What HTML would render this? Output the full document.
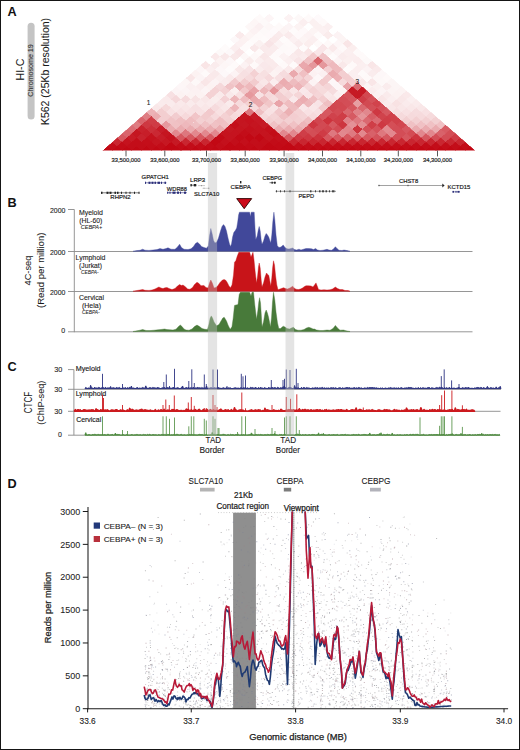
<!DOCTYPE html>
<html><head><meta charset="utf-8"><style>
html,body{margin:0;padding:0;background:#fff;}
body{width:520px;height:750px;position:relative;overflow:hidden;font-family:"Liberation Sans", sans-serif;}
.frame{position:absolute;left:0;top:0;width:518px;height:748px;border:1px solid #151515;pointer-events:none;}
</style></head><body>
<svg width="520" height="750" viewBox="0 0 520 750" style="position:absolute;left:0;top:0" font-family='"Liberation Sans", sans-serif'><rect x="0" y="0" width="520" height="750" fill="#fff"/><clipPath id="hicclip"><polygon points="102.50,150.50 475.20,150.50 288.85,-11.62"/></clipPath><g clip-path="url(#hicclip)" shape-rendering="crispEdges"><polygon points="102.50,150.50 107.40,146.23 112.31,150.50 107.40,154.77" fill="#c20814" stroke="#c20814" stroke-width="0.3"/><polygon points="107.40,146.23 112.31,141.97 117.21,146.23 112.31,150.50" fill="#c30d19" stroke="#c30d19" stroke-width="0.3"/><polygon points="112.31,141.97 117.21,137.70 122.12,141.97 117.21,146.23" fill="#c92630" stroke="#c92630" stroke-width="0.3"/><polygon points="117.21,137.70 122.12,133.43 127.02,137.70 122.12,141.97" fill="#d6575f" stroke="#d6575f" stroke-width="0.3"/><polygon points="122.12,133.43 127.02,129.17 131.92,133.43 127.02,137.70" fill="#d9646c" stroke="#d9646c" stroke-width="0.3"/><polygon points="127.02,129.17 131.92,124.90 136.83,129.17 131.92,133.43" fill="#db6c74" stroke="#db6c74" stroke-width="0.3"/><polygon points="131.92,124.90 136.83,120.63 141.73,124.90 136.83,129.17" fill="#df7c82" stroke="#df7c82" stroke-width="0.3"/><polygon points="136.83,120.63 141.73,116.37 146.64,120.63 141.73,124.90" fill="#d9656d" stroke="#d9656d" stroke-width="0.3"/><polygon points="141.73,116.37 146.64,112.10 151.54,116.37 146.64,120.63" fill="#df7d83" stroke="#df7d83" stroke-width="0.3"/><polygon points="146.64,112.10 151.54,107.84 156.44,112.10 151.54,116.37" fill="#ecb2b6" stroke="#ecb2b6" stroke-width="0.3"/><polygon points="151.54,107.84 156.44,103.57 161.35,107.84 156.44,112.10" fill="#f9e7e8" stroke="#f9e7e8" stroke-width="0.3"/><polygon points="156.44,103.57 161.35,99.30 166.25,103.57 161.35,107.84" fill="#faebec" stroke="#faebec" stroke-width="0.3"/><polygon points="161.35,99.30 166.25,95.04 171.16,99.30 166.25,103.57" fill="#faeaeb" stroke="#faeaeb" stroke-width="0.3"/><polygon points="166.25,95.04 171.16,90.77 176.06,95.04 171.16,99.30" fill="#f7e0e2" stroke="#f7e0e2" stroke-width="0.3"/><polygon points="171.16,90.77 176.06,86.50 180.96,90.77 176.06,95.04" fill="#fcf4f5" stroke="#fcf4f5" stroke-width="0.3"/><polygon points="176.06,86.50 180.96,82.24 185.87,86.50 180.96,90.77" fill="#fdf6f7" stroke="#fdf6f7" stroke-width="0.3"/><polygon points="180.96,82.24 185.87,77.97 190.77,82.24 185.87,86.50" fill="#fdf6f6" stroke="#fdf6f6" stroke-width="0.3"/><polygon points="185.87,77.97 190.77,73.70 195.67,77.97 190.77,82.24" fill="#f9e6e7" stroke="#f9e6e7" stroke-width="0.3"/><polygon points="190.77,73.70 195.68,69.44 200.58,73.70 195.68,77.97" fill="#fcf2f2" stroke="#fcf2f2" stroke-width="0.3"/><polygon points="195.67,69.44 200.58,65.17 205.48,69.44 200.58,73.70" fill="#fdf6f7" stroke="#fdf6f7" stroke-width="0.3"/><polygon points="200.58,65.17 205.48,60.90 210.39,65.17 205.48,69.44" fill="#f9e5e6" stroke="#f9e5e6" stroke-width="0.3"/><polygon points="210.39,56.64 215.29,52.37 220.19,56.64 215.29,60.90" fill="#fae9ea" stroke="#fae9ea" stroke-width="0.3"/><polygon points="215.29,52.37 220.19,48.11 225.10,52.37 220.19,56.64" fill="#fdf9f9" stroke="#fdf9f9" stroke-width="0.3"/><polygon points="220.19,48.11 225.10,43.84 230.00,48.11 225.10,52.37" fill="#fefbfb" stroke="#fefbfb" stroke-width="0.3"/><polygon points="230.00,39.57 234.91,35.31 239.81,39.57 234.91,43.84" fill="#fdf8f9" stroke="#fdf8f9" stroke-width="0.3"/><polygon points="234.91,35.31 239.81,31.04 244.71,35.31 239.81,39.57" fill="#faeaeb" stroke="#faeaeb" stroke-width="0.3"/><polygon points="244.71,26.77 249.62,22.51 254.52,26.77 249.62,31.04" fill="#fdf7f7" stroke="#fdf7f7" stroke-width="0.3"/><polygon points="249.62,22.51 254.52,18.24 259.43,22.51 254.52,26.77" fill="#fdf6f6" stroke="#fdf6f6" stroke-width="0.3"/><polygon points="254.52,18.24 259.43,13.97 264.33,18.24 259.43,22.51" fill="#fefafa" stroke="#fefafa" stroke-width="0.3"/><polygon points="112.31,150.50 117.21,146.23 122.12,150.50 117.21,154.77" fill="#c20814" stroke="#c20814" stroke-width="0.3"/><polygon points="117.21,146.23 122.12,141.97 127.02,146.23 122.12,150.50" fill="#c30c18" stroke="#c30c18" stroke-width="0.3"/><polygon points="122.12,141.97 127.02,137.70 131.92,141.97 127.02,146.23" fill="#c5121e" stroke="#c5121e" stroke-width="0.3"/><polygon points="127.02,137.70 131.92,133.43 136.83,137.70 131.92,141.97" fill="#c71b26" stroke="#c71b26" stroke-width="0.3"/><polygon points="131.92,133.43 136.83,129.17 141.73,133.43 136.83,137.70" fill="#c51621" stroke="#c51621" stroke-width="0.3"/><polygon points="136.83,129.17 141.73,124.90 146.64,129.17 141.73,133.43" fill="#c8212c" stroke="#c8212c" stroke-width="0.3"/><polygon points="141.73,124.90 146.64,120.63 151.54,124.90 146.64,129.17" fill="#ce3842" stroke="#ce3842" stroke-width="0.3"/><polygon points="146.64,120.63 151.54,116.37 156.44,120.63 151.54,124.90" fill="#cf3d46" stroke="#cf3d46" stroke-width="0.3"/><polygon points="151.54,116.37 156.44,112.10 161.35,116.37 156.44,120.63" fill="#eaacb0" stroke="#eaacb0" stroke-width="0.3"/><polygon points="156.44,112.10 161.35,107.84 166.25,112.10 161.35,116.37" fill="#f3ced0" stroke="#f3ced0" stroke-width="0.3"/><polygon points="161.35,107.84 166.25,103.57 171.16,107.84 166.25,112.10" fill="#f6d9da" stroke="#f6d9da" stroke-width="0.3"/><polygon points="166.25,103.57 171.16,99.30 176.06,103.57 171.16,107.84" fill="#faebec" stroke="#faebec" stroke-width="0.3"/><polygon points="171.16,99.30 176.06,95.04 180.96,99.30 176.06,103.57" fill="#f5d8da" stroke="#f5d8da" stroke-width="0.3"/><polygon points="176.06,95.04 180.96,90.77 185.87,95.04 180.96,99.30" fill="#fcf2f2" stroke="#fcf2f2" stroke-width="0.3"/><polygon points="180.96,90.77 185.87,86.50 190.77,90.77 185.87,95.04" fill="#fcf4f5" stroke="#fcf4f5" stroke-width="0.3"/><polygon points="185.87,86.50 190.77,82.24 195.67,86.50 190.77,90.77" fill="#fbf0f1" stroke="#fbf0f1" stroke-width="0.3"/><polygon points="190.77,82.24 195.68,77.97 200.58,82.24 195.68,86.50" fill="#fdf8f8" stroke="#fdf8f8" stroke-width="0.3"/><polygon points="195.67,77.97 200.58,73.70 205.48,77.97 200.58,82.24" fill="#fcf4f5" stroke="#fcf4f5" stroke-width="0.3"/><polygon points="200.58,73.70 205.48,69.44 210.39,73.70 205.48,77.97" fill="#fefafa" stroke="#fefafa" stroke-width="0.3"/><polygon points="205.48,69.44 210.39,65.17 215.29,69.44 210.39,73.70" fill="#fbeff0" stroke="#fbeff0" stroke-width="0.3"/><polygon points="210.39,65.17 215.29,60.90 220.19,65.17 215.29,69.44" fill="#faeced" stroke="#faeced" stroke-width="0.3"/><polygon points="215.29,60.90 220.19,56.64 225.10,60.90 220.19,65.17" fill="#fcf2f2" stroke="#fcf2f2" stroke-width="0.3"/><polygon points="220.19,56.64 225.10,52.37 230.00,56.64 225.10,60.90" fill="#f9e8e9" stroke="#f9e8e9" stroke-width="0.3"/><polygon points="225.10,52.37 230.00,48.11 234.91,52.37 230.00,56.64" fill="#fdf8f9" stroke="#fdf8f9" stroke-width="0.3"/><polygon points="230.00,48.11 234.91,43.84 239.81,48.11 234.91,52.37" fill="#fbeeef" stroke="#fbeeef" stroke-width="0.3"/><polygon points="234.91,43.84 239.81,39.57 244.71,43.84 239.81,48.11" fill="#fcf1f2" stroke="#fcf1f2" stroke-width="0.3"/><polygon points="239.81,39.57 244.71,35.31 249.62,39.57 244.71,43.84" fill="#fcf2f2" stroke="#fcf2f2" stroke-width="0.3"/><polygon points="244.71,35.31 249.62,31.04 254.52,35.31 249.62,39.57" fill="#fdf5f5" stroke="#fdf5f5" stroke-width="0.3"/><polygon points="249.62,31.04 254.52,26.77 259.43,31.04 254.52,35.31" fill="#fcf2f3" stroke="#fcf2f3" stroke-width="0.3"/><polygon points="254.52,26.77 259.43,22.51 264.33,26.77 259.43,31.04" fill="#fbf0f1" stroke="#fbf0f1" stroke-width="0.3"/><polygon points="259.43,22.51 264.33,18.24 269.23,22.51 264.33,26.77" fill="#fdf9f9" stroke="#fdf9f9" stroke-width="0.3"/><polygon points="264.33,18.24 269.23,13.97 274.14,18.24 269.23,22.51" fill="#fdf5f6" stroke="#fdf5f6" stroke-width="0.3"/><polygon points="122.12,150.50 127.02,146.23 131.92,150.50 127.02,154.77" fill="#c20814" stroke="#c20814" stroke-width="0.3"/><polygon points="127.02,146.23 131.92,141.97 136.83,146.23 131.92,150.50" fill="#c30d19" stroke="#c30d19" stroke-width="0.3"/><polygon points="131.92,141.97 136.83,137.70 141.73,141.97 136.83,146.23" fill="#c30d19" stroke="#c30d19" stroke-width="0.3"/><polygon points="136.83,137.70 141.73,133.43 146.64,137.70 141.73,141.97" fill="#c8222d" stroke="#c8222d" stroke-width="0.3"/><polygon points="141.73,133.43 146.64,129.17 151.54,133.43 146.64,137.70" fill="#c71e29" stroke="#c71e29" stroke-width="0.3"/><polygon points="146.64,129.17 151.54,124.90 156.44,129.17 151.54,133.43" fill="#cc2f39" stroke="#cc2f39" stroke-width="0.3"/><polygon points="151.54,124.90 156.44,120.63 161.35,124.90 156.44,129.17" fill="#cf3b45" stroke="#cf3b45" stroke-width="0.3"/><polygon points="156.44,120.63 161.35,116.37 166.25,120.63 161.35,124.90" fill="#f3ced1" stroke="#f3ced1" stroke-width="0.3"/><polygon points="161.35,116.37 166.25,112.10 171.16,116.37 166.25,120.63" fill="#f3ced0" stroke="#f3ced0" stroke-width="0.3"/><polygon points="166.25,112.10 171.16,107.84 176.06,112.10 171.16,116.37" fill="#f8e1e3" stroke="#f8e1e3" stroke-width="0.3"/><polygon points="171.16,107.84 176.06,103.57 180.96,107.84 176.06,112.10" fill="#f9e7e8" stroke="#f9e7e8" stroke-width="0.3"/><polygon points="176.06,103.57 180.96,99.30 185.87,103.57 180.96,107.84" fill="#fae9ea" stroke="#fae9ea" stroke-width="0.3"/><polygon points="180.96,99.30 185.87,95.04 190.77,99.30 185.87,103.57" fill="#f6dbdd" stroke="#f6dbdd" stroke-width="0.3"/><polygon points="185.87,95.04 190.77,90.77 195.67,95.04 190.77,99.30" fill="#fcf2f2" stroke="#fcf2f2" stroke-width="0.3"/><polygon points="190.77,90.77 195.68,86.50 200.58,90.77 195.68,95.04" fill="#fcf1f2" stroke="#fcf1f2" stroke-width="0.3"/><polygon points="195.67,86.50 200.58,82.24 205.48,86.50 200.58,90.77" fill="#fbeeef" stroke="#fbeeef" stroke-width="0.3"/><polygon points="200.58,82.24 205.48,77.97 210.39,82.24 205.48,86.50" fill="#f9e6e7" stroke="#f9e6e7" stroke-width="0.3"/><polygon points="205.48,77.97 210.39,73.70 215.29,77.97 210.39,82.24" fill="#fae9ea" stroke="#fae9ea" stroke-width="0.3"/><polygon points="210.39,73.70 215.29,69.44 220.19,73.70 215.29,77.97" fill="#f9e9ea" stroke="#f9e9ea" stroke-width="0.3"/><polygon points="215.29,69.44 220.19,65.17 225.10,69.44 220.19,73.70" fill="#fdf7f8" stroke="#fdf7f8" stroke-width="0.3"/><polygon points="220.19,65.17 225.10,60.90 230.00,65.17 225.10,69.44" fill="#fdf6f6" stroke="#fdf6f6" stroke-width="0.3"/><polygon points="225.10,60.90 230.00,56.64 234.91,60.90 230.00,65.17" fill="#fdf7f8" stroke="#fdf7f8" stroke-width="0.3"/><polygon points="230.00,56.64 234.91,52.37 239.81,56.64 234.91,60.90" fill="#f9e8e9" stroke="#f9e8e9" stroke-width="0.3"/><polygon points="234.91,52.37 239.81,48.11 244.71,52.37 239.81,56.64" fill="#f9e5e7" stroke="#f9e5e7" stroke-width="0.3"/><polygon points="239.81,48.11 244.71,43.84 249.62,48.11 244.71,52.37" fill="#fefbfb" stroke="#fefbfb" stroke-width="0.3"/><polygon points="244.71,43.84 249.62,39.57 254.52,43.84 249.62,48.11" fill="#fefbfb" stroke="#fefbfb" stroke-width="0.3"/><polygon points="249.62,39.57 254.52,35.31 259.43,39.57 254.52,43.84" fill="#fefafa" stroke="#fefafa" stroke-width="0.3"/><polygon points="254.52,35.31 259.43,31.04 264.33,35.31 259.43,39.57" fill="#fefafa" stroke="#fefafa" stroke-width="0.3"/><polygon points="259.43,31.04 264.33,26.77 269.23,31.04 264.33,35.31" fill="#fdf9f9" stroke="#fdf9f9" stroke-width="0.3"/><polygon points="264.33,26.77 269.23,22.51 274.14,26.77 269.23,31.04" fill="#fdf7f7" stroke="#fdf7f7" stroke-width="0.3"/><polygon points="131.92,150.50 136.83,146.23 141.73,150.50 136.83,154.77" fill="#c20814" stroke="#c20814" stroke-width="0.3"/><polygon points="136.83,146.23 141.73,141.97 146.64,146.23 141.73,150.50" fill="#c30d19" stroke="#c30d19" stroke-width="0.3"/><polygon points="141.73,141.97 146.64,137.70 151.54,141.97 146.64,146.23" fill="#c40e1a" stroke="#c40e1a" stroke-width="0.3"/><polygon points="146.64,137.70 151.54,133.43 156.44,137.70 151.54,141.97" fill="#c4121d" stroke="#c4121d" stroke-width="0.3"/><polygon points="151.54,133.43 156.44,129.17 161.35,133.43 156.44,137.70" fill="#ca2833" stroke="#ca2833" stroke-width="0.3"/><polygon points="156.44,129.17 161.35,124.90 166.25,129.17 161.35,133.43" fill="#c71c28" stroke="#c71c28" stroke-width="0.3"/><polygon points="161.35,124.90 166.25,120.63 171.16,124.90 166.25,129.17" fill="#e6999e" stroke="#e6999e" stroke-width="0.3"/><polygon points="166.25,120.63 171.16,116.37 176.06,120.63 171.16,124.90" fill="#f0c3c6" stroke="#f0c3c6" stroke-width="0.3"/><polygon points="171.16,116.37 176.06,112.10 180.96,116.37 176.06,120.63" fill="#f2cccf" stroke="#f2cccf" stroke-width="0.3"/><polygon points="176.06,112.10 180.96,107.84 185.87,112.10 180.96,116.37" fill="#f8e1e3" stroke="#f8e1e3" stroke-width="0.3"/><polygon points="180.96,107.84 185.87,103.57 190.77,107.84 185.87,112.10" fill="#f9e6e7" stroke="#f9e6e7" stroke-width="0.3"/><polygon points="185.87,103.57 190.77,99.30 195.67,103.57 190.77,107.84" fill="#faebec" stroke="#faebec" stroke-width="0.3"/><polygon points="190.77,99.30 195.68,95.04 200.58,99.30 195.68,103.57" fill="#f8e3e4" stroke="#f8e3e4" stroke-width="0.3"/><polygon points="195.67,95.04 200.58,90.77 205.48,95.04 200.58,99.30" fill="#fcf2f2" stroke="#fcf2f2" stroke-width="0.3"/><polygon points="200.58,90.77 205.48,86.50 210.39,90.77 205.48,95.04" fill="#fcf4f5" stroke="#fcf4f5" stroke-width="0.3"/><polygon points="205.48,86.50 210.39,82.24 215.29,86.50 210.39,90.77" fill="#fcf2f2" stroke="#fcf2f2" stroke-width="0.3"/><polygon points="210.39,82.24 215.29,77.97 220.19,82.24 215.29,86.50" fill="#fcf3f4" stroke="#fcf3f4" stroke-width="0.3"/><polygon points="215.29,77.97 220.19,73.70 225.10,77.97 220.19,82.24" fill="#fbeff0" stroke="#fbeff0" stroke-width="0.3"/><polygon points="220.19,73.70 225.10,69.44 230.00,73.70 225.10,77.97" fill="#fdf8f9" stroke="#fdf8f9" stroke-width="0.3"/><polygon points="225.10,69.44 230.00,65.17 234.91,69.44 230.00,73.70" fill="#fefbfb" stroke="#fefbfb" stroke-width="0.3"/><polygon points="230.00,65.17 234.91,60.90 239.81,65.17 234.91,69.44" fill="#fefafa" stroke="#fefafa" stroke-width="0.3"/><polygon points="239.81,56.64 244.71,52.37 249.62,56.64 244.71,60.90" fill="#fdf7f7" stroke="#fdf7f7" stroke-width="0.3"/><polygon points="249.62,48.11 254.52,43.84 259.43,48.11 254.52,52.37" fill="#f9e8e9" stroke="#f9e8e9" stroke-width="0.3"/><polygon points="254.52,43.84 259.43,39.57 264.33,43.84 259.43,48.11" fill="#fbf1f1" stroke="#fbf1f1" stroke-width="0.3"/><polygon points="259.43,39.57 264.33,35.31 269.23,39.57 264.33,43.84" fill="#fefbfb" stroke="#fefbfb" stroke-width="0.3"/><polygon points="264.33,35.31 269.23,31.04 274.14,35.31 269.23,39.57" fill="#fef9fa" stroke="#fef9fa" stroke-width="0.3"/><polygon points="269.23,31.04 274.14,26.77 279.04,31.04 274.14,35.31" fill="#fefafb" stroke="#fefafb" stroke-width="0.3"/><polygon points="274.14,26.77 279.04,22.51 283.95,26.77 279.04,31.04" fill="#fefafa" stroke="#fefafa" stroke-width="0.3"/><polygon points="283.95,18.24 288.85,13.97 293.75,18.24 288.85,22.51" fill="#fcf2f3" stroke="#fcf2f3" stroke-width="0.3"/><polygon points="141.73,150.50 146.64,146.23 151.54,150.50 146.64,154.77" fill="#c20814" stroke="#c20814" stroke-width="0.3"/><polygon points="146.64,146.23 151.54,141.97 156.44,146.23 151.54,150.50" fill="#c30d19" stroke="#c30d19" stroke-width="0.3"/><polygon points="151.54,141.97 156.44,137.70 161.35,141.97 156.44,146.23" fill="#c51520" stroke="#c51520" stroke-width="0.3"/><polygon points="156.44,137.70 161.35,133.43 166.25,137.70 161.35,141.97" fill="#c71c27" stroke="#c71c27" stroke-width="0.3"/><polygon points="161.35,133.43 166.25,129.17 171.16,133.43 166.25,137.70" fill="#c51520" stroke="#c51520" stroke-width="0.3"/><polygon points="166.25,129.17 171.16,124.90 176.06,129.17 171.16,133.43" fill="#eaabaf" stroke="#eaabaf" stroke-width="0.3"/><polygon points="171.16,124.90 176.06,120.63 180.96,124.90 176.06,129.17" fill="#f0c1c4" stroke="#f0c1c4" stroke-width="0.3"/><polygon points="176.06,120.63 180.96,116.37 185.87,120.63 180.96,124.90" fill="#efbfc2" stroke="#efbfc2" stroke-width="0.3"/><polygon points="180.96,116.37 185.87,112.10 190.77,116.37 185.87,120.63" fill="#f6d9db" stroke="#f6d9db" stroke-width="0.3"/><polygon points="185.87,112.10 190.77,107.84 195.67,112.10 190.77,116.37" fill="#f8e1e3" stroke="#f8e1e3" stroke-width="0.3"/><polygon points="190.77,107.84 195.68,103.57 200.58,107.84 195.68,112.10" fill="#f7e0e2" stroke="#f7e0e2" stroke-width="0.3"/><polygon points="195.67,103.57 200.58,99.30 205.48,103.57 200.58,107.84" fill="#faebec" stroke="#faebec" stroke-width="0.3"/><polygon points="200.58,99.30 205.48,95.04 210.39,99.30 205.48,103.57" fill="#f9e7e8" stroke="#f9e7e8" stroke-width="0.3"/><polygon points="205.48,95.04 210.39,90.77 215.29,95.04 210.39,99.30" fill="#f4d2d4" stroke="#f4d2d4" stroke-width="0.3"/><polygon points="210.39,90.77 215.29,86.50 220.19,90.77 215.29,95.04" fill="#f4d2d4" stroke="#f4d2d4" stroke-width="0.3"/><polygon points="215.29,86.50 220.19,82.24 225.10,86.50 220.19,90.77" fill="#f5d8da" stroke="#f5d8da" stroke-width="0.3"/><polygon points="220.19,82.24 225.10,77.97 230.00,82.24 225.10,86.50" fill="#faeced" stroke="#faeced" stroke-width="0.3"/><polygon points="225.10,77.97 230.00,73.70 234.91,77.97 230.00,82.24" fill="#faeaeb" stroke="#faeaeb" stroke-width="0.3"/><polygon points="230.00,73.70 234.91,69.44 239.81,73.70 234.91,77.97" fill="#fcf3f4" stroke="#fcf3f4" stroke-width="0.3"/><polygon points="234.91,69.44 239.81,65.17 244.71,69.44 239.81,73.70" fill="#f9e8e9" stroke="#f9e8e9" stroke-width="0.3"/><polygon points="239.81,65.17 244.71,60.90 249.62,65.17 244.71,69.44" fill="#fcf2f3" stroke="#fcf2f3" stroke-width="0.3"/><polygon points="244.71,60.90 249.62,56.64 254.52,60.90 249.62,65.17" fill="#faecec" stroke="#faecec" stroke-width="0.3"/><polygon points="249.62,56.64 254.52,52.37 259.43,56.64 254.52,60.90" fill="#fdf8f8" stroke="#fdf8f8" stroke-width="0.3"/><polygon points="254.52,52.37 259.43,48.11 264.33,52.37 259.43,56.64" fill="#fefafa" stroke="#fefafa" stroke-width="0.3"/><polygon points="259.43,48.11 264.33,43.84 269.23,48.11 264.33,52.37" fill="#faeaeb" stroke="#faeaeb" stroke-width="0.3"/><polygon points="264.33,43.84 269.23,39.57 274.14,43.84 269.23,48.11" fill="#f8e4e6" stroke="#f8e4e6" stroke-width="0.3"/><polygon points="269.23,39.57 274.14,35.31 279.04,39.57 274.14,43.84" fill="#fae9ea" stroke="#fae9ea" stroke-width="0.3"/><polygon points="274.14,35.31 279.04,31.04 283.95,35.31 279.04,39.57" fill="#faebec" stroke="#faebec" stroke-width="0.3"/><polygon points="279.04,31.04 283.95,26.77 288.85,31.04 283.95,35.31" fill="#fcf3f3" stroke="#fcf3f3" stroke-width="0.3"/><polygon points="283.95,26.77 288.85,22.51 293.75,26.77 288.85,31.04" fill="#fcf4f5" stroke="#fcf4f5" stroke-width="0.3"/><polygon points="293.75,18.24 298.66,13.97 303.56,18.24 298.66,22.51" fill="#fdf8f8" stroke="#fdf8f8" stroke-width="0.3"/><polygon points="151.54,150.50 156.44,146.23 161.35,150.50 156.44,154.77" fill="#c20814" stroke="#c20814" stroke-width="0.3"/><polygon points="156.44,146.23 161.35,141.97 166.25,146.23 161.35,150.50" fill="#c30d19" stroke="#c30d19" stroke-width="0.3"/><polygon points="161.35,141.97 166.25,137.70 171.16,141.97 166.25,146.23" fill="#c61722" stroke="#c61722" stroke-width="0.3"/><polygon points="166.25,137.70 171.16,133.43 176.06,137.70 171.16,141.97" fill="#c4111d" stroke="#c4111d" stroke-width="0.3"/><polygon points="171.16,133.43 176.06,129.17 180.96,133.43 176.06,137.70" fill="#e2888e" stroke="#e2888e" stroke-width="0.3"/><polygon points="176.06,129.17 180.96,124.90 185.87,129.17 180.96,133.43" fill="#eaabaf" stroke="#eaabaf" stroke-width="0.3"/><polygon points="180.96,124.90 185.87,120.63 190.77,124.90 185.87,129.17" fill="#eeb8bc" stroke="#eeb8bc" stroke-width="0.3"/><polygon points="185.87,120.63 190.77,116.37 195.67,120.63 190.77,124.90" fill="#efbdc0" stroke="#efbdc0" stroke-width="0.3"/><polygon points="190.77,116.37 195.68,112.10 200.58,116.37 195.68,120.63" fill="#f1c5c8" stroke="#f1c5c8" stroke-width="0.3"/><polygon points="195.67,112.10 200.58,107.84 205.48,112.10 200.58,116.37" fill="#f8e1e3" stroke="#f8e1e3" stroke-width="0.3"/><polygon points="200.58,107.84 205.48,103.57 210.39,107.84 205.48,112.10" fill="#f9e7e8" stroke="#f9e7e8" stroke-width="0.3"/><polygon points="205.48,103.57 210.39,99.30 215.29,103.57 210.39,107.84" fill="#faebec" stroke="#faebec" stroke-width="0.3"/><polygon points="210.39,99.30 215.29,95.04 220.19,99.30 215.29,103.57" fill="#faeded" stroke="#faeded" stroke-width="0.3"/><polygon points="215.29,95.04 220.19,90.77 225.10,95.04 220.19,99.30" fill="#faeaeb" stroke="#faeaeb" stroke-width="0.3"/><polygon points="220.19,90.77 225.10,86.50 230.00,90.77 225.10,95.04" fill="#f4d2d4" stroke="#f4d2d4" stroke-width="0.3"/><polygon points="225.10,86.50 230.00,82.24 234.91,86.50 230.00,90.77" fill="#f0c3c6" stroke="#f0c3c6" stroke-width="0.3"/><polygon points="230.00,82.24 234.91,77.97 239.81,82.24 234.91,86.50" fill="#f2cacd" stroke="#f2cacd" stroke-width="0.3"/><polygon points="234.91,77.97 239.81,73.70 244.71,77.97 239.81,82.24" fill="#f8e1e2" stroke="#f8e1e2" stroke-width="0.3"/><polygon points="239.81,73.70 244.71,69.44 249.62,73.70 244.71,77.97" fill="#f7e0e2" stroke="#f7e0e2" stroke-width="0.3"/><polygon points="244.71,69.44 249.62,65.17 254.52,69.44 249.62,73.70" fill="#f8e3e5" stroke="#f8e3e5" stroke-width="0.3"/><polygon points="249.62,65.17 254.52,60.90 259.43,65.17 254.52,69.44" fill="#fef9f9" stroke="#fef9f9" stroke-width="0.3"/><polygon points="254.52,60.90 259.43,56.64 264.33,60.90 259.43,65.17" fill="#fbeff0" stroke="#fbeff0" stroke-width="0.3"/><polygon points="259.43,56.64 264.33,52.37 269.23,56.64 264.33,60.90" fill="#f9e7e8" stroke="#f9e7e8" stroke-width="0.3"/><polygon points="264.33,52.37 269.23,48.11 274.14,52.37 269.23,56.64" fill="#faebec" stroke="#faebec" stroke-width="0.3"/><polygon points="269.23,48.11 274.14,43.84 279.04,48.11 274.14,52.37" fill="#faeced" stroke="#faeced" stroke-width="0.3"/><polygon points="274.14,43.84 279.04,39.57 283.95,43.84 279.04,48.11" fill="#fcf4f5" stroke="#fcf4f5" stroke-width="0.3"/><polygon points="279.04,39.57 283.95,35.31 288.85,39.57 283.95,43.84" fill="#fefbfb" stroke="#fefbfb" stroke-width="0.3"/><polygon points="283.95,35.31 288.85,31.04 293.75,35.31 288.85,39.57" fill="#faebec" stroke="#faebec" stroke-width="0.3"/><polygon points="288.85,31.04 293.75,26.77 298.66,31.04 293.75,35.31" fill="#fefbfb" stroke="#fefbfb" stroke-width="0.3"/><polygon points="293.75,26.77 298.66,22.51 303.56,26.77 298.66,31.04" fill="#fcf3f3" stroke="#fcf3f3" stroke-width="0.3"/><polygon points="298.66,22.51 303.56,18.24 308.47,22.51 303.56,26.77" fill="#fbeff0" stroke="#fbeff0" stroke-width="0.3"/><polygon points="303.56,18.24 308.47,13.97 313.37,18.24 308.47,22.51" fill="#fefafa" stroke="#fefafa" stroke-width="0.3"/><polygon points="161.35,150.50 166.25,146.23 171.16,150.50 166.25,154.77" fill="#c20814" stroke="#c20814" stroke-width="0.3"/><polygon points="166.25,146.23 171.16,141.97 176.06,146.23 171.16,150.50" fill="#c20814" stroke="#c20814" stroke-width="0.3"/><polygon points="171.16,141.97 176.06,137.70 180.96,141.97 176.06,146.23" fill="#c61924" stroke="#c61924" stroke-width="0.3"/><polygon points="176.06,137.70 180.96,133.43 185.87,137.70 180.96,141.97" fill="#d6575f" stroke="#d6575f" stroke-width="0.3"/><polygon points="180.96,133.43 185.87,129.17 190.77,133.43 185.87,137.70" fill="#dd777e" stroke="#dd777e" stroke-width="0.3"/><polygon points="185.87,129.17 190.77,124.90 195.67,129.17 190.77,133.43" fill="#eaabaf" stroke="#eaabaf" stroke-width="0.3"/><polygon points="190.77,124.90 195.68,120.63 200.58,124.90 195.68,129.17" fill="#efc0c3" stroke="#efc0c3" stroke-width="0.3"/><polygon points="195.67,120.63 200.58,116.37 205.48,120.63 200.58,124.90" fill="#f3d0d2" stroke="#f3d0d2" stroke-width="0.3"/><polygon points="200.58,116.37 205.48,112.10 210.39,116.37 205.48,120.63" fill="#f2cbcd" stroke="#f2cbcd" stroke-width="0.3"/><polygon points="205.48,112.10 210.39,107.84 215.29,112.10 210.39,116.37" fill="#f2c9cc" stroke="#f2c9cc" stroke-width="0.3"/><polygon points="210.39,107.84 215.29,103.57 220.19,107.84 215.29,112.10" fill="#f6dbdd" stroke="#f6dbdd" stroke-width="0.3"/><polygon points="215.29,103.57 220.19,99.30 225.10,103.57 220.19,107.84" fill="#f8e3e5" stroke="#f8e3e5" stroke-width="0.3"/><polygon points="220.19,99.30 225.10,95.04 230.00,99.30 225.10,103.57" fill="#f4d2d5" stroke="#f4d2d5" stroke-width="0.3"/><polygon points="225.10,95.04 230.00,90.77 234.91,95.04 230.00,99.30" fill="#f9e9ea" stroke="#f9e9ea" stroke-width="0.3"/><polygon points="230.00,90.77 234.91,86.50 239.81,90.77 234.91,95.04" fill="#fbf0f0" stroke="#fbf0f0" stroke-width="0.3"/><polygon points="234.91,86.50 239.81,82.24 244.71,86.50 239.81,90.77" fill="#ecb2b6" stroke="#ecb2b6" stroke-width="0.3"/><polygon points="239.81,82.24 244.71,77.97 249.62,82.24 244.71,86.50" fill="#f2ccce" stroke="#f2ccce" stroke-width="0.3"/><polygon points="244.71,77.97 249.62,73.70 254.52,77.97 249.62,82.24" fill="#f6dadc" stroke="#f6dadc" stroke-width="0.3"/><polygon points="249.62,73.70 254.52,69.44 259.43,73.70 254.52,77.97" fill="#f4d1d3" stroke="#f4d1d3" stroke-width="0.3"/><polygon points="254.52,69.44 259.43,65.17 264.33,69.44 259.43,73.70" fill="#faeced" stroke="#faeced" stroke-width="0.3"/><polygon points="259.43,65.17 264.33,60.90 269.23,65.17 264.33,69.44" fill="#f9e8ea" stroke="#f9e8ea" stroke-width="0.3"/><polygon points="264.33,60.90 269.23,56.64 274.14,60.90 269.23,65.17" fill="#faeaeb" stroke="#faeaeb" stroke-width="0.3"/><polygon points="269.23,56.64 274.14,52.37 279.04,56.64 274.14,60.90" fill="#fefafa" stroke="#fefafa" stroke-width="0.3"/><polygon points="274.14,52.37 279.04,48.11 283.95,52.37 279.04,56.64" fill="#fef9fa" stroke="#fef9fa" stroke-width="0.3"/><polygon points="279.04,48.11 283.95,43.84 288.85,48.11 283.95,52.37" fill="#fdf9f9" stroke="#fdf9f9" stroke-width="0.3"/><polygon points="283.95,43.84 288.85,39.57 293.75,43.84 288.85,48.11" fill="#fefafa" stroke="#fefafa" stroke-width="0.3"/><polygon points="288.85,39.57 293.75,35.31 298.66,39.57 293.75,43.84" fill="#fcf1f2" stroke="#fcf1f2" stroke-width="0.3"/><polygon points="293.75,35.31 298.66,31.04 303.56,35.31 298.66,39.57" fill="#fef9fa" stroke="#fef9fa" stroke-width="0.3"/><polygon points="298.66,31.04 303.56,26.77 308.47,31.04 303.56,35.31" fill="#fef9fa" stroke="#fef9fa" stroke-width="0.3"/><polygon points="308.47,22.51 313.37,18.24 318.27,22.51 313.37,26.77" fill="#fbf1f1" stroke="#fbf1f1" stroke-width="0.3"/><polygon points="313.37,18.24 318.27,13.97 323.18,18.24 318.27,22.51" fill="#fefafb" stroke="#fefafb" stroke-width="0.3"/><polygon points="171.16,150.50 176.06,146.23 180.96,150.50 176.06,154.77" fill="#c20814" stroke="#c20814" stroke-width="0.3"/><polygon points="176.06,146.23 180.96,141.97 185.87,146.23 180.96,150.50" fill="#c30c18" stroke="#c30c18" stroke-width="0.3"/><polygon points="180.96,141.97 185.87,137.70 190.77,141.97 185.87,146.23" fill="#c92630" stroke="#c92630" stroke-width="0.3"/><polygon points="185.87,137.70 190.77,133.43 195.67,137.70 190.77,141.97" fill="#d6575f" stroke="#d6575f" stroke-width="0.3"/><polygon points="190.77,133.43 195.68,129.17 200.58,133.43 195.68,137.70" fill="#e2888e" stroke="#e2888e" stroke-width="0.3"/><polygon points="195.67,129.17 200.58,124.90 205.48,129.17 200.58,133.43" fill="#eaabaf" stroke="#eaabaf" stroke-width="0.3"/><polygon points="200.58,124.90 205.48,120.63 210.39,124.90 205.48,129.17" fill="#f0c1c4" stroke="#f0c1c4" stroke-width="0.3"/><polygon points="205.48,120.63 210.39,116.37 215.29,120.63 210.39,124.90" fill="#f3d0d2" stroke="#f3d0d2" stroke-width="0.3"/><polygon points="210.39,116.37 215.29,112.10 220.19,116.37 215.29,120.63" fill="#f6dadc" stroke="#f6dadc" stroke-width="0.3"/><polygon points="215.29,112.10 220.19,107.84 225.10,112.10 220.19,116.37" fill="#f8e1e2" stroke="#f8e1e2" stroke-width="0.3"/><polygon points="220.19,107.84 225.10,103.57 230.00,107.84 225.10,112.10" fill="#f9e7e8" stroke="#f9e7e8" stroke-width="0.3"/><polygon points="225.10,103.57 230.00,99.30 234.91,103.57 230.00,107.84" fill="#faebec" stroke="#faebec" stroke-width="0.3"/><polygon points="230.00,99.30 234.91,95.04 239.81,99.30 234.91,103.57" fill="#edb6b9" stroke="#edb6b9" stroke-width="0.3"/><polygon points="234.91,95.04 239.81,90.77 244.71,95.04 239.81,99.30" fill="#f8e1e2" stroke="#f8e1e2" stroke-width="0.3"/><polygon points="239.81,90.77 244.71,86.50 249.62,90.77 244.71,95.04" fill="#f2c9cb" stroke="#f2c9cb" stroke-width="0.3"/><polygon points="244.71,86.50 249.62,82.24 254.52,86.50 249.62,90.77" fill="#eeb9bc" stroke="#eeb9bc" stroke-width="0.3"/><polygon points="249.62,82.24 254.52,77.97 259.43,82.24 254.52,86.50" fill="#f2ccce" stroke="#f2ccce" stroke-width="0.3"/><polygon points="254.52,77.97 259.43,73.70 264.33,77.97 259.43,82.24" fill="#f8e1e3" stroke="#f8e1e3" stroke-width="0.3"/><polygon points="259.43,73.70 264.33,69.44 269.23,73.70 264.33,77.97" fill="#f7e0e1" stroke="#f7e0e1" stroke-width="0.3"/><polygon points="264.33,69.44 269.23,65.17 274.14,69.44 269.23,73.70" fill="#f9e7e8" stroke="#f9e7e8" stroke-width="0.3"/><polygon points="269.23,65.17 274.14,60.90 279.04,65.17 274.14,69.44" fill="#faeaeb" stroke="#faeaeb" stroke-width="0.3"/><polygon points="274.14,60.90 279.04,56.64 283.95,60.90 279.04,65.17" fill="#fefbfb" stroke="#fefbfb" stroke-width="0.3"/><polygon points="279.04,56.64 283.95,52.37 288.85,56.64 283.95,60.90" fill="#fcf2f3" stroke="#fcf2f3" stroke-width="0.3"/><polygon points="283.95,52.37 288.85,48.11 293.75,52.37 288.85,56.64" fill="#fef9fa" stroke="#fef9fa" stroke-width="0.3"/><polygon points="288.85,48.11 293.75,43.84 298.66,48.11 293.75,52.37" fill="#fef9f9" stroke="#fef9f9" stroke-width="0.3"/><polygon points="293.75,43.84 298.66,39.57 303.56,43.84 298.66,48.11" fill="#faeced" stroke="#faeced" stroke-width="0.3"/><polygon points="298.66,39.57 303.56,35.31 308.47,39.57 303.56,43.84" fill="#fcf4f4" stroke="#fcf4f4" stroke-width="0.3"/><polygon points="303.56,35.31 308.47,31.04 313.37,35.31 308.47,39.57" fill="#fcf2f3" stroke="#fcf2f3" stroke-width="0.3"/><polygon points="308.47,31.04 313.37,26.77 318.27,31.04 313.37,35.31" fill="#fcf4f4" stroke="#fcf4f4" stroke-width="0.3"/><polygon points="313.37,26.77 318.27,22.51 323.18,26.77 318.27,31.04" fill="#fbf1f1" stroke="#fbf1f1" stroke-width="0.3"/><polygon points="318.27,22.51 323.18,18.24 328.08,22.51 323.18,26.77" fill="#fef9f9" stroke="#fef9f9" stroke-width="0.3"/><polygon points="180.96,150.50 185.87,146.23 190.77,150.50 185.87,154.77" fill="#c20814" stroke="#c20814" stroke-width="0.3"/><polygon points="185.87,146.23 190.77,141.97 195.67,146.23 190.77,150.50" fill="#c30d19" stroke="#c30d19" stroke-width="0.3"/><polygon points="190.77,141.97 195.68,137.70 200.58,141.97 195.68,146.23" fill="#c92630" stroke="#c92630" stroke-width="0.3"/><polygon points="195.67,137.70 200.58,133.43 205.48,137.70 200.58,141.97" fill="#d6575f" stroke="#d6575f" stroke-width="0.3"/><polygon points="200.58,133.43 205.48,129.17 210.39,133.43 205.48,137.70" fill="#e2888e" stroke="#e2888e" stroke-width="0.3"/><polygon points="205.48,129.17 210.39,124.90 215.29,129.17 210.39,133.43" fill="#eaabaf" stroke="#eaabaf" stroke-width="0.3"/><polygon points="210.39,124.90 215.29,120.63 220.19,124.90 215.29,129.17" fill="#f0c1c4" stroke="#f0c1c4" stroke-width="0.3"/><polygon points="215.29,120.63 220.19,116.37 225.10,120.63 220.19,124.90" fill="#efbfc2" stroke="#efbfc2" stroke-width="0.3"/><polygon points="220.19,116.37 225.10,112.10 230.00,116.37 225.10,120.63" fill="#f4d1d3" stroke="#f4d1d3" stroke-width="0.3"/><polygon points="225.10,112.10 230.00,107.84 234.91,112.10 230.00,116.37" fill="#f2cacc" stroke="#f2cacc" stroke-width="0.3"/><polygon points="230.00,107.84 234.91,103.57 239.81,107.84 234.91,112.10" fill="#edb6ba" stroke="#edb6ba" stroke-width="0.3"/><polygon points="234.91,103.57 239.81,99.30 244.71,103.57 239.81,107.84" fill="#f6dbdd" stroke="#f6dbdd" stroke-width="0.3"/><polygon points="239.81,99.30 244.71,95.04 249.62,99.30 244.71,103.57" fill="#efbdc0" stroke="#efbdc0" stroke-width="0.3"/><polygon points="244.71,95.04 249.62,90.77 254.52,95.04 249.62,99.30" fill="#e6989d" stroke="#e6989d" stroke-width="0.3"/><polygon points="249.62,90.77 254.52,86.50 259.43,90.77 254.52,95.04" fill="#e8a2a7" stroke="#e8a2a7" stroke-width="0.3"/><polygon points="254.52,86.50 259.43,82.24 264.33,86.50 259.43,90.77" fill="#f8e2e4" stroke="#f8e2e4" stroke-width="0.3"/><polygon points="259.43,82.24 264.33,77.97 269.23,82.24 264.33,86.50" fill="#f9e7e8" stroke="#f9e7e8" stroke-width="0.3"/><polygon points="264.33,77.97 269.23,73.70 274.14,77.97 269.23,82.24" fill="#f6d9db" stroke="#f6d9db" stroke-width="0.3"/><polygon points="269.23,73.70 274.14,69.44 279.04,73.70 274.14,77.97" fill="#fcf3f3" stroke="#fcf3f3" stroke-width="0.3"/><polygon points="274.14,69.44 279.04,65.17 283.95,69.44 279.04,73.70" fill="#fcf1f2" stroke="#fcf1f2" stroke-width="0.3"/><polygon points="279.04,65.17 283.95,60.90 288.85,65.17 283.95,69.44" fill="#fef9f9" stroke="#fef9f9" stroke-width="0.3"/><polygon points="283.95,60.90 288.85,56.64 293.75,60.90 288.85,65.17" fill="#fbeff0" stroke="#fbeff0" stroke-width="0.3"/><polygon points="288.85,56.64 293.75,52.37 298.66,56.64 293.75,60.90" fill="#faebec" stroke="#faebec" stroke-width="0.3"/><polygon points="293.75,52.37 298.66,48.11 303.56,52.37 298.66,56.64" fill="#f9e8e9" stroke="#f9e8e9" stroke-width="0.3"/><polygon points="298.66,48.11 303.56,43.84 308.47,48.11 303.56,52.37" fill="#fefbfb" stroke="#fefbfb" stroke-width="0.3"/><polygon points="303.56,43.84 308.47,39.57 313.37,43.84 308.47,48.11" fill="#fbeeee" stroke="#fbeeee" stroke-width="0.3"/><polygon points="308.47,39.57 313.37,35.31 318.27,39.57 313.37,43.84" fill="#fbeff0" stroke="#fbeff0" stroke-width="0.3"/><polygon points="313.37,35.31 318.27,31.04 323.18,35.31 318.27,39.57" fill="#fefbfb" stroke="#fefbfb" stroke-width="0.3"/><polygon points="318.27,31.04 323.18,26.77 328.08,31.04 323.18,35.31" fill="#fcf1f2" stroke="#fcf1f2" stroke-width="0.3"/><polygon points="323.18,26.77 328.08,22.51 332.99,26.77 328.08,31.04" fill="#fbeff0" stroke="#fbeff0" stroke-width="0.3"/><polygon points="190.77,150.50 195.68,146.23 200.58,150.50 195.68,154.77" fill="#c20814" stroke="#c20814" stroke-width="0.3"/><polygon points="195.67,146.23 200.58,141.97 205.48,146.23 200.58,150.50" fill="#c30d19" stroke="#c30d19" stroke-width="0.3"/><polygon points="200.58,141.97 205.48,137.70 210.39,141.97 205.48,146.23" fill="#c92630" stroke="#c92630" stroke-width="0.3"/><polygon points="205.48,137.70 210.39,133.43 215.29,137.70 210.39,141.97" fill="#d6575f" stroke="#d6575f" stroke-width="0.3"/><polygon points="210.39,133.43 215.29,129.17 220.19,133.43 215.29,137.70" fill="#e2888e" stroke="#e2888e" stroke-width="0.3"/><polygon points="215.29,129.17 220.19,124.90 225.10,129.17 220.19,133.43" fill="#eaabaf" stroke="#eaabaf" stroke-width="0.3"/><polygon points="220.19,124.90 225.10,120.63 230.00,124.90 225.10,129.17" fill="#f0c1c4" stroke="#f0c1c4" stroke-width="0.3"/><polygon points="225.10,120.63 230.00,116.37 234.91,120.63 230.00,124.90" fill="#f3d0d2" stroke="#f3d0d2" stroke-width="0.3"/><polygon points="230.00,116.37 234.91,112.10 239.81,116.37 234.91,120.63" fill="#f6dadc" stroke="#f6dadc" stroke-width="0.3"/><polygon points="234.91,112.10 239.81,107.84 244.71,112.10 239.81,116.37" fill="#f7dee0" stroke="#f7dee0" stroke-width="0.3"/><polygon points="239.81,107.84 244.71,103.57 249.62,107.84 244.71,112.10" fill="#f7e1e2" stroke="#f7e1e2" stroke-width="0.3"/><polygon points="244.71,103.57 249.62,99.30 254.52,103.57 249.62,107.84" fill="#f4d1d3" stroke="#f4d1d3" stroke-width="0.3"/><polygon points="249.62,99.30 254.52,95.04 259.43,99.30 254.52,103.57" fill="#e9a8ac" stroke="#e9a8ac" stroke-width="0.3"/><polygon points="254.52,95.04 259.43,90.77 264.33,95.04 259.43,99.30" fill="#f8e2e4" stroke="#f8e2e4" stroke-width="0.3"/><polygon points="259.43,90.77 264.33,86.50 269.23,90.77 264.33,95.04" fill="#edb7ba" stroke="#edb7ba" stroke-width="0.3"/><polygon points="264.33,86.50 269.23,82.24 274.14,86.50 269.23,90.77" fill="#f1c7ca" stroke="#f1c7ca" stroke-width="0.3"/><polygon points="269.23,82.24 274.14,77.97 279.04,82.24 274.14,86.50" fill="#fbeeef" stroke="#fbeeef" stroke-width="0.3"/><polygon points="274.14,77.97 279.04,73.70 283.95,77.97 279.04,82.24" fill="#f7e0e2" stroke="#f7e0e2" stroke-width="0.3"/><polygon points="279.04,73.70 283.95,69.44 288.85,73.70 283.95,77.97" fill="#f6dcde" stroke="#f6dcde" stroke-width="0.3"/><polygon points="283.95,69.44 288.85,65.17 293.75,69.44 288.85,73.70" fill="#faeaeb" stroke="#faeaeb" stroke-width="0.3"/><polygon points="288.85,65.17 293.75,60.90 298.66,65.17 293.75,69.44" fill="#fefafa" stroke="#fefafa" stroke-width="0.3"/><polygon points="293.75,60.90 298.66,56.64 303.56,60.90 298.66,65.17" fill="#f8e4e6" stroke="#f8e4e6" stroke-width="0.3"/><polygon points="298.66,56.64 303.56,52.37 308.47,56.64 303.56,60.90" fill="#faebec" stroke="#faebec" stroke-width="0.3"/><polygon points="303.56,52.37 308.47,48.11 313.37,52.37 308.47,56.64" fill="#f9e5e6" stroke="#f9e5e6" stroke-width="0.3"/><polygon points="313.37,43.84 318.27,39.57 323.18,43.84 318.27,48.11" fill="#fef9f9" stroke="#fef9f9" stroke-width="0.3"/><polygon points="323.18,35.31 328.08,31.04 332.99,35.31 328.08,39.57" fill="#faecec" stroke="#faecec" stroke-width="0.3"/><polygon points="200.58,150.50 205.48,146.23 210.39,150.50 205.48,154.77" fill="#c20814" stroke="#c20814" stroke-width="0.3"/><polygon points="205.48,146.23 210.39,141.97 215.29,146.23 210.39,150.50" fill="#c30b17" stroke="#c30b17" stroke-width="0.3"/><polygon points="210.39,141.97 215.29,137.70 220.19,141.97 215.29,146.23" fill="#c20814" stroke="#c20814" stroke-width="0.3"/><polygon points="215.29,137.70 220.19,133.43 225.10,137.70 220.19,141.97" fill="#c20a16" stroke="#c20a16" stroke-width="0.3"/><polygon points="220.19,133.43 225.10,129.17 230.00,133.43 225.10,137.70" fill="#c5131e" stroke="#c5131e" stroke-width="0.3"/><polygon points="225.10,129.17 230.00,124.90 234.91,129.17 230.00,133.43" fill="#c51621" stroke="#c51621" stroke-width="0.3"/><polygon points="230.00,124.90 234.91,120.63 239.81,124.90 234.91,129.17" fill="#c40e1a" stroke="#c40e1a" stroke-width="0.3"/><polygon points="234.91,120.63 239.81,116.37 244.71,120.63 239.81,124.90" fill="#c51520" stroke="#c51520" stroke-width="0.3"/><polygon points="239.81,116.37 244.71,112.10 249.62,116.37 244.71,120.63" fill="#c51520" stroke="#c51520" stroke-width="0.3"/><polygon points="244.71,112.10 249.62,107.84 254.52,112.10 249.62,116.37" fill="#dd777e" stroke="#dd777e" stroke-width="0.3"/><polygon points="249.62,107.84 254.52,103.57 259.43,107.84 254.52,112.10" fill="#f6dadc" stroke="#f6dadc" stroke-width="0.3"/><polygon points="254.52,103.57 259.43,99.30 264.33,103.57 259.43,107.84" fill="#eaabaf" stroke="#eaabaf" stroke-width="0.3"/><polygon points="259.43,99.30 264.33,95.04 269.23,99.30 264.33,103.57" fill="#efbdc0" stroke="#efbdc0" stroke-width="0.3"/><polygon points="264.33,95.04 269.23,90.77 274.14,95.04 269.23,99.30" fill="#f6d9db" stroke="#f6d9db" stroke-width="0.3"/><polygon points="269.23,90.77 274.14,86.50 279.04,90.77 274.14,95.04" fill="#e5959a" stroke="#e5959a" stroke-width="0.3"/><polygon points="274.14,86.50 279.04,82.24 283.95,86.50 279.04,90.77" fill="#edb6ba" stroke="#edb6ba" stroke-width="0.3"/><polygon points="279.04,82.24 283.95,77.97 288.85,82.24 283.95,86.50" fill="#ebacb0" stroke="#ebacb0" stroke-width="0.3"/><polygon points="283.95,77.97 288.85,73.70 293.75,77.97 288.85,82.24" fill="#f5d8da" stroke="#f5d8da" stroke-width="0.3"/><polygon points="288.85,73.70 293.75,69.44 298.66,73.70 293.75,77.97" fill="#eaa9ad" stroke="#eaa9ad" stroke-width="0.3"/><polygon points="293.75,69.44 298.66,65.17 303.56,69.44 298.66,73.70" fill="#f6dadb" stroke="#f6dadb" stroke-width="0.3"/><polygon points="298.66,65.17 303.56,60.90 308.47,65.17 303.56,69.44" fill="#eaa8ad" stroke="#eaa8ad" stroke-width="0.3"/><polygon points="303.56,60.90 308.47,56.64 313.37,60.90 308.47,65.17" fill="#f0c2c5" stroke="#f0c2c5" stroke-width="0.3"/><polygon points="308.47,56.64 313.37,52.37 318.27,56.64 313.37,60.90" fill="#f2c9cb" stroke="#f2c9cb" stroke-width="0.3"/><polygon points="313.37,52.37 318.27,48.11 323.18,52.37 318.27,56.64" fill="#f9e6e8" stroke="#f9e6e8" stroke-width="0.3"/><polygon points="318.27,48.11 323.18,43.84 328.08,48.11 323.18,52.37" fill="#f9e6e8" stroke="#f9e6e8" stroke-width="0.3"/><polygon points="323.18,43.84 328.08,39.57 332.99,43.84 328.08,48.11" fill="#fef9f9" stroke="#fef9f9" stroke-width="0.3"/><polygon points="332.99,35.31 337.89,31.04 342.79,35.31 337.89,39.57" fill="#fcf3f4" stroke="#fcf3f4" stroke-width="0.3"/><polygon points="210.39,150.50 215.29,146.23 220.19,150.50 215.29,154.77" fill="#c20814" stroke="#c20814" stroke-width="0.3"/><polygon points="215.29,146.23 220.19,141.97 225.10,146.23 220.19,150.50" fill="#c30d19" stroke="#c30d19" stroke-width="0.3"/><polygon points="220.19,141.97 225.10,137.70 230.00,141.97 225.10,146.23" fill="#c4101c" stroke="#c4101c" stroke-width="0.3"/><polygon points="225.10,137.70 230.00,133.43 234.91,137.70 230.00,141.97" fill="#c5131f" stroke="#c5131f" stroke-width="0.3"/><polygon points="230.00,133.43 234.91,129.17 239.81,133.43 234.91,137.70" fill="#c5131f" stroke="#c5131f" stroke-width="0.3"/><polygon points="234.91,129.17 239.81,124.90 244.71,129.17 239.81,133.43" fill="#c5141f" stroke="#c5141f" stroke-width="0.3"/><polygon points="239.81,124.90 244.71,120.63 249.62,124.90 244.71,129.17" fill="#c51621" stroke="#c51621" stroke-width="0.3"/><polygon points="244.71,120.63 249.62,116.37 254.52,120.63 249.62,124.90" fill="#c5121e" stroke="#c5121e" stroke-width="0.3"/><polygon points="249.62,116.37 254.52,112.10 259.43,116.37 254.52,120.63" fill="#c61a25" stroke="#c61a25" stroke-width="0.3"/><polygon points="254.52,112.10 259.43,107.84 264.33,112.10 259.43,116.37" fill="#efbfc2" stroke="#efbfc2" stroke-width="0.3"/><polygon points="259.43,107.84 264.33,103.57 269.23,107.84 264.33,112.10" fill="#f4d3d5" stroke="#f4d3d5" stroke-width="0.3"/><polygon points="264.33,103.57 269.23,99.30 274.14,103.57 269.23,107.84" fill="#f1c6c8" stroke="#f1c6c8" stroke-width="0.3"/><polygon points="269.23,99.30 274.14,95.04 279.04,99.30 274.14,103.57" fill="#f6ddde" stroke="#f6ddde" stroke-width="0.3"/><polygon points="274.14,95.04 279.04,90.77 283.95,95.04 279.04,99.30" fill="#f2cccf" stroke="#f2cccf" stroke-width="0.3"/><polygon points="279.04,90.77 283.95,86.50 288.85,90.77 283.95,95.04" fill="#f7ddde" stroke="#f7ddde" stroke-width="0.3"/><polygon points="283.95,86.50 288.85,82.24 293.75,86.50 288.85,90.77" fill="#ecb0b4" stroke="#ecb0b4" stroke-width="0.3"/><polygon points="288.85,82.24 293.75,77.97 298.66,82.24 293.75,86.50" fill="#eebcbf" stroke="#eebcbf" stroke-width="0.3"/><polygon points="293.75,77.97 298.66,73.70 303.56,77.97 298.66,82.24" fill="#f4d2d4" stroke="#f4d2d4" stroke-width="0.3"/><polygon points="298.66,73.70 303.56,69.44 308.47,73.70 303.56,77.97" fill="#f0c0c3" stroke="#f0c0c3" stroke-width="0.3"/><polygon points="303.56,69.44 308.47,65.17 313.37,69.44 308.47,73.70" fill="#e9a4a8" stroke="#e9a4a8" stroke-width="0.3"/><polygon points="308.47,65.17 313.37,60.90 318.27,65.17 313.37,69.44" fill="#e5979c" stroke="#e5979c" stroke-width="0.3"/><polygon points="313.37,60.90 318.27,56.64 323.18,60.90 318.27,65.17" fill="#d9666d" stroke="#d9666d" stroke-width="0.3"/><polygon points="318.27,56.64 323.18,52.37 328.08,56.64 323.18,60.90" fill="#f0c3c6" stroke="#f0c3c6" stroke-width="0.3"/><polygon points="323.18,52.37 328.08,48.11 332.99,52.37 328.08,56.64" fill="#fcf4f4" stroke="#fcf4f4" stroke-width="0.3"/><polygon points="328.08,48.11 332.99,43.84 337.89,48.11 332.99,52.37" fill="#faeaeb" stroke="#faeaeb" stroke-width="0.3"/><polygon points="332.99,43.84 337.89,39.57 342.79,43.84 337.89,48.11" fill="#fdf6f7" stroke="#fdf6f7" stroke-width="0.3"/><polygon points="337.89,39.57 342.79,35.31 347.70,39.57 342.79,43.84" fill="#fcf4f4" stroke="#fcf4f4" stroke-width="0.3"/><polygon points="220.19,150.50 225.10,146.23 230.00,150.50 225.10,154.77" fill="#c20814" stroke="#c20814" stroke-width="0.3"/><polygon points="225.10,146.23 230.00,141.97 234.91,146.23 230.00,150.50" fill="#c20814" stroke="#c20814" stroke-width="0.3"/><polygon points="230.00,141.97 234.91,137.70 239.81,141.97 234.91,146.23" fill="#c30e1a" stroke="#c30e1a" stroke-width="0.3"/><polygon points="234.91,137.70 239.81,133.43 244.71,137.70 239.81,141.97" fill="#c20a16" stroke="#c20a16" stroke-width="0.3"/><polygon points="239.81,133.43 244.71,129.17 249.62,133.43 244.71,137.70" fill="#c30d19" stroke="#c30d19" stroke-width="0.3"/><polygon points="244.71,129.17 249.62,124.90 254.52,129.17 249.62,133.43" fill="#c4101c" stroke="#c4101c" stroke-width="0.3"/><polygon points="249.62,124.90 254.52,120.63 259.43,124.90 254.52,129.17" fill="#c51520" stroke="#c51520" stroke-width="0.3"/><polygon points="254.52,120.63 259.43,116.37 264.33,120.63 259.43,124.90" fill="#c61723" stroke="#c61723" stroke-width="0.3"/><polygon points="259.43,116.37 264.33,112.10 269.23,116.37 264.33,120.63" fill="#f6dadc" stroke="#f6dadc" stroke-width="0.3"/><polygon points="264.33,112.10 269.23,107.84 274.14,112.10 269.23,116.37" fill="#f8e1e3" stroke="#f8e1e3" stroke-width="0.3"/><polygon points="269.23,107.84 274.14,103.57 279.04,107.84 274.14,112.10" fill="#f8e4e5" stroke="#f8e4e5" stroke-width="0.3"/><polygon points="274.14,103.57 279.04,99.30 283.95,103.57 279.04,107.84" fill="#e9a4a9" stroke="#e9a4a9" stroke-width="0.3"/><polygon points="279.04,99.30 283.95,95.04 288.85,99.30 283.95,103.57" fill="#f3cdcf" stroke="#f3cdcf" stroke-width="0.3"/><polygon points="283.95,95.04 288.85,90.77 293.75,95.04 288.85,99.30" fill="#f5d8da" stroke="#f5d8da" stroke-width="0.3"/><polygon points="288.85,90.77 293.75,86.50 298.66,90.77 293.75,95.04" fill="#f9e6e7" stroke="#f9e6e7" stroke-width="0.3"/><polygon points="293.75,86.50 298.66,82.24 303.56,86.50 298.66,90.77" fill="#edb4b8" stroke="#edb4b8" stroke-width="0.3"/><polygon points="298.66,82.24 303.56,77.97 308.47,82.24 303.56,86.50" fill="#f0c3c6" stroke="#f0c3c6" stroke-width="0.3"/><polygon points="303.56,77.97 308.47,73.70 313.37,77.97 308.47,82.24" fill="#f5d5d7" stroke="#f5d5d7" stroke-width="0.3"/><polygon points="308.47,73.70 313.37,69.44 318.27,73.70 313.37,77.97" fill="#fcf1f2" stroke="#fcf1f2" stroke-width="0.3"/><polygon points="313.37,69.44 318.27,65.17 323.18,69.44 318.27,73.70" fill="#fcf4f5" stroke="#fcf4f5" stroke-width="0.3"/><polygon points="318.27,65.17 323.18,60.90 328.08,65.17 323.18,69.44" fill="#e5979c" stroke="#e5979c" stroke-width="0.3"/><polygon points="323.18,60.90 328.08,56.64 332.99,60.90 328.08,65.17" fill="#f0c1c4" stroke="#f0c1c4" stroke-width="0.3"/><polygon points="328.08,56.64 332.99,52.37 337.89,56.64 332.99,60.90" fill="#fefbfb" stroke="#fefbfb" stroke-width="0.3"/><polygon points="332.99,52.37 337.89,48.11 342.79,52.37 337.89,56.64" fill="#fdf5f6" stroke="#fdf5f6" stroke-width="0.3"/><polygon points="337.89,48.11 342.79,43.84 347.70,48.11 342.79,52.37" fill="#fef9f9" stroke="#fef9f9" stroke-width="0.3"/><polygon points="342.79,43.84 347.70,39.57 352.60,43.84 347.70,48.11" fill="#f9e5e6" stroke="#f9e5e6" stroke-width="0.3"/><polygon points="230.00,150.50 234.91,146.23 239.81,150.50 234.91,154.77" fill="#c20814" stroke="#c20814" stroke-width="0.3"/><polygon points="234.91,146.23 239.81,141.97 244.71,146.23 239.81,150.50" fill="#c20915" stroke="#c20915" stroke-width="0.3"/><polygon points="239.81,141.97 244.71,137.70 249.62,141.97 244.71,146.23" fill="#c40f1b" stroke="#c40f1b" stroke-width="0.3"/><polygon points="244.71,137.70 249.62,133.43 254.52,137.70 249.62,141.97" fill="#c20814" stroke="#c20814" stroke-width="0.3"/><polygon points="249.62,133.43 254.52,129.17 259.43,133.43 254.52,137.70" fill="#c4121e" stroke="#c4121e" stroke-width="0.3"/><polygon points="254.52,129.17 259.43,124.90 264.33,129.17 259.43,133.43" fill="#c5131f" stroke="#c5131f" stroke-width="0.3"/><polygon points="259.43,124.90 264.33,120.63 269.23,124.90 264.33,129.17" fill="#c61a25" stroke="#c61a25" stroke-width="0.3"/><polygon points="264.33,120.63 269.23,116.37 274.14,120.63 269.23,124.90" fill="#f3d0d2" stroke="#f3d0d2" stroke-width="0.3"/><polygon points="269.23,116.37 274.14,112.10 279.04,116.37 274.14,120.63" fill="#f4d4d6" stroke="#f4d4d6" stroke-width="0.3"/><polygon points="274.14,112.10 279.04,107.84 283.95,112.10 279.04,116.37" fill="#f1c8cb" stroke="#f1c8cb" stroke-width="0.3"/><polygon points="279.04,107.84 283.95,103.57 288.85,107.84 283.95,112.10" fill="#f6dbdd" stroke="#f6dbdd" stroke-width="0.3"/><polygon points="283.95,103.57 288.85,99.30 293.75,103.57 288.85,107.84" fill="#efbdc0" stroke="#efbdc0" stroke-width="0.3"/><polygon points="288.85,99.30 293.75,95.04 298.66,99.30 293.75,103.57" fill="#f9e8ea" stroke="#f9e8ea" stroke-width="0.3"/><polygon points="293.75,95.04 298.66,90.77 303.56,95.04 298.66,99.30" fill="#f5d6d8" stroke="#f5d6d8" stroke-width="0.3"/><polygon points="298.66,90.77 303.56,86.50 308.47,90.77 303.56,95.04" fill="#f9e8ea" stroke="#f9e8ea" stroke-width="0.3"/><polygon points="303.56,86.50 308.47,82.24 313.37,86.50 308.47,90.77" fill="#f6dadc" stroke="#f6dadc" stroke-width="0.3"/><polygon points="308.47,82.24 313.37,77.97 318.27,82.24 313.37,86.50" fill="#fcf3f4" stroke="#fcf3f4" stroke-width="0.3"/><polygon points="313.37,77.97 318.27,73.70 323.18,77.97 318.27,82.24" fill="#fdf7f8" stroke="#fdf7f8" stroke-width="0.3"/><polygon points="318.27,73.70 323.18,69.44 328.08,73.70 323.18,77.97" fill="#fbf0f1" stroke="#fbf0f1" stroke-width="0.3"/><polygon points="323.18,69.44 328.08,65.17 332.99,69.44 328.08,73.70" fill="#f3cfd2" stroke="#f3cfd2" stroke-width="0.3"/><polygon points="328.08,65.17 332.99,60.90 337.89,65.17 332.99,69.44" fill="#eeb9bd" stroke="#eeb9bd" stroke-width="0.3"/><polygon points="332.99,60.90 337.89,56.64 342.79,60.90 337.89,65.17" fill="#fcf3f4" stroke="#fcf3f4" stroke-width="0.3"/><polygon points="337.89,56.64 342.79,52.37 347.70,56.64 342.79,60.90" fill="#faeced" stroke="#faeced" stroke-width="0.3"/><polygon points="342.79,52.37 347.70,48.11 352.60,52.37 347.70,56.64" fill="#fbeff0" stroke="#fbeff0" stroke-width="0.3"/><polygon points="347.70,48.11 352.60,43.84 357.51,48.11 352.60,52.37" fill="#fbeeee" stroke="#fbeeee" stroke-width="0.3"/><polygon points="239.81,150.50 244.71,146.23 249.62,150.50 244.71,154.77" fill="#c20814" stroke="#c20814" stroke-width="0.3"/><polygon points="244.71,146.23 249.62,141.97 254.52,146.23 249.62,150.50" fill="#c30b17" stroke="#c30b17" stroke-width="0.3"/><polygon points="249.62,141.97 254.52,137.70 259.43,141.97 254.52,146.23" fill="#c30e1a" stroke="#c30e1a" stroke-width="0.3"/><polygon points="254.52,137.70 259.43,133.43 264.33,137.70 259.43,141.97" fill="#c20814" stroke="#c20814" stroke-width="0.3"/><polygon points="259.43,133.43 264.33,129.17 269.23,133.43 264.33,137.70" fill="#c5141f" stroke="#c5141f" stroke-width="0.3"/><polygon points="264.33,129.17 269.23,124.90 274.14,129.17 269.23,133.43" fill="#c40f1b" stroke="#c40f1b" stroke-width="0.3"/><polygon points="269.23,124.90 274.14,120.63 279.04,124.90 274.14,129.17" fill="#f0c1c4" stroke="#f0c1c4" stroke-width="0.3"/><polygon points="274.14,120.63 279.04,116.37 283.95,120.63 279.04,124.90" fill="#f3d0d2" stroke="#f3d0d2" stroke-width="0.3"/><polygon points="279.04,116.37 283.95,112.10 288.85,116.37 283.95,120.63" fill="#efbfc2" stroke="#efbfc2" stroke-width="0.3"/><polygon points="283.95,112.10 288.85,107.84 293.75,112.10 288.85,116.37" fill="#ebb0b3" stroke="#ebb0b3" stroke-width="0.3"/><polygon points="288.85,107.84 293.75,103.57 298.66,107.84 293.75,112.10" fill="#eebcbf" stroke="#eebcbf" stroke-width="0.3"/><polygon points="293.75,103.57 298.66,99.30 303.56,103.57 298.66,107.84" fill="#ecb1b5" stroke="#ecb1b5" stroke-width="0.3"/><polygon points="298.66,99.30 303.56,95.04 308.47,99.30 303.56,103.57" fill="#ebadb1" stroke="#ebadb1" stroke-width="0.3"/><polygon points="303.56,95.04 308.47,90.77 313.37,95.04 308.47,99.30" fill="#f9e5e7" stroke="#f9e5e7" stroke-width="0.3"/><polygon points="308.47,90.77 313.37,86.50 318.27,90.77 313.37,95.04" fill="#f4d2d4" stroke="#f4d2d4" stroke-width="0.3"/><polygon points="313.37,86.50 318.27,82.24 323.18,86.50 318.27,90.77" fill="#f6dcde" stroke="#f6dcde" stroke-width="0.3"/><polygon points="318.27,82.24 323.18,77.97 328.08,82.24 323.18,86.50" fill="#f2c9cb" stroke="#f2c9cb" stroke-width="0.3"/><polygon points="323.18,77.97 328.08,73.70 332.99,77.97 328.08,82.24" fill="#f2cbcd" stroke="#f2cbcd" stroke-width="0.3"/><polygon points="328.08,73.70 332.99,69.44 337.89,73.70 332.99,77.97" fill="#eaabaf" stroke="#eaabaf" stroke-width="0.3"/><polygon points="332.99,69.44 337.89,65.17 342.79,69.44 337.89,73.70" fill="#eebabd" stroke="#eebabd" stroke-width="0.3"/><polygon points="337.89,65.17 342.79,60.90 347.70,65.17 342.79,69.44" fill="#f9e8e9" stroke="#f9e8e9" stroke-width="0.3"/><polygon points="342.79,60.90 347.70,56.64 352.60,60.90 347.70,65.17" fill="#fbefef" stroke="#fbefef" stroke-width="0.3"/><polygon points="347.70,56.64 352.60,52.37 357.51,56.64 352.60,60.90" fill="#fbeeef" stroke="#fbeeef" stroke-width="0.3"/><polygon points="352.60,52.37 357.51,48.11 362.41,52.37 357.51,56.64" fill="#fefafa" stroke="#fefafa" stroke-width="0.3"/><polygon points="249.62,150.50 254.52,146.23 259.43,150.50 254.52,154.77" fill="#c20814" stroke="#c20814" stroke-width="0.3"/><polygon points="254.52,146.23 259.43,141.97 264.33,146.23 259.43,150.50" fill="#c30d19" stroke="#c30d19" stroke-width="0.3"/><polygon points="259.43,141.97 264.33,137.70 269.23,141.97 264.33,146.23" fill="#c30e19" stroke="#c30e19" stroke-width="0.3"/><polygon points="264.33,137.70 269.23,133.43 274.14,137.70 269.23,141.97" fill="#c5131e" stroke="#c5131e" stroke-width="0.3"/><polygon points="269.23,133.43 274.14,129.17 279.04,133.43 274.14,137.70" fill="#c30c17" stroke="#c30c17" stroke-width="0.3"/><polygon points="274.14,129.17 279.04,124.90 283.95,129.17 279.04,133.43" fill="#eaabaf" stroke="#eaabaf" stroke-width="0.3"/><polygon points="279.04,124.90 283.95,120.63 288.85,124.90 283.95,129.17" fill="#f0c1c4" stroke="#f0c1c4" stroke-width="0.3"/><polygon points="283.95,120.63 288.85,116.37 293.75,120.63 288.85,124.90" fill="#f3d0d2" stroke="#f3d0d2" stroke-width="0.3"/><polygon points="288.85,116.37 293.75,112.10 298.66,116.37 293.75,120.63" fill="#f3cdd0" stroke="#f3cdd0" stroke-width="0.3"/><polygon points="293.75,112.10 298.66,107.84 303.56,112.10 298.66,116.37" fill="#f4d2d4" stroke="#f4d2d4" stroke-width="0.3"/><polygon points="298.66,107.84 303.56,103.57 308.47,107.84 303.56,112.10" fill="#f9e7e8" stroke="#f9e7e8" stroke-width="0.3"/><polygon points="303.56,103.57 308.47,99.30 313.37,103.57 308.47,107.84" fill="#edb8bb" stroke="#edb8bb" stroke-width="0.3"/><polygon points="308.47,99.30 313.37,95.04 318.27,99.30 313.37,103.57" fill="#efbfc2" stroke="#efbfc2" stroke-width="0.3"/><polygon points="313.37,95.04 318.27,90.77 323.18,95.04 318.27,99.30" fill="#f5d5d7" stroke="#f5d5d7" stroke-width="0.3"/><polygon points="318.27,90.77 323.18,86.50 328.08,90.77 323.18,95.04" fill="#f6dbdc" stroke="#f6dbdc" stroke-width="0.3"/><polygon points="323.18,86.50 328.08,82.24 332.99,86.50 328.08,90.77" fill="#f5d6d8" stroke="#f5d6d8" stroke-width="0.3"/><polygon points="328.08,82.24 332.99,77.97 337.89,82.24 332.99,86.50" fill="#fdf7f8" stroke="#fdf7f8" stroke-width="0.3"/><polygon points="332.99,77.97 337.89,73.70 342.79,77.97 337.89,82.24" fill="#ecb0b4" stroke="#ecb0b4" stroke-width="0.3"/><polygon points="337.89,73.70 342.79,69.44 347.70,73.70 342.79,77.97" fill="#f3ced0" stroke="#f3ced0" stroke-width="0.3"/><polygon points="342.79,69.44 347.70,65.17 352.60,69.44 347.70,73.70" fill="#fefbfb" stroke="#fefbfb" stroke-width="0.3"/><polygon points="347.70,65.17 352.60,60.90 357.51,65.17 352.60,69.44" fill="#fef9f9" stroke="#fef9f9" stroke-width="0.3"/><polygon points="352.60,60.90 357.51,56.64 362.41,60.90 357.51,65.17" fill="#fbedee" stroke="#fbedee" stroke-width="0.3"/><polygon points="357.51,56.64 362.41,52.37 367.31,56.64 362.41,60.90" fill="#fefafa" stroke="#fefafa" stroke-width="0.3"/><polygon points="259.43,150.50 264.33,146.23 269.23,150.50 264.33,154.77" fill="#c20814" stroke="#c20814" stroke-width="0.3"/><polygon points="264.33,146.23 269.23,141.97 274.14,146.23 269.23,150.50" fill="#c20814" stroke="#c20814" stroke-width="0.3"/><polygon points="269.23,141.97 274.14,137.70 279.04,141.97 274.14,146.23" fill="#c30c18" stroke="#c30c18" stroke-width="0.3"/><polygon points="274.14,137.70 279.04,133.43 283.95,137.70 279.04,141.97" fill="#c40f1b" stroke="#c40f1b" stroke-width="0.3"/><polygon points="279.04,133.43 283.95,129.17 288.85,133.43 283.95,137.70" fill="#e2888e" stroke="#e2888e" stroke-width="0.3"/><polygon points="283.95,129.17 288.85,124.90 293.75,129.17 288.85,133.43" fill="#eaabaf" stroke="#eaabaf" stroke-width="0.3"/><polygon points="288.85,124.90 293.75,120.63 298.66,124.90 293.75,129.17" fill="#f0c1c4" stroke="#f0c1c4" stroke-width="0.3"/><polygon points="293.75,120.63 298.66,116.37 303.56,120.63 298.66,124.90" fill="#f3d0d2" stroke="#f3d0d2" stroke-width="0.3"/><polygon points="298.66,116.37 303.56,112.10 308.47,116.37 303.56,120.63" fill="#f4d4d6" stroke="#f4d4d6" stroke-width="0.3"/><polygon points="303.56,112.10 308.47,107.84 313.37,112.10 308.47,116.37" fill="#f8e1e3" stroke="#f8e1e3" stroke-width="0.3"/><polygon points="308.47,107.84 313.37,103.57 318.27,107.84 313.37,112.10" fill="#f9e7e8" stroke="#f9e7e8" stroke-width="0.3"/><polygon points="313.37,103.57 318.27,99.30 323.18,103.57 318.27,107.84" fill="#f8e4e6" stroke="#f8e4e6" stroke-width="0.3"/><polygon points="318.27,99.30 323.18,95.04 328.08,99.30 323.18,103.57" fill="#f3cdcf" stroke="#f3cdcf" stroke-width="0.3"/><polygon points="323.18,95.04 328.08,90.77 332.99,95.04 328.08,99.30" fill="#f9e8e9" stroke="#f9e8e9" stroke-width="0.3"/><polygon points="328.08,90.77 332.99,86.50 337.89,90.77 332.99,95.04" fill="#f6dcde" stroke="#f6dcde" stroke-width="0.3"/><polygon points="332.99,86.50 337.89,82.24 342.79,86.50 337.89,90.77" fill="#fdf6f7" stroke="#fdf6f7" stroke-width="0.3"/><polygon points="337.89,82.24 342.79,77.97 347.70,82.24 342.79,86.50" fill="#f6dadc" stroke="#f6dadc" stroke-width="0.3"/><polygon points="342.79,77.97 347.70,73.70 352.60,77.97 347.70,82.24" fill="#f3cdcf" stroke="#f3cdcf" stroke-width="0.3"/><polygon points="347.70,73.70 352.60,69.44 357.51,73.70 352.60,77.97" fill="#fbeff0" stroke="#fbeff0" stroke-width="0.3"/><polygon points="352.60,69.44 357.51,65.17 362.41,69.44 357.51,73.70" fill="#fbeeef" stroke="#fbeeef" stroke-width="0.3"/><polygon points="357.51,65.17 362.41,60.90 367.31,65.17 362.41,69.44" fill="#fbeff0" stroke="#fbeff0" stroke-width="0.3"/><polygon points="362.41,60.90 367.31,56.64 372.22,60.90 367.31,65.17" fill="#fdf9f9" stroke="#fdf9f9" stroke-width="0.3"/><polygon points="269.23,150.50 274.14,146.23 279.04,150.50 274.14,154.77" fill="#c20814" stroke="#c20814" stroke-width="0.3"/><polygon points="274.14,146.23 279.04,141.97 283.95,146.23 279.04,150.50" fill="#c30a16" stroke="#c30a16" stroke-width="0.3"/><polygon points="279.04,141.97 283.95,137.70 288.85,141.97 283.95,146.23" fill="#c30c18" stroke="#c30c18" stroke-width="0.3"/><polygon points="283.95,137.70 288.85,133.43 293.75,137.70 288.85,141.97" fill="#d6575f" stroke="#d6575f" stroke-width="0.3"/><polygon points="288.85,133.43 293.75,129.17 298.66,133.43 293.75,137.70" fill="#e2888e" stroke="#e2888e" stroke-width="0.3"/><polygon points="293.75,129.17 298.66,124.90 303.56,129.17 298.66,133.43" fill="#eaabaf" stroke="#eaabaf" stroke-width="0.3"/><polygon points="298.66,124.90 303.56,120.63 308.47,124.90 303.56,129.17" fill="#edb6ba" stroke="#edb6ba" stroke-width="0.3"/><polygon points="303.56,120.63 308.47,116.37 313.37,120.63 308.47,124.90" fill="#efbfc2" stroke="#efbfc2" stroke-width="0.3"/><polygon points="308.47,116.37 313.37,112.10 318.27,116.37 313.37,120.63" fill="#f6dadc" stroke="#f6dadc" stroke-width="0.3"/><polygon points="313.37,112.10 318.27,107.84 323.18,112.10 318.27,116.37" fill="#f7e0e2" stroke="#f7e0e2" stroke-width="0.3"/><polygon points="318.27,107.84 323.18,103.57 328.08,107.84 323.18,112.10" fill="#f2cacc" stroke="#f2cacc" stroke-width="0.3"/><polygon points="323.18,103.57 328.08,99.30 332.99,103.57 328.08,107.84" fill="#efbfc2" stroke="#efbfc2" stroke-width="0.3"/><polygon points="328.08,99.30 332.99,95.04 337.89,99.30 332.99,103.57" fill="#f9e5e6" stroke="#f9e5e6" stroke-width="0.3"/><polygon points="332.99,95.04 337.89,90.77 342.79,95.04 337.89,99.30" fill="#fbeff0" stroke="#fbeff0" stroke-width="0.3"/><polygon points="337.89,90.77 342.79,86.50 347.70,90.77 342.79,95.04" fill="#fcf4f4" stroke="#fcf4f4" stroke-width="0.3"/><polygon points="342.79,86.50 347.70,82.24 352.60,86.50 347.70,90.77" fill="#e8a3a8" stroke="#e8a3a8" stroke-width="0.3"/><polygon points="347.70,82.24 352.60,77.97 357.51,82.24 352.60,86.50" fill="#f4d1d3" stroke="#f4d1d3" stroke-width="0.3"/><polygon points="352.60,77.97 357.51,73.70 362.41,77.97 357.51,82.24" fill="#fbf0f1" stroke="#fbf0f1" stroke-width="0.3"/><polygon points="357.51,73.70 362.41,69.44 367.31,73.70 362.41,77.97" fill="#fefafa" stroke="#fefafa" stroke-width="0.3"/><polygon points="362.41,69.44 367.31,65.17 372.22,69.44 367.31,73.70" fill="#fcf3f4" stroke="#fcf3f4" stroke-width="0.3"/><polygon points="367.31,65.17 372.22,60.90 377.12,65.17 372.22,69.44" fill="#f9e6e7" stroke="#f9e6e7" stroke-width="0.3"/><polygon points="279.04,150.50 283.95,146.23 288.85,150.50 283.95,154.77" fill="#c20814" stroke="#c20814" stroke-width="0.3"/><polygon points="283.95,146.23 288.85,141.97 293.75,146.23 288.85,150.50" fill="#c20814" stroke="#c20814" stroke-width="0.3"/><polygon points="288.85,141.97 293.75,137.70 298.66,141.97 293.75,146.23" fill="#c92630" stroke="#c92630" stroke-width="0.3"/><polygon points="293.75,137.70 298.66,133.43 303.56,137.70 298.66,141.97" fill="#ce3741" stroke="#ce3741" stroke-width="0.3"/><polygon points="298.66,133.43 303.56,129.17 308.47,133.43 303.56,137.70" fill="#cf3e48" stroke="#cf3e48" stroke-width="0.3"/><polygon points="303.56,129.17 308.47,124.90 313.37,129.17 308.47,133.43" fill="#d45058" stroke="#d45058" stroke-width="0.3"/><polygon points="308.47,124.90 313.37,120.63 318.27,124.90 313.37,129.17" fill="#ce3741" stroke="#ce3741" stroke-width="0.3"/><polygon points="313.37,120.63 318.27,116.37 323.18,120.63 318.27,124.90" fill="#d1464f" stroke="#d1464f" stroke-width="0.3"/><polygon points="318.27,116.37 323.18,112.10 328.08,116.37 323.18,120.63" fill="#d6575f" stroke="#d6575f" stroke-width="0.3"/><polygon points="323.18,112.10 328.08,107.84 332.99,112.10 328.08,116.37" fill="#d65860" stroke="#d65860" stroke-width="0.3"/><polygon points="328.08,107.84 332.99,103.57 337.89,107.84 332.99,112.10" fill="#d1464f" stroke="#d1464f" stroke-width="0.3"/><polygon points="332.99,103.57 337.89,99.30 342.79,103.57 337.89,107.84" fill="#d24850" stroke="#d24850" stroke-width="0.3"/><polygon points="337.89,99.30 342.79,95.04 347.70,99.30 342.79,103.57" fill="#d34d56" stroke="#d34d56" stroke-width="0.3"/><polygon points="342.79,95.04 347.70,90.77 352.60,95.04 347.70,99.30" fill="#d5535b" stroke="#d5535b" stroke-width="0.3"/><polygon points="347.70,90.77 352.60,86.50 357.51,90.77 352.60,95.04" fill="#c61924" stroke="#c61924" stroke-width="0.3"/><polygon points="352.60,86.50 357.51,82.24 362.41,86.50 357.51,90.77" fill="#da6b72" stroke="#da6b72" stroke-width="0.3"/><polygon points="357.51,82.24 362.41,77.97 367.31,82.24 362.41,86.50" fill="#f9e8e9" stroke="#f9e8e9" stroke-width="0.3"/><polygon points="362.41,77.97 367.31,73.70 372.22,77.97 367.31,82.24" fill="#fef9f9" stroke="#fef9f9" stroke-width="0.3"/><polygon points="367.31,73.70 372.22,69.44 377.12,73.70 372.22,77.97" fill="#faeced" stroke="#faeced" stroke-width="0.3"/><polygon points="372.22,69.44 377.12,65.17 382.02,69.44 377.12,73.70" fill="#faeaeb" stroke="#faeaeb" stroke-width="0.3"/><polygon points="288.85,150.50 293.75,146.23 298.66,150.50 293.75,154.77" fill="#c20814" stroke="#c20814" stroke-width="0.3"/><polygon points="293.75,146.23 298.66,141.97 303.56,146.23 298.66,150.50" fill="#c30d19" stroke="#c30d19" stroke-width="0.3"/><polygon points="298.66,141.97 303.56,137.70 308.47,141.97 303.56,146.23" fill="#c92630" stroke="#c92630" stroke-width="0.3"/><polygon points="303.56,137.70 308.47,133.43 313.37,137.70 308.47,141.97" fill="#ce3741" stroke="#ce3741" stroke-width="0.3"/><polygon points="308.47,133.43 313.37,129.17 318.27,133.43 313.37,137.70" fill="#d34e56" stroke="#d34e56" stroke-width="0.3"/><polygon points="313.37,129.17 318.27,124.90 323.18,129.17 318.27,133.43" fill="#d24a53" stroke="#d24a53" stroke-width="0.3"/><polygon points="318.27,124.90 323.18,120.63 328.08,124.90 323.18,129.17" fill="#d24a53" stroke="#d24a53" stroke-width="0.3"/><polygon points="323.18,120.63 328.08,116.37 332.99,120.63 328.08,124.90" fill="#cd333d" stroke="#cd333d" stroke-width="0.3"/><polygon points="328.08,116.37 332.99,112.10 337.89,116.37 332.99,120.63" fill="#d0424c" stroke="#d0424c" stroke-width="0.3"/><polygon points="332.99,112.10 337.89,107.84 342.79,112.10 337.89,116.37" fill="#d34b54" stroke="#d34b54" stroke-width="0.3"/><polygon points="337.89,107.84 342.79,103.57 347.70,107.84 342.79,112.10" fill="#d24851" stroke="#d24851" stroke-width="0.3"/><polygon points="342.79,103.57 347.70,99.30 352.60,103.57 347.70,107.84" fill="#d34e57" stroke="#d34e57" stroke-width="0.3"/><polygon points="347.70,99.30 352.60,95.04 357.51,99.30 352.60,103.57" fill="#d5565f" stroke="#d5565f" stroke-width="0.3"/><polygon points="352.60,95.04 357.51,90.77 362.41,95.04 357.51,99.30" fill="#c61924" stroke="#c61924" stroke-width="0.3"/><polygon points="357.51,90.77 362.41,86.50 367.31,90.77 362.41,95.04" fill="#c61924" stroke="#c61924" stroke-width="0.3"/><polygon points="362.41,86.50 367.31,82.24 372.22,86.50 367.31,90.77" fill="#fcf4f4" stroke="#fcf4f4" stroke-width="0.3"/><polygon points="367.31,82.24 372.22,77.97 377.12,82.24 372.22,86.50" fill="#f9e6e7" stroke="#f9e6e7" stroke-width="0.3"/><polygon points="372.22,77.97 377.12,73.70 382.02,77.97 377.12,82.24" fill="#fdf7f7" stroke="#fdf7f7" stroke-width="0.3"/><polygon points="377.12,73.70 382.02,69.44 386.93,73.70 382.02,77.97" fill="#fdf7f8" stroke="#fdf7f8" stroke-width="0.3"/><polygon points="298.66,150.50 303.56,146.23 308.47,150.50 303.56,154.77" fill="#c20814" stroke="#c20814" stroke-width="0.3"/><polygon points="303.56,146.23 308.47,141.97 313.37,146.23 308.47,150.50" fill="#c30d19" stroke="#c30d19" stroke-width="0.3"/><polygon points="308.47,141.97 313.37,137.70 318.27,141.97 313.37,146.23" fill="#c92630" stroke="#c92630" stroke-width="0.3"/><polygon points="313.37,137.70 318.27,133.43 323.18,137.70 318.27,141.97" fill="#cc323c" stroke="#cc323c" stroke-width="0.3"/><polygon points="318.27,133.43 323.18,129.17 328.08,133.43 323.18,137.70" fill="#cf3b45" stroke="#cf3b45" stroke-width="0.3"/><polygon points="323.18,129.17 328.08,124.90 332.99,129.17 328.08,133.43" fill="#d1454e" stroke="#d1454e" stroke-width="0.3"/><polygon points="328.08,124.90 332.99,120.63 337.89,124.90 332.99,129.17" fill="#d65961" stroke="#d65961" stroke-width="0.3"/><polygon points="332.99,120.63 337.89,116.37 342.79,120.63 337.89,124.90" fill="#cf3e47" stroke="#cf3e47" stroke-width="0.3"/><polygon points="337.89,116.37 342.79,112.10 347.70,116.37 342.79,120.63" fill="#cf3d46" stroke="#cf3d46" stroke-width="0.3"/><polygon points="342.79,112.10 347.70,107.84 352.60,112.10 347.70,116.37" fill="#d9676e" stroke="#d9676e" stroke-width="0.3"/><polygon points="347.70,107.84 352.60,103.57 357.51,107.84 352.60,112.10" fill="#d6575f" stroke="#d6575f" stroke-width="0.3"/><polygon points="352.60,103.57 357.51,99.30 362.41,103.57 357.51,107.84" fill="#e79fa3" stroke="#e79fa3" stroke-width="0.3"/><polygon points="357.51,99.30 362.41,95.04 367.31,99.30 362.41,103.57" fill="#cf3d47" stroke="#cf3d47" stroke-width="0.3"/><polygon points="362.41,95.04 367.31,90.77 372.22,95.04 367.31,99.30" fill="#d24850" stroke="#d24850" stroke-width="0.3"/><polygon points="367.31,90.77 372.22,86.50 377.12,90.77 372.22,95.04" fill="#fbedee" stroke="#fbedee" stroke-width="0.3"/><polygon points="372.22,86.50 377.12,82.24 382.02,86.50 377.12,90.77" fill="#fbf1f1" stroke="#fbf1f1" stroke-width="0.3"/><polygon points="377.12,82.24 382.02,77.97 386.93,82.24 382.02,86.50" fill="#fdf8f8" stroke="#fdf8f8" stroke-width="0.3"/><polygon points="382.03,77.97 386.93,73.70 391.83,77.97 386.93,82.24" fill="#fef9f9" stroke="#fef9f9" stroke-width="0.3"/><polygon points="308.47,150.50 313.37,146.23 318.27,150.50 313.37,154.77" fill="#c20814" stroke="#c20814" stroke-width="0.3"/><polygon points="313.37,146.23 318.27,141.97 323.18,146.23 318.27,150.50" fill="#c30d19" stroke="#c30d19" stroke-width="0.3"/><polygon points="318.27,141.97 323.18,137.70 328.08,141.97 323.18,146.23" fill="#c92630" stroke="#c92630" stroke-width="0.3"/><polygon points="323.18,137.70 328.08,133.43 332.99,137.70 328.08,141.97" fill="#d6575f" stroke="#d6575f" stroke-width="0.3"/><polygon points="328.08,133.43 332.99,129.17 337.89,133.43 332.99,137.70" fill="#de787f" stroke="#de787f" stroke-width="0.3"/><polygon points="332.99,129.17 337.89,124.90 342.79,129.17 337.89,133.43" fill="#d34c55" stroke="#d34c55" stroke-width="0.3"/><polygon points="337.89,124.90 342.79,120.63 347.70,124.90 342.79,129.17" fill="#cd353f" stroke="#cd353f" stroke-width="0.3"/><polygon points="342.79,120.63 347.70,116.37 352.60,120.63 347.70,124.90" fill="#e08188" stroke="#e08188" stroke-width="0.3"/><polygon points="347.70,116.37 352.60,112.10 357.51,116.37 352.60,120.63" fill="#d65a62" stroke="#d65a62" stroke-width="0.3"/><polygon points="352.60,112.10 357.51,107.84 362.41,112.10 357.51,116.37" fill="#e08187" stroke="#e08187" stroke-width="0.3"/><polygon points="357.51,107.84 362.41,103.57 367.31,107.84 362.41,112.10" fill="#da686f" stroke="#da686f" stroke-width="0.3"/><polygon points="362.41,103.57 367.31,99.30 372.22,103.57 367.31,107.84" fill="#d24a52" stroke="#d24a52" stroke-width="0.3"/><polygon points="367.31,99.30 372.22,95.04 377.12,99.30 372.22,103.57" fill="#d4525a" stroke="#d4525a" stroke-width="0.3"/><polygon points="372.22,95.04 377.12,90.77 382.02,95.04 377.12,99.30" fill="#fcf2f2" stroke="#fcf2f2" stroke-width="0.3"/><polygon points="377.12,90.77 382.02,86.50 386.93,90.77 382.02,95.04" fill="#fcf4f5" stroke="#fcf4f5" stroke-width="0.3"/><polygon points="382.03,86.50 386.93,82.24 391.83,86.50 386.93,90.77" fill="#faeced" stroke="#faeced" stroke-width="0.3"/><polygon points="386.93,82.24 391.83,77.97 396.74,82.24 391.83,86.50" fill="#fcf5f5" stroke="#fcf5f5" stroke-width="0.3"/><polygon points="318.27,150.50 323.18,146.23 328.08,150.50 323.18,154.77" fill="#c20814" stroke="#c20814" stroke-width="0.3"/><polygon points="323.18,146.23 328.08,141.97 332.99,146.23 328.08,150.50" fill="#c30d19" stroke="#c30d19" stroke-width="0.3"/><polygon points="328.08,141.97 332.99,137.70 337.89,141.97 332.99,146.23" fill="#c92630" stroke="#c92630" stroke-width="0.3"/><polygon points="332.99,137.70 337.89,133.43 342.79,137.70 337.89,141.97" fill="#d6575f" stroke="#d6575f" stroke-width="0.3"/><polygon points="337.89,133.43 342.79,129.17 347.70,133.43 342.79,137.70" fill="#e2888e" stroke="#e2888e" stroke-width="0.3"/><polygon points="342.79,129.17 347.70,124.90 352.60,129.17 347.70,133.43" fill="#e1858b" stroke="#e1858b" stroke-width="0.3"/><polygon points="347.70,124.90 352.60,120.63 357.51,124.90 352.60,129.17" fill="#e49197" stroke="#e49197" stroke-width="0.3"/><polygon points="352.60,120.63 357.51,116.37 362.41,120.63 357.51,124.90" fill="#de7980" stroke="#de7980" stroke-width="0.3"/><polygon points="357.51,116.37 362.41,112.10 367.31,116.37 362.41,120.63" fill="#e5959a" stroke="#e5959a" stroke-width="0.3"/><polygon points="362.41,112.10 367.31,107.84 372.22,112.10 367.31,116.37" fill="#e1878d" stroke="#e1878d" stroke-width="0.3"/><polygon points="367.31,107.84 372.22,103.57 377.12,107.84 372.22,112.10" fill="#d34f57" stroke="#d34f57" stroke-width="0.3"/><polygon points="372.22,103.57 377.12,99.30 382.02,103.57 377.12,107.84" fill="#d1434c" stroke="#d1434c" stroke-width="0.3"/><polygon points="377.12,99.30 382.02,95.04 386.93,99.30 382.02,103.57" fill="#f9e6e7" stroke="#f9e6e7" stroke-width="0.3"/><polygon points="382.03,95.04 386.93,90.77 391.83,95.04 386.93,99.30" fill="#faebec" stroke="#faebec" stroke-width="0.3"/><polygon points="386.93,90.77 391.83,86.50 396.74,90.77 391.83,95.04" fill="#fcf4f4" stroke="#fcf4f4" stroke-width="0.3"/><polygon points="391.83,86.50 396.74,82.24 401.64,86.50 396.74,90.77" fill="#fcf5f5" stroke="#fcf5f5" stroke-width="0.3"/><polygon points="328.08,150.50 332.99,146.23 337.89,150.50 332.99,154.77" fill="#c20814" stroke="#c20814" stroke-width="0.3"/><polygon points="332.99,146.23 337.89,141.97 342.79,146.23 337.89,150.50" fill="#c30d19" stroke="#c30d19" stroke-width="0.3"/><polygon points="337.89,141.97 342.79,137.70 347.70,141.97 342.79,146.23" fill="#c92630" stroke="#c92630" stroke-width="0.3"/><polygon points="342.79,137.70 347.70,133.43 352.60,137.70 347.70,141.97" fill="#d6575f" stroke="#d6575f" stroke-width="0.3"/><polygon points="347.70,133.43 352.60,129.17 357.51,133.43 352.60,137.70" fill="#de7a81" stroke="#de7a81" stroke-width="0.3"/><polygon points="352.60,129.17 357.51,124.90 362.41,129.17 357.51,133.43" fill="#cd343e" stroke="#cd343e" stroke-width="0.3"/><polygon points="357.51,124.90 362.41,120.63 367.31,124.90 362.41,129.17" fill="#e38e93" stroke="#e38e93" stroke-width="0.3"/><polygon points="362.41,120.63 367.31,116.37 372.22,120.63 367.31,124.90" fill="#da6870" stroke="#da6870" stroke-width="0.3"/><polygon points="367.31,116.37 372.22,112.10 377.12,116.37 372.22,120.63" fill="#d75d65" stroke="#d75d65" stroke-width="0.3"/><polygon points="372.22,112.10 377.12,107.84 382.02,112.10 377.12,116.37" fill="#ce3842" stroke="#ce3842" stroke-width="0.3"/><polygon points="377.12,107.84 382.02,103.57 386.93,107.84 382.02,112.10" fill="#d45059" stroke="#d45059" stroke-width="0.3"/><polygon points="382.03,103.57 386.93,99.30 391.83,103.57 386.93,107.84" fill="#faebec" stroke="#faebec" stroke-width="0.3"/><polygon points="386.93,99.30 391.83,95.04 396.74,99.30 391.83,103.57" fill="#fbeff0" stroke="#fbeff0" stroke-width="0.3"/><polygon points="391.83,95.04 396.74,90.77 401.64,95.04 396.74,99.30" fill="#fcf2f2" stroke="#fcf2f2" stroke-width="0.3"/><polygon points="396.74,90.77 401.64,86.50 406.54,90.77 401.64,95.04" fill="#fcf3f3" stroke="#fcf3f3" stroke-width="0.3"/><polygon points="337.89,150.50 342.79,146.23 347.70,150.50 342.79,154.77" fill="#c20814" stroke="#c20814" stroke-width="0.3"/><polygon points="342.79,146.23 347.70,141.97 352.60,146.23 347.70,150.50" fill="#c30d19" stroke="#c30d19" stroke-width="0.3"/><polygon points="347.70,141.97 352.60,137.70 357.51,141.97 352.60,146.23" fill="#c92630" stroke="#c92630" stroke-width="0.3"/><polygon points="352.60,137.70 357.51,133.43 362.41,137.70 357.51,141.97" fill="#d6575f" stroke="#d6575f" stroke-width="0.3"/><polygon points="357.51,133.43 362.41,129.17 367.31,133.43 362.41,137.70" fill="#e2888e" stroke="#e2888e" stroke-width="0.3"/><polygon points="362.41,129.17 367.31,124.90 372.22,129.17 367.31,133.43" fill="#d44f58" stroke="#d44f58" stroke-width="0.3"/><polygon points="367.31,124.90 372.22,120.63 377.12,124.90 372.22,129.17" fill="#cf3e47" stroke="#cf3e47" stroke-width="0.3"/><polygon points="372.22,120.63 377.12,116.37 382.02,120.63 377.12,124.90" fill="#db6b73" stroke="#db6b73" stroke-width="0.3"/><polygon points="377.12,116.37 382.02,112.10 386.93,116.37 382.02,120.63" fill="#d0434c" stroke="#d0434c" stroke-width="0.3"/><polygon points="382.03,112.10 386.93,107.84 391.83,112.10 386.93,116.37" fill="#d65860" stroke="#d65860" stroke-width="0.3"/><polygon points="386.93,107.84 391.83,103.57 396.74,107.84 391.83,112.10" fill="#f9e7e8" stroke="#f9e7e8" stroke-width="0.3"/><polygon points="391.83,103.57 396.74,99.30 401.64,103.57 396.74,107.84" fill="#f8e2e3" stroke="#f8e2e3" stroke-width="0.3"/><polygon points="396.74,99.30 401.64,95.04 406.54,99.30 401.64,103.57" fill="#f9e7e8" stroke="#f9e7e8" stroke-width="0.3"/><polygon points="401.64,95.04 406.54,90.77 411.45,95.04 406.54,99.30" fill="#fae9ea" stroke="#fae9ea" stroke-width="0.3"/><polygon points="347.70,150.50 352.60,146.23 357.51,150.50 352.60,154.77" fill="#c20814" stroke="#c20814" stroke-width="0.3"/><polygon points="352.60,146.23 357.51,141.97 362.41,146.23 357.51,150.50" fill="#c30d19" stroke="#c30d19" stroke-width="0.3"/><polygon points="357.51,141.97 362.41,137.70 367.31,141.97 362.41,146.23" fill="#c92630" stroke="#c92630" stroke-width="0.3"/><polygon points="362.41,137.70 367.31,133.43 372.22,137.70 367.31,141.97" fill="#d6575f" stroke="#d6575f" stroke-width="0.3"/><polygon points="367.31,133.43 372.22,129.17 377.12,133.43 372.22,137.70" fill="#d86169" stroke="#d86169" stroke-width="0.3"/><polygon points="372.22,129.17 377.12,124.90 382.02,129.17 377.12,133.43" fill="#d4525b" stroke="#d4525b" stroke-width="0.3"/><polygon points="377.12,124.90 382.02,120.63 386.93,124.90 382.02,129.17" fill="#ce3943" stroke="#ce3943" stroke-width="0.3"/><polygon points="382.03,120.63 386.93,116.37 391.83,120.63 386.93,124.90" fill="#cf3e47" stroke="#cf3e47" stroke-width="0.3"/><polygon points="386.93,116.37 391.83,112.10 396.74,116.37 391.83,120.63" fill="#d0404a" stroke="#d0404a" stroke-width="0.3"/><polygon points="391.83,112.10 396.74,107.84 401.64,112.10 396.74,116.37" fill="#f7e0e2" stroke="#f7e0e2" stroke-width="0.3"/><polygon points="396.74,107.84 401.64,103.57 406.54,107.84 401.64,112.10" fill="#f9e7e8" stroke="#f9e7e8" stroke-width="0.3"/><polygon points="401.64,103.57 406.54,99.30 411.45,103.57 406.54,107.84" fill="#faebec" stroke="#faebec" stroke-width="0.3"/><polygon points="406.54,99.30 411.45,95.04 416.35,99.30 411.45,103.57" fill="#fbeff0" stroke="#fbeff0" stroke-width="0.3"/><polygon points="357.51,150.50 362.41,146.23 367.31,150.50 362.41,154.77" fill="#c20814" stroke="#c20814" stroke-width="0.3"/><polygon points="362.41,146.23 367.31,141.97 372.22,146.23 367.31,150.50" fill="#c30d19" stroke="#c30d19" stroke-width="0.3"/><polygon points="367.31,141.97 372.22,137.70 377.12,141.97 372.22,146.23" fill="#c92630" stroke="#c92630" stroke-width="0.3"/><polygon points="372.22,137.70 377.12,133.43 382.02,137.70 377.12,141.97" fill="#d4525b" stroke="#d4525b" stroke-width="0.3"/><polygon points="377.12,133.43 382.02,129.17 386.93,133.43 382.02,137.70" fill="#de787e" stroke="#de787e" stroke-width="0.3"/><polygon points="382.03,129.17 386.93,124.90 391.83,129.17 386.93,133.43" fill="#e38c91" stroke="#e38c91" stroke-width="0.3"/><polygon points="386.93,124.90 391.83,120.63 396.74,124.90 391.83,129.17" fill="#d44f57" stroke="#d44f57" stroke-width="0.3"/><polygon points="391.83,120.63 396.74,116.37 401.64,120.63 396.74,124.90" fill="#d0414a" stroke="#d0414a" stroke-width="0.3"/><polygon points="396.74,116.37 401.64,112.10 406.54,116.37 401.64,120.63" fill="#f6dadc" stroke="#f6dadc" stroke-width="0.3"/><polygon points="401.64,112.10 406.54,107.84 411.45,112.10 406.54,116.37" fill="#f8e1e3" stroke="#f8e1e3" stroke-width="0.3"/><polygon points="406.54,107.84 411.45,103.57 416.35,107.84 411.45,112.10" fill="#f9e7e8" stroke="#f9e7e8" stroke-width="0.3"/><polygon points="411.45,103.57 416.35,99.30 421.26,103.57 416.35,107.84" fill="#faebec" stroke="#faebec" stroke-width="0.3"/><polygon points="367.31,150.50 372.22,146.23 377.12,150.50 372.22,154.77" fill="#c20814" stroke="#c20814" stroke-width="0.3"/><polygon points="372.22,146.23 377.12,141.97 382.02,146.23 377.12,150.50" fill="#c30d19" stroke="#c30d19" stroke-width="0.3"/><polygon points="377.12,141.97 382.02,137.70 386.93,141.97 382.02,146.23" fill="#c92630" stroke="#c92630" stroke-width="0.3"/><polygon points="382.03,137.70 386.93,133.43 391.83,137.70 386.93,141.97" fill="#d5575f" stroke="#d5575f" stroke-width="0.3"/><polygon points="386.93,133.43 391.83,129.17 396.74,133.43 391.83,137.70" fill="#e2888e" stroke="#e2888e" stroke-width="0.3"/><polygon points="391.83,129.17 396.74,124.90 401.64,129.17 396.74,133.43" fill="#d34d56" stroke="#d34d56" stroke-width="0.3"/><polygon points="396.74,124.90 401.64,120.63 406.54,124.90 401.64,129.17" fill="#d24750" stroke="#d24750" stroke-width="0.3"/><polygon points="401.64,120.63 406.54,116.37 411.45,120.63 406.54,124.90" fill="#f3d0d2" stroke="#f3d0d2" stroke-width="0.3"/><polygon points="406.54,116.37 411.45,112.10 416.35,116.37 411.45,120.63" fill="#f6dadc" stroke="#f6dadc" stroke-width="0.3"/><polygon points="411.45,112.10 416.35,107.84 421.26,112.10 416.35,116.37" fill="#f6dcde" stroke="#f6dcde" stroke-width="0.3"/><polygon points="416.35,107.84 421.26,103.57 426.16,107.84 421.26,112.10" fill="#f9e7e8" stroke="#f9e7e8" stroke-width="0.3"/><polygon points="377.12,150.50 382.02,146.23 386.93,150.50 382.02,154.77" fill="#c20814" stroke="#c20814" stroke-width="0.3"/><polygon points="382.03,146.23 386.93,141.97 391.83,146.23 386.93,150.50" fill="#c30d19" stroke="#c30d19" stroke-width="0.3"/><polygon points="386.93,141.97 391.83,137.70 396.74,141.97 391.83,146.23" fill="#c92630" stroke="#c92630" stroke-width="0.3"/><polygon points="391.83,137.70 396.74,133.43 401.64,137.70 396.74,141.97" fill="#d34c55" stroke="#d34c55" stroke-width="0.3"/><polygon points="396.74,133.43 401.64,129.17 406.54,133.43 401.64,137.70" fill="#d34d56" stroke="#d34d56" stroke-width="0.3"/><polygon points="401.64,129.17 406.54,124.90 411.45,129.17 406.54,133.43" fill="#d65760" stroke="#d65760" stroke-width="0.3"/><polygon points="406.54,124.90 411.45,120.63 416.35,124.90 411.45,129.17" fill="#f0c1c4" stroke="#f0c1c4" stroke-width="0.3"/><polygon points="411.45,120.63 416.35,116.37 421.26,120.63 416.35,124.90" fill="#f3d0d2" stroke="#f3d0d2" stroke-width="0.3"/><polygon points="416.35,116.37 421.26,112.10 426.16,116.37 421.26,120.63" fill="#f6dadc" stroke="#f6dadc" stroke-width="0.3"/><polygon points="421.26,112.10 426.16,107.84 431.06,112.10 426.16,116.37" fill="#f8e1e3" stroke="#f8e1e3" stroke-width="0.3"/><polygon points="386.93,150.50 391.83,146.23 396.74,150.50 391.83,154.77" fill="#c20814" stroke="#c20814" stroke-width="0.3"/><polygon points="391.83,146.23 396.74,141.97 401.64,146.23 396.74,150.50" fill="#c30d19" stroke="#c30d19" stroke-width="0.3"/><polygon points="396.74,141.97 401.64,137.70 406.54,141.97 401.64,146.23" fill="#c92630" stroke="#c92630" stroke-width="0.3"/><polygon points="401.64,137.70 406.54,133.43 411.45,137.70 406.54,141.97" fill="#d6575f" stroke="#d6575f" stroke-width="0.3"/><polygon points="406.54,133.43 411.45,129.17 416.35,133.43 411.45,137.70" fill="#d34c54" stroke="#d34c54" stroke-width="0.3"/><polygon points="411.45,129.17 416.35,124.90 421.26,129.17 416.35,133.43" fill="#eaabaf" stroke="#eaabaf" stroke-width="0.3"/><polygon points="416.35,124.90 421.26,120.63 426.16,124.90 421.26,129.17" fill="#f0c1c4" stroke="#f0c1c4" stroke-width="0.3"/><polygon points="421.26,120.63 426.16,116.37 431.06,120.63 426.16,124.90" fill="#f3d0d2" stroke="#f3d0d2" stroke-width="0.3"/><polygon points="426.16,116.37 431.06,112.10 435.97,116.37 431.06,120.63" fill="#f6dadc" stroke="#f6dadc" stroke-width="0.3"/><polygon points="396.74,150.50 401.64,146.23 406.54,150.50 401.64,154.77" fill="#c20814" stroke="#c20814" stroke-width="0.3"/><polygon points="401.64,146.23 406.54,141.97 411.45,146.23 406.54,150.50" fill="#c30d19" stroke="#c30d19" stroke-width="0.3"/><polygon points="406.54,141.97 411.45,137.70 416.35,141.97 411.45,146.23" fill="#c92630" stroke="#c92630" stroke-width="0.3"/><polygon points="411.45,137.70 416.35,133.43 421.26,137.70 416.35,141.97" fill="#cd343e" stroke="#cd343e" stroke-width="0.3"/><polygon points="416.35,133.43 421.26,129.17 426.16,133.43 421.26,137.70" fill="#e2888e" stroke="#e2888e" stroke-width="0.3"/><polygon points="421.26,129.17 426.16,124.90 431.06,129.17 426.16,133.43" fill="#eaabaf" stroke="#eaabaf" stroke-width="0.3"/><polygon points="426.16,124.90 431.06,120.63 435.97,124.90 431.06,129.17" fill="#f0c1c4" stroke="#f0c1c4" stroke-width="0.3"/><polygon points="431.06,120.63 435.97,116.37 440.87,120.63 435.97,124.90" fill="#f3d0d2" stroke="#f3d0d2" stroke-width="0.3"/><polygon points="406.54,150.50 411.45,146.23 416.35,150.50 411.45,154.77" fill="#c20814" stroke="#c20814" stroke-width="0.3"/><polygon points="411.45,146.23 416.35,141.97 421.26,146.23 416.35,150.50" fill="#c30d19" stroke="#c30d19" stroke-width="0.3"/><polygon points="416.35,141.97 421.26,137.70 426.16,141.97 421.26,146.23" fill="#c92630" stroke="#c92630" stroke-width="0.3"/><polygon points="421.26,137.70 426.16,133.43 431.06,137.70 426.16,141.97" fill="#d6575f" stroke="#d6575f" stroke-width="0.3"/><polygon points="426.16,133.43 431.06,129.17 435.97,133.43 431.06,137.70" fill="#e2888e" stroke="#e2888e" stroke-width="0.3"/><polygon points="431.06,129.17 435.97,124.90 440.87,129.17 435.97,133.43" fill="#eaabaf" stroke="#eaabaf" stroke-width="0.3"/><polygon points="435.97,124.90 440.87,120.63 445.78,124.90 440.87,129.17" fill="#f0c1c4" stroke="#f0c1c4" stroke-width="0.3"/><polygon points="416.35,150.50 421.26,146.23 426.16,150.50 421.26,154.77" fill="#c20814" stroke="#c20814" stroke-width="0.3"/><polygon points="421.26,146.23 426.16,141.97 431.06,146.23 426.16,150.50" fill="#c30d19" stroke="#c30d19" stroke-width="0.3"/><polygon points="426.16,141.97 431.06,137.70 435.97,141.97 431.06,146.23" fill="#c92630" stroke="#c92630" stroke-width="0.3"/><polygon points="431.06,137.70 435.97,133.43 440.87,137.70 435.97,141.97" fill="#d34d56" stroke="#d34d56" stroke-width="0.3"/><polygon points="435.97,133.43 440.87,129.17 445.78,133.43 440.87,137.70" fill="#d8626a" stroke="#d8626a" stroke-width="0.3"/><polygon points="440.87,129.17 445.78,124.90 450.68,129.17 445.78,133.43" fill="#d75b63" stroke="#d75b63" stroke-width="0.3"/><polygon points="426.16,150.50 431.06,146.23 435.97,150.50 431.06,154.77" fill="#c20814" stroke="#c20814" stroke-width="0.3"/><polygon points="431.06,146.23 435.97,141.97 440.87,146.23 435.97,150.50" fill="#c30d19" stroke="#c30d19" stroke-width="0.3"/><polygon points="435.97,141.97 440.87,137.70 445.78,141.97 440.87,146.23" fill="#c92630" stroke="#c92630" stroke-width="0.3"/><polygon points="440.87,137.70 445.78,133.43 450.68,137.70 445.78,141.97" fill="#d34d56" stroke="#d34d56" stroke-width="0.3"/><polygon points="445.78,133.43 450.68,129.17 455.58,133.43 450.68,137.70" fill="#d34e56" stroke="#d34e56" stroke-width="0.3"/><polygon points="435.97,150.50 440.87,146.23 445.78,150.50 440.87,154.77" fill="#c20814" stroke="#c20814" stroke-width="0.3"/><polygon points="440.87,146.23 445.78,141.97 450.68,146.23 445.78,150.50" fill="#c30d19" stroke="#c30d19" stroke-width="0.3"/><polygon points="445.78,141.97 450.68,137.70 455.58,141.97 450.68,146.23" fill="#c92630" stroke="#c92630" stroke-width="0.3"/><polygon points="450.68,137.70 455.58,133.43 460.49,137.70 455.58,141.97" fill="#cf3d47" stroke="#cf3d47" stroke-width="0.3"/><polygon points="445.78,150.50 450.68,146.23 455.58,150.50 450.68,154.77" fill="#c20814" stroke="#c20814" stroke-width="0.3"/><polygon points="450.68,146.23 455.58,141.97 460.49,146.23 455.58,150.50" fill="#c30d19" stroke="#c30d19" stroke-width="0.3"/><polygon points="455.58,141.97 460.49,137.70 465.39,141.97 460.49,146.23" fill="#c92630" stroke="#c92630" stroke-width="0.3"/><polygon points="455.58,150.50 460.49,146.23 465.39,150.50 460.49,154.77" fill="#c20814" stroke="#c20814" stroke-width="0.3"/><polygon points="460.49,146.23 465.39,141.97 470.30,146.23 465.39,150.50" fill="#c30d19" stroke="#c30d19" stroke-width="0.3"/><polygon points="465.39,150.50 470.30,146.23 475.20,150.50 470.30,154.77" fill="#c20814" stroke="#c20814" stroke-width="0.3"/></g><text x="148.50" y="104.64" font-size="6.5" text-anchor="middle" fill="#222" stroke="#222" stroke-width="0.1">1</text><text x="250.60" y="107.14" font-size="6.5" text-anchor="middle" fill="#222" stroke="#222" stroke-width="0.1">2</text><text x="357.20" y="83.54" font-size="6.5" text-anchor="middle" fill="#222" stroke="#222" stroke-width="0.1">3</text><rect x="207.9" y="153" width="9.20" height="52" fill="#bdbdbd" fill-opacity="0.41"/><rect x="285.5" y="153" width="8.70" height="52" fill="#bdbdbd" fill-opacity="0.41"/><line x1="126.0" y1="150.5" x2="126.0" y2="156.4" stroke="#444" stroke-width="0.9"/><text x="126.00" y="162.39" font-size="5.8" text-anchor="middle" fill="#222" stroke="#222" stroke-width="0.2" textLength="29.2" lengthAdjust="spacingAndGlyphs">33,500,000</text><line x1="164.8" y1="150.5" x2="164.8" y2="156.4" stroke="#444" stroke-width="0.9"/><text x="164.80" y="162.39" font-size="5.8" text-anchor="middle" fill="#222" stroke="#222" stroke-width="0.2" textLength="29.2" lengthAdjust="spacingAndGlyphs">33,600,000</text><line x1="206.5" y1="150.5" x2="206.5" y2="156.4" stroke="#444" stroke-width="0.9"/><text x="206.50" y="162.39" font-size="5.8" text-anchor="middle" fill="#222" stroke="#222" stroke-width="0.2" textLength="29.2" lengthAdjust="spacingAndGlyphs">33,700,000</text><line x1="245.2" y1="150.5" x2="245.2" y2="156.4" stroke="#444" stroke-width="0.9"/><text x="245.20" y="162.39" font-size="5.8" text-anchor="middle" fill="#222" stroke="#222" stroke-width="0.2" textLength="29.2" lengthAdjust="spacingAndGlyphs">33,800,000</text><line x1="284.1" y1="150.5" x2="284.1" y2="156.4" stroke="#444" stroke-width="0.9"/><text x="284.10" y="162.39" font-size="5.8" text-anchor="middle" fill="#222" stroke="#222" stroke-width="0.2" textLength="29.2" lengthAdjust="spacingAndGlyphs">33,900,000</text><line x1="322.5" y1="150.5" x2="322.5" y2="156.4" stroke="#444" stroke-width="0.9"/><text x="322.50" y="162.39" font-size="5.8" text-anchor="middle" fill="#222" stroke="#222" stroke-width="0.2" textLength="29.2" lengthAdjust="spacingAndGlyphs">34,000,000</text><line x1="360.8" y1="150.5" x2="360.8" y2="156.4" stroke="#444" stroke-width="0.9"/><text x="360.80" y="162.39" font-size="5.8" text-anchor="middle" fill="#222" stroke="#222" stroke-width="0.2" textLength="29.2" lengthAdjust="spacingAndGlyphs">34,100,000</text><line x1="398.3" y1="150.5" x2="398.3" y2="156.4" stroke="#444" stroke-width="0.9"/><text x="398.30" y="162.39" font-size="5.8" text-anchor="middle" fill="#222" stroke="#222" stroke-width="0.2" textLength="29.2" lengthAdjust="spacingAndGlyphs">34,200,000</text><line x1="437.5" y1="150.5" x2="437.5" y2="156.4" stroke="#444" stroke-width="0.9"/><text x="437.50" y="162.39" font-size="5.8" text-anchor="middle" fill="#222" stroke="#222" stroke-width="0.2" textLength="29.2" lengthAdjust="spacingAndGlyphs">34,300,000</text><rect x="27.6" y="22.8" width="7" height="96.8" rx="3.5" fill="#c4c4c4"/><text x="20.20" y="73.38" font-size="10.5" text-anchor="middle" fill="#222" stroke="#222" stroke-width="0.06" textLength="21.8" lengthAdjust="spacingAndGlyphs" transform="rotate(-90 20.20 69.60)">HI-C</text><text x="31.00" y="72.84" font-size="6.5" text-anchor="middle" fill="#333" stroke="#333" stroke-width="0.1" textLength="52.4" lengthAdjust="spacingAndGlyphs" transform="rotate(-90 31.00 70.50)">Chromosome 19</text><text x="45.60" y="75.10" font-size="10" text-anchor="middle" fill="#1a1a1a" stroke="#1a1a1a" stroke-width="0.06" textLength="107" lengthAdjust="spacingAndGlyphs" transform="rotate(-90 45.60 71.50)">K562 (25Kb resolution)</text><text x="12.00" y="16.12" font-size="12.7" text-anchor="middle" font-weight="bold" fill="#111">A</text><text x="12.00" y="206.97" font-size="12.7" text-anchor="middle" font-weight="bold" fill="#111">B</text><text x="12.00" y="370.97" font-size="12.7" text-anchor="middle" font-weight="bold" fill="#111">C</text><text x="12.10" y="487.97" font-size="12.7" text-anchor="middle" font-weight="bold" fill="#111">D</text><line x1="101.2" y1="192.8" x2="139.3" y2="192.8" stroke="#222" stroke-width="0.6"/><rect x="101" y="191.70" width="1.50" height="2.2" fill="#222"/><rect x="106.5" y="191.70" width="2.00" height="2.2" fill="#222"/><rect x="109.5" y="191.70" width="2.00" height="2.2" fill="#222"/><rect x="114.5" y="191.70" width="1.50" height="2.2" fill="#222"/><rect x="117" y="191.70" width="1.50" height="2.2" fill="#222"/><rect x="121" y="191.70" width="1.00" height="2.2" fill="#222"/><rect x="125.5" y="191.70" width="1.00" height="2.2" fill="#222"/><rect x="129.5" y="191.70" width="1.00" height="2.2" fill="#222"/><rect x="134.0" y="191.70" width="1.00" height="2.2" fill="#222"/><rect x="138.5" y="191.70" width="1.00" height="2.2" fill="#222"/><text x="120.50" y="199.06" font-size="6" text-anchor="middle" fill="#222" stroke="#222" stroke-width="0.2" textLength="20.3" lengthAdjust="spacingAndGlyphs">RHPN2</text><line x1="145" y1="182.8" x2="166.5" y2="182.8" stroke="#2c2f7a" stroke-width="0.6"/><rect x="145" y="181.70" width="1.00" height="2.2" fill="#2c2f7a"/><rect x="148.5" y="181.70" width="2.00" height="2.2" fill="#2c2f7a"/><rect x="151.5" y="181.70" width="2.00" height="2.2" fill="#2c2f7a"/><rect x="154.5" y="181.70" width="1.50" height="2.2" fill="#2c2f7a"/><rect x="157.5" y="181.70" width="2.50" height="2.2" fill="#2c2f7a"/><rect x="161" y="181.70" width="1.00" height="2.2" fill="#2c2f7a"/><rect x="164.5" y="181.70" width="1.50" height="2.2" fill="#2c2f7a"/><text x="155.20" y="179.46" font-size="6" text-anchor="middle" fill="#222" stroke="#222" stroke-width="0.2" textLength="27.3" lengthAdjust="spacingAndGlyphs">GPATCH1</text><line x1="167.2" y1="192.7" x2="187" y2="192.7" stroke="#2c2f7a" stroke-width="0.6"/><rect x="167.2" y="191.60" width="1.00" height="2.2" fill="#2c2f7a"/><rect x="169.5" y="191.60" width="1.00" height="2.2" fill="#2c2f7a"/><rect x="172.5" y="191.60" width="3.00" height="2.2" fill="#2c2f7a"/><rect x="177" y="191.60" width="2.00" height="2.2" fill="#2c2f7a"/><rect x="180" y="191.60" width="1.00" height="2.2" fill="#2c2f7a"/><rect x="184" y="191.60" width="2.00" height="2.2" fill="#2c2f7a"/><text x="176.90" y="190.76" font-size="6" text-anchor="middle" fill="#222" stroke="#222" stroke-width="0.2" textLength="20.2" lengthAdjust="spacingAndGlyphs">WDR88</text><line x1="190.5" y1="185.2" x2="196.5" y2="185.2" stroke="#222" stroke-width="0.6"/><rect x="190.5" y="184.00" width="1.30" height="2.4" fill="#222"/><rect x="193.8" y="184.00" width="2.40" height="2.4" fill="#222"/><line x1="198" y1="185.6" x2="205" y2="185.6" stroke="#999" stroke-width="0.5"/><rect x="201.0" y="185.00" width="1.00" height="1.2" fill="#999"/><text x="197.60" y="182.36" font-size="6" text-anchor="middle" fill="#222" stroke="#222" stroke-width="0.2" textLength="15.2" lengthAdjust="spacingAndGlyphs">LRP3</text><line x1="202.5" y1="188.3" x2="210" y2="188.3" stroke="#aaa" stroke-width="0.5"/><rect x="203.5" y="187.70" width="1.00" height="1.2" fill="#aaa"/><rect x="208.0" y="187.70" width="1.00" height="1.2" fill="#aaa"/><text x="206.60" y="196.46" font-size="6" text-anchor="middle" fill="#222" stroke="#222" stroke-width="0.2" textLength="25.3" lengthAdjust="spacingAndGlyphs">SLC7A10</text><rect x="240" y="181" width="1.4" height="2.4" fill="#222"/><text x="240.60" y="189.06" font-size="6" text-anchor="middle" fill="#222" stroke="#222" stroke-width="0.2" textLength="20.2" lengthAdjust="spacingAndGlyphs">CEBPA</text><line x1="269.5" y1="182.7" x2="276" y2="182.7" stroke="#222" stroke-width="0.6"/><rect x="271.5" y="181.70" width="1.30" height="2.0" fill="#222"/><rect x="274" y="181.70" width="1.60" height="2.0" fill="#222"/><text x="272.20" y="179.76" font-size="6" text-anchor="middle" fill="#222" stroke="#222" stroke-width="0.2" textLength="19.6" lengthAdjust="spacingAndGlyphs">CEBPG</text><line x1="275.5" y1="191.3" x2="336" y2="191.3" stroke="#444" stroke-width="0.55"/><rect x="276" y="190.30" width="1.00" height="2.0" fill="#444"/><rect x="280" y="190.30" width="1.00" height="2.0" fill="#444"/><rect x="284" y="190.30" width="1.00" height="2.0" fill="#444"/><rect x="289.5" y="190.30" width="1.00" height="2.0" fill="#444"/><rect x="310" y="190.30" width="1.50" height="2.0" fill="#444"/><rect x="315" y="190.30" width="1.00" height="2.0" fill="#444"/><rect x="319" y="190.30" width="1.50" height="2.0" fill="#444"/><rect x="322" y="190.30" width="2.00" height="2.0" fill="#444"/><rect x="325.5" y="190.30" width="1.50" height="2.0" fill="#444"/><rect x="329" y="190.30" width="1.00" height="2.0" fill="#444"/><rect x="332" y="190.30" width="2.50" height="2.0" fill="#444"/><text x="306.30" y="198.46" font-size="6" text-anchor="middle" fill="#222" stroke="#222" stroke-width="0.2" textLength="15.4" lengthAdjust="spacingAndGlyphs">PEPD</text><line x1="378.5" y1="185.5" x2="443.5" y2="185.5" stroke="#444" stroke-width="0.5"/><rect x="378.5" y="184.80" width="1.00" height="1.4" fill="#444"/><rect x="407.5" y="184.80" width="1.00" height="1.4" fill="#444"/><polygon points="442.3,183.6 444.6,185.5 442.3,187.4" fill="#222"/><text x="408.60" y="183.06" font-size="6" text-anchor="middle" fill="#222" stroke="#222" stroke-width="0.2" textLength="19.2" lengthAdjust="spacingAndGlyphs">CHST8</text><line x1="452.5" y1="191.8" x2="460" y2="191.8" stroke="#2c2f7a" stroke-width="0.5"/><rect x="452.5" y="190.90" width="1.50" height="1.8" fill="#2c2f7a"/><rect x="455.5" y="190.90" width="1.00" height="1.8" fill="#2c2f7a"/><rect x="457.5" y="190.90" width="2.00" height="1.8" fill="#2c2f7a"/><text x="459.00" y="189.36" font-size="6" text-anchor="middle" fill="#222" stroke="#222" stroke-width="0.2" textLength="22.8" lengthAdjust="spacingAndGlyphs">KCTD15</text><line x1="74.3" y1="209.5" x2="74.3" y2="332.2" stroke="#8a8a8a" stroke-width="0.9"/><line x1="68" y1="209.5" x2="74.3" y2="209.5" stroke="#8a8a8a" stroke-width="0.9"/><line x1="68" y1="251.5" x2="472.5" y2="251.5" stroke="#8a8a8a" stroke-width="0.9"/><line x1="68" y1="291.5" x2="472.5" y2="291.5" stroke="#8a8a8a" stroke-width="0.9"/><line x1="68" y1="331.8" x2="472.5" y2="331.8" stroke="#8a8a8a" stroke-width="0.9"/><text x="65.40" y="212.52" font-size="7" text-anchor="end" fill="#222" stroke="#222" stroke-width="0.1" textLength="15.4" lengthAdjust="spacingAndGlyphs">2000</text><text x="65.40" y="254.52" font-size="7" text-anchor="end" fill="#222" stroke="#222" stroke-width="0.1" textLength="15.4" lengthAdjust="spacingAndGlyphs">2000</text><text x="65.40" y="294.52" font-size="7" text-anchor="end" fill="#222" stroke="#222" stroke-width="0.1" textLength="15.4" lengthAdjust="spacingAndGlyphs">2000</text><text x="65.20" y="333.02" font-size="7" text-anchor="end" fill="#222" stroke="#222" stroke-width="0.1">0</text><text x="90.90" y="214.52" font-size="7" text-anchor="middle" fill="#1a1a1a" stroke="#1a1a1a" stroke-width="0.1" textLength="23.9" lengthAdjust="spacingAndGlyphs">Myeloid</text><text x="90.80" y="223.02" font-size="7" text-anchor="middle" fill="#1a1a1a" stroke="#1a1a1a" stroke-width="0.1" textLength="23.1" lengthAdjust="spacingAndGlyphs">(HL-60)</text><text x="91.50" y="229.27" font-size="5.2" text-anchor="middle" font-style="italic" fill="#1a1a1a" stroke="#1a1a1a" stroke-width="0.06" textLength="21.5" lengthAdjust="spacingAndGlyphs">CEBPA+</text><text x="90.50" y="260.22" font-size="7" text-anchor="middle" fill="#1a1a1a" stroke="#1a1a1a" stroke-width="0.1" textLength="29.8" lengthAdjust="spacingAndGlyphs">Lymphoid</text><text x="90.50" y="267.92" font-size="7" text-anchor="middle" fill="#1a1a1a" stroke="#1a1a1a" stroke-width="0.1" textLength="23" lengthAdjust="spacingAndGlyphs">(Jurkat)</text><text x="89.80" y="274.17" font-size="5.2" text-anchor="middle" font-style="italic" fill="#1a1a1a" stroke="#1a1a1a" stroke-width="0.06" textLength="17.6" lengthAdjust="spacingAndGlyphs">CEBPA-</text><text x="91.50" y="299.52" font-size="7" text-anchor="middle" fill="#1a1a1a" stroke="#1a1a1a" stroke-width="0.1" textLength="25" lengthAdjust="spacingAndGlyphs">Cervical</text><text x="91.50" y="307.52" font-size="7" text-anchor="middle" fill="#1a1a1a" stroke="#1a1a1a" stroke-width="0.1" textLength="19" lengthAdjust="spacingAndGlyphs">(Hela)</text><text x="90.80" y="314.37" font-size="5.2" text-anchor="middle" font-style="italic" fill="#1a1a1a" stroke="#1a1a1a" stroke-width="0.06" textLength="17.6" lengthAdjust="spacingAndGlyphs">CEBPA-</text><text x="27.30" y="274.06" font-size="9.6" text-anchor="middle" fill="#1a1a1a" stroke="#1a1a1a" stroke-width="0.06" textLength="29.8" lengthAdjust="spacingAndGlyphs" transform="rotate(-90 27.30 270.60)">4C-seq</text><text x="40.60" y="273.76" font-size="9.6" text-anchor="middle" fill="#1a1a1a" stroke="#1a1a1a" stroke-width="0.06" textLength="75.5" lengthAdjust="spacingAndGlyphs" transform="rotate(-90 40.60 270.30)">(Read per million)</text><path d="M133,251.3 L133,251.3 L137,250.6 L140,250.3 L142.7,249.2 L145,250.2 L149,250.4 L153,250 L157,249.6 L160,248.6 L163,249.3 L166,248.6 L168,247.8 L171,249.2 L175,249.3 L177.5,247 L179.6,244.2 L181.5,247.5 L184,249.3 L188,249.5 L191,248.8 L193.5,246.5 L195.5,243.5 L197.4,242.3 L199.5,244 L201.5,246.5 L204,247.5 L206.5,248.2 L208.3,246 L209.5,236 L210.8,228.5 L212.2,234 L213.5,240.5 L215,243 L216.8,242 L218.5,238 L220.5,231 L222,226.5 L223.5,224.6 L225,226.5 L226.5,231 L228,238 L229.5,244 L230.4,246.5 L231.5,244 L232.6,237 L233.8,232.5 L235.3,230.5 L236.7,228 L237.7,222 L238.6,215 L239.4,212.2 L249.6,212.2 L250.5,216.5 L251.2,212.2 L254.2,212.2 L255,228 L255.8,239.6 L257.2,236 L258.3,230 L259.2,226.5 L260.2,231 L261.2,240 L262,244.2 L263.5,241 L265,236 L266.2,233.5 L267.5,235 L268.8,237.3 L270,241 L270.8,242.7 L271.8,235 L272.8,222 L273.9,212.2 L274.8,220 L276,235 L277.3,245.8 L279,247.5 L281,247 L283.2,245 L285,247.5 L287,248.8 L289,249 L291,248.5 L292.7,248 L294.5,249.5 L296.5,250 L299,249.2 L301,250 L303.5,249.2 L306,248.5 L308.8,248.6 L311.5,248.8 L313.5,249.5 L315.6,248.5 L317.5,250 L320,250.5 L323,250.2 L325,249.8 L327,249.3 L329,250 L331.5,250.3 L333.5,249 L335.4,246.7 L337,248.5 L339,250.3 L342,250.5 L344,250 L347,250.6 L350,251.3 L350,251.3 Z" fill="#41489a" stroke="#41489a" stroke-width="0.4" stroke-linejoin="round"/><path d="M133,291.3 L133,291.2 L137,290.5 L140,290 L142.7,289.5 L145,290.3 L149,290.4 L152,290 L155,289 L158.9,287 L161,288 L163,288.6 L165,287.8 L167,287.5 L169,288.5 L172,289.6 L175,288.5 L177.5,286 L179.6,284.6 L181.5,285.6 L183,285 L185,286.5 L187.7,289 L190,289.3 L192.5,287.5 L194.5,284.5 L197,282.3 L199,283.5 L201,285.8 L203.9,285.5 L206,287.5 L208,288 L209.5,283 L210.8,280 L212.5,283.5 L214,288 L216,287.5 L218,285.5 L220,282.5 L222.5,280 L224.2,279.6 L226,280.5 L227.5,283 L229,286 L230.4,287.7 L232,285 L233.5,275 L234.5,262.3 L235.8,260.8 L237.3,256 L238.8,252.3 L249.6,252.3 L251,257 L253,252.3 L254,260 L255.2,272 L256.5,283 L257.6,276 L258.5,267 L259.2,263 L260.2,268 L261.2,280 L262,287 L263.5,283 L265,277 L266.5,273 L267.7,274.5 L268.8,275.4 L270,282 L270.8,286 L271.8,278 L272.6,268 L273.5,260.8 L274.5,265 L275.6,276 L276.8,285 L278,289.7 L280,289 L283.5,287.7 L285.5,288.5 L287.5,289 L290,288 L292.7,286.2 L294,288 L296,289.2 L298.3,289.6 L300.5,289 L302.5,288 L304.5,286.5 L306,285.8 L308.5,285.8 L311,286 L313,287 L314.5,285 L316,282.9 L317.2,286 L318.5,289.5 L321,290 L324,289.8 L327,290 L330,289.8 L332.5,289 L335.4,287.1 L337.5,288.5 L340,289.6 L342.5,289.6 L345,290.5 L348,290.6 L350,291.2 L350,291.3 Z" fill="#c81419" stroke="#c81419" stroke-width="0.4" stroke-linejoin="round"/><path d="M133,331.6 L133,331.5 L137,330.8 L140,330.2 L142.7,329.5 L146,330.5 L150,330.6 L154,330.2 L158,329.8 L161,329.5 L164.6,329 L167,329.6 L170,329.8 L173,330 L176,329.2 L178.5,326.5 L180.3,325.1 L182,326.5 L184,329 L186,330 L189,330.2 L192,329 L194.5,326.5 L197,325.1 L199.5,326.5 L202,328.5 L205,329.3 L207.5,329.5 L209,324 L210.2,318 L211.3,315.9 L212.5,318 L214,322 L216.6,325.8 L219,324.6 L221,321 L222.8,318 L224.2,317.3 L225,318.5 L226.5,321 L228,325 L229.5,328 L230.4,329.2 L232,326.5 L233.2,318 L234.5,305.4 L236,305 L238,304.6 L239.2,294.6 L240.4,292.3 L249.6,292.3 L251,296 L252,292.3 L253.5,292.3 L254.8,305 L256.5,319.2 L257.8,311 L258.8,302 L259.6,297.7 L260.5,303 L261.3,315 L262,327 L263.5,322 L265,313 L266.2,310 L267.4,313 L268.5,317 L269.5,322 L270.4,327 L271.5,318 L272.5,302 L273.5,292.3 L274.8,300 L276,312 L277.5,323 L278.8,328.5 L280.5,328.5 L283.2,326.2 L285,327 L287,328.5 L289.5,329 L291.5,328 L293.5,327.3 L295.5,329.5 L298,330.2 L301,330.2 L304,329.5 L306.5,328 L308.8,327.3 L311,328 L313,329 L314.6,329 L316.5,330 L320,330.5 L323,330.5 L327,330 L330,330.3 L333,328.5 L335.4,325.4 L337.5,328 L340,330.2 L343.5,330 L346,330.8 L350,331.5 L350,331.6 Z" fill="#487a3a" stroke="#487a3a" stroke-width="0.4" stroke-linejoin="round"/><polygon points="236.7,198.6 251.7,198.6 244.2,208.7" fill="#cc0a1a" stroke="#2a0000" stroke-width="0.9" stroke-linejoin="miter"/><line x1="73.9" y1="369.6" x2="73.9" y2="435.2" stroke="#8a8a8a" stroke-width="0.9"/><line x1="68" y1="369.6" x2="73.9" y2="369.6" stroke="#8a8a8a" stroke-width="0.9"/><line x1="68" y1="389.3" x2="501" y2="389.3" stroke="#8a8a8a" stroke-width="0.9"/><line x1="68" y1="411.3" x2="500.5" y2="411.3" stroke="#8a8a8a" stroke-width="0.9"/><line x1="68" y1="435.2" x2="500" y2="435.2" stroke="#8a8a8a" stroke-width="0.9"/><text x="62.40" y="372.12" font-size="7" text-anchor="end" fill="#222" stroke="#222" stroke-width="0.1" textLength="8.1" lengthAdjust="spacingAndGlyphs">30</text><text x="62.40" y="391.82" font-size="7" text-anchor="end" fill="#222" stroke="#222" stroke-width="0.1" textLength="8.1" lengthAdjust="spacingAndGlyphs">30</text><text x="62.40" y="413.72" font-size="7" text-anchor="end" fill="#222" stroke="#222" stroke-width="0.1" textLength="8.1" lengthAdjust="spacingAndGlyphs">30</text><text x="62.00" y="437.32" font-size="7" text-anchor="end" fill="#222" stroke="#222" stroke-width="0.1">0</text><text x="75.70" y="371.20" font-size="7.5" text-anchor="start" fill="#1a1a1a" stroke="#1a1a1a" stroke-width="0.15" textLength="24.8" lengthAdjust="spacingAndGlyphs">Myeloid</text><text x="75.70" y="396.10" font-size="7.5" text-anchor="start" fill="#1a1a1a" stroke="#1a1a1a" stroke-width="0.15" textLength="30.5" lengthAdjust="spacingAndGlyphs">Lymphoid</text><text x="76.20" y="422.40" font-size="7.5" text-anchor="start" fill="#1a1a1a" stroke="#1a1a1a" stroke-width="0.15" textLength="25" lengthAdjust="spacingAndGlyphs">Cervical</text><text x="27.85" y="406.38" font-size="10.5" text-anchor="middle" fill="#1a1a1a" stroke="#1a1a1a" stroke-width="0.06" textLength="21.5" lengthAdjust="spacingAndGlyphs" transform="rotate(-90 27.85 402.60)">CTCF</text><text x="40.80" y="406.16" font-size="9.6" text-anchor="middle" fill="#1a1a1a" stroke="#1a1a1a" stroke-width="0.06" textLength="44.2" lengthAdjust="spacingAndGlyphs" transform="rotate(-90 40.80 402.70)">(ChIP-seq)</text><path d="M85,388.6 L85.0,388.06 L85.8,387.49 L86.6,387.99 L87.4,388.38 L88.2,387.84 L89.0,388.49 L89.8,388.49 L90.6,385.31 L91.4,387.44 L92.2,387.86 L93.0,388.58 L93.8,388.53 L94.6,387.15 L95.4,388.07 L96.2,387.98 L97.0,388.00 L97.8,388.05 L98.6,387.40 L99.4,387.59 L100.2,388.22 L101.0,388.25 L101.8,387.68 L102.6,387.58 L103.4,387.45 L104.2,388.60 L105.0,387.51 L105.8,387.42 L106.6,388.51 L107.4,387.67 L108.2,388.50 L109.0,387.44 L109.8,388.46 L110.6,386.49 L111.4,388.39 L112.2,388.06 L113.0,387.72 L113.8,387.83 L114.6,388.10 L115.4,388.28 L116.2,387.64 L117.0,387.54 L117.8,388.13 L118.6,387.83 L119.4,387.41 L120.2,388.29 L121.0,388.21 L121.8,388.51 L122.6,387.90 L123.4,387.88 L124.2,388.06 L125.0,388.02 L125.8,387.56 L126.6,388.42 L127.4,387.62 L128.2,388.37 L129.0,387.47 L129.8,387.46 L130.6,387.88 L131.4,386.07 L132.2,388.31 L133.0,388.29 L133.8,387.88 L134.6,388.39 L135.4,388.52 L136.2,387.93 L137.0,387.86 L137.8,387.50 L138.6,388.58 L139.4,388.07 L140.2,388.39 L141.0,387.91 L141.8,388.17 L142.6,387.42 L143.4,387.77 L144.2,388.39 L145.0,387.51 L145.8,385.85 L146.6,388.02 L147.4,388.22 L148.2,388.51 L149.0,387.72 L149.8,387.72 L150.6,387.65 L151.4,388.18 L152.2,387.52 L153.0,388.10 L153.8,387.56 L154.6,387.85 L155.4,387.90 L156.2,388.50 L157.0,387.41 L157.8,387.73 L158.6,387.72 L159.4,388.07 L160.2,388.50 L161.0,388.56 L161.8,388.02 L162.6,387.76 L163.4,387.86 L164.2,387.54 L165.0,387.79 L165.8,388.40 L166.6,387.81 L167.4,387.53 L168.2,387.80 L169.0,388.08 L169.8,387.50 L170.6,388.14 L171.4,388.22 L172.2,388.00 L173.0,387.58 L173.8,387.46 L174.6,388.40 L175.4,388.27 L176.2,388.10 L177.0,388.01 L177.8,387.59 L178.6,388.06 L179.4,388.56 L180.2,388.55 L181.0,387.92 L181.8,387.31 L182.6,385.98 L183.4,388.32 L184.2,388.54 L185.0,388.06 L185.8,387.81 L186.6,387.45 L187.4,388.36 L188.2,387.21 L189.0,387.74 L189.8,388.27 L190.6,387.76 L191.4,387.86 L192.2,388.13 L193.0,387.51 L193.8,387.48 L194.6,388.44 L195.4,387.85 L196.2,388.15 L197.0,387.54 L197.8,387.47 L198.6,387.82 L199.4,387.73 L200.2,387.83 L201.0,388.34 L201.8,387.42 L202.6,387.96 L203.4,388.22 L204.2,387.57 L205.0,388.50 L205.8,387.94 L206.6,385.99 L207.4,388.52 L208.2,388.39 L209.0,387.65 L209.8,388.42 L210.6,387.73 L211.4,387.77 L212.2,388.01 L213.0,388.50 L213.8,387.97 L214.6,387.73 L215.4,387.97 L216.2,387.93 L217.0,388.14 L217.8,387.52 L218.6,387.58 L219.4,387.97 L220.2,388.36 L221.0,388.00 L221.8,388.57 L222.6,387.98 L223.4,387.64 L224.2,388.01 L225.0,388.52 L225.8,388.10 L226.6,387.49 L227.4,388.03 L228.2,388.08 L229.0,387.52 L229.8,388.22 L230.6,387.86 L231.4,388.44 L232.2,388.57 L233.0,388.33 L233.8,388.21 L234.6,387.86 L235.4,387.72 L236.2,387.99 L237.0,388.36 L237.8,388.08 L238.6,388.10 L239.4,388.41 L240.2,387.84 L241.0,387.96 L241.8,387.87 L242.6,388.32 L243.4,387.63 L244.2,388.22 L245.0,387.49 L245.8,387.40 L246.6,388.44 L247.4,387.73 L248.2,388.48 L249.0,388.09 L249.8,388.45 L250.6,387.28 L251.4,387.78 L252.2,387.44 L253.0,387.99 L253.8,388.00 L254.6,388.37 L255.4,387.09 L256.2,387.98 L257.0,388.42 L257.8,388.36 L258.6,387.41 L259.4,388.49 L260.2,387.46 L261.0,387.68 L261.8,388.04 L262.6,388.08 L263.4,388.58 L264.2,387.59 L265.0,388.06 L265.8,388.11 L266.6,388.40 L267.4,388.58 L268.2,387.64 L269.0,387.57 L269.8,388.11 L270.6,387.99 L271.4,387.63 L272.2,387.51 L273.0,387.67 L273.8,388.11 L274.6,387.54 L275.4,387.68 L276.2,388.11 L277.0,388.52 L277.8,387.15 L278.6,387.83 L279.4,388.32 L280.2,387.80 L281.0,387.81 L281.8,387.96 L282.6,387.40 L283.4,387.76 L284.2,385.89 L285.0,387.71 L285.8,387.63 L286.6,388.15 L287.4,388.30 L288.2,387.94 L289.0,387.44 L289.8,387.41 L290.6,387.63 L291.4,387.88 L292.2,388.55 L293.0,388.41 L293.8,388.40 L294.6,385.50 L295.4,388.10 L296.2,387.88 L297.0,388.26 L297.8,387.93 L298.6,387.74 L299.4,388.58 L300.2,388.55 L301.0,387.69 L301.8,387.52 L302.6,388.54 L303.4,387.47 L304.2,387.51 L305.0,388.03 L305.8,388.31 L306.6,387.48 L307.4,388.04 L308.2,387.62 L309.0,388.46 L309.8,388.05 L310.6,388.54 L311.4,388.45 L312.2,387.80 L313.0,388.29 L313.8,388.10 L314.6,387.96 L315.4,387.46 L316.2,388.31 L317.0,387.53 L317.8,387.85 L318.6,388.27 L319.4,387.92 L320.2,387.84 L321.0,388.37 L321.8,387.42 L322.6,387.39 L323.4,388.27 L324.2,387.85 L325.0,387.95 L325.8,388.50 L326.6,387.94 L327.4,388.15 L328.2,388.35 L329.0,387.71 L329.8,388.51 L330.6,387.63 L331.4,387.68 L332.2,388.09 L333.0,387.63 L333.8,387.82 L334.6,388.21 L335.4,387.70 L336.2,388.09 L337.0,388.48 L337.8,388.51 L338.6,387.92 L339.4,387.78 L340.2,387.67 L341.0,388.34 L341.8,388.50 L342.6,387.73 L343.4,388.26 L344.2,388.17 L345.0,388.16 L345.8,387.75 L346.6,387.50 L347.4,387.50 L348.2,387.64 L349.0,388.22 L349.8,387.48 L350.6,388.30 L351.4,388.16 L352.2,388.13 L353.0,388.37 L353.8,387.64 L354.6,387.60 L355.4,388.39 L356.2,387.54 L357.0,388.57 L357.8,387.95 L358.6,387.44 L359.4,387.63 L360.2,387.94 L361.0,388.50 L361.8,387.72 L362.6,388.50 L363.4,388.43 L364.2,387.82 L365.0,388.34 L365.8,387.97 L366.6,388.13 L367.4,387.44 L368.2,388.01 L369.0,387.73 L369.8,387.50 L370.6,387.61 L371.4,387.58 L372.2,387.60 L373.0,387.45 L373.8,387.97 L374.6,387.64 L375.4,388.10 L376.2,387.71 L377.0,388.15 L377.8,388.35 L378.6,388.25 L379.4,388.53 L380.2,388.46 L381.0,387.67 L381.8,388.53 L382.6,387.90 L383.4,388.56 L384.2,388.38 L385.0,388.32 L385.8,387.89 L386.6,388.38 L387.4,388.39 L388.2,388.23 L389.0,387.62 L389.8,388.29 L390.6,387.50 L391.4,387.94 L392.2,388.02 L393.0,388.54 L393.8,387.64 L394.6,387.97 L395.4,388.27 L396.2,387.81 L397.0,388.59 L397.8,388.15 L398.6,387.74 L399.4,388.41 L400.2,388.21 L401.0,387.56 L401.8,387.84 L402.6,388.28 L403.4,388.42 L404.2,388.60 L405.0,387.58 L405.8,388.50 L406.6,387.74 L407.4,388.02 L408.2,387.45 L409.0,387.57 L409.8,387.65 L410.6,387.50 L411.4,387.61 L412.2,387.95 L413.0,388.41 L413.8,388.23 L414.6,388.51 L415.4,388.04 L416.2,388.17 L417.0,388.47 L417.8,388.05 L418.6,387.60 L419.4,388.59 L420.2,387.75 L421.0,387.92 L421.8,388.59 L422.6,387.64 L423.4,387.86 L424.2,388.15 L425.0,388.24 L425.8,388.13 L426.6,388.29 L427.4,387.72 L428.2,387.47 L429.0,387.73 L429.8,387.61 L430.6,388.43 L431.4,387.79 L432.2,388.38 L433.0,387.60 L433.8,388.49 L434.6,388.41 L435.4,388.11 L436.2,387.50 L437.0,387.99 L437.8,387.68 L438.6,388.14 L439.4,387.10 L440.2,387.76 L441.0,387.65 L441.8,387.04 L442.6,388.19 L443.4,388.47 L444.2,387.99 L445.0,387.61 L445.8,388.41 L446.6,387.52 L447.4,388.18 L448.2,388.43 L449.0,387.42 L449.8,387.74 L450.6,388.36 L451.4,387.85 L452.2,388.50 L453.0,387.91 L453.8,388.20 L454.6,388.17 L455.4,388.45 L456.2,388.44 L457.0,387.95 L457.8,387.93 L458.6,387.51 L459.4,387.62 L460.2,388.45 L461.0,388.25 L461.8,388.31 L462.6,387.60 L463.4,387.94 L464.2,388.56 L465.0,387.42 L465.8,387.81 L466.6,387.79 L467.4,388.14 L468.2,387.14 L469.0,388.04 L469.8,388.14 L470.6,388.39 L471.4,388.28 L472.2,388.20 L473.0,388.55 L473.8,388.43 L474.6,387.88 L475.4,388.11 L476.2,387.77 L477.0,387.70 L477.8,387.41 L478.6,387.57 L479.4,388.08 L480.2,387.51 L481.0,387.97 L481.8,387.51 L482.6,388.53 L483.4,387.52 L484.2,387.88 L485.0,388.23 L485.8,388.52 L486.6,388.06 L487.4,386.39 L488.2,387.97 L489.0,388.23 L489.8,388.32 L490.6,387.51 L491.4,387.80 L492.2,388.09 L493.0,388.33 L493.8,387.92 L494.6,388.48 L495.4,388.45 L496.2,386.85 L497.0,388.24 L497.8,388.52 L498.6,387.62 L499.4,388.17 L500.2,386.30 L501,388.6 Z" fill="#2d3382" stroke="#2d3382" stroke-width="1.0" stroke-linejoin="round"/><line x1="102.5" y1="388.6" x2="102.5" y2="373.8" stroke="#2d3382" stroke-width="0.9"/><line x1="122.5" y1="388.6" x2="122.5" y2="384" stroke="#2d3382" stroke-width="0.9"/><line x1="163.8" y1="388.6" x2="163.8" y2="382" stroke="#2d3382" stroke-width="0.9"/><line x1="166.3" y1="388.6" x2="166.3" y2="374.5" stroke="#2d3382" stroke-width="0.9"/><line x1="169.5" y1="388.6" x2="169.5" y2="386" stroke="#2d3382" stroke-width="0.9"/><line x1="174.5" y1="388.6" x2="174.5" y2="368.8" stroke="#2d3382" stroke-width="0.9"/><line x1="188.8" y1="388.6" x2="188.8" y2="381" stroke="#2d3382" stroke-width="0.9"/><line x1="191.8" y1="388.6" x2="191.8" y2="369.3" stroke="#2d3382" stroke-width="0.9"/><line x1="194.3" y1="388.6" x2="194.3" y2="383" stroke="#2d3382" stroke-width="0.9"/><line x1="204.3" y1="388.6" x2="204.3" y2="374.5" stroke="#2d3382" stroke-width="0.9"/><line x1="206.3" y1="388.6" x2="206.3" y2="384" stroke="#2d3382" stroke-width="0.9"/><line x1="213" y1="388.6" x2="213" y2="369.5" stroke="#2d3382" stroke-width="0.9"/><line x1="217.5" y1="388.6" x2="217.5" y2="369.5" stroke="#2d3382" stroke-width="0.9"/><line x1="227" y1="388.6" x2="227" y2="386" stroke="#2d3382" stroke-width="0.9"/><line x1="241.3" y1="388.6" x2="241.3" y2="373.8" stroke="#2d3382" stroke-width="0.9"/><line x1="243" y1="388.6" x2="243" y2="376.3" stroke="#2d3382" stroke-width="0.9"/><line x1="245.5" y1="388.6" x2="245.5" y2="375.5" stroke="#2d3382" stroke-width="0.9"/><line x1="271.3" y1="388.6" x2="271.3" y2="380" stroke="#2d3382" stroke-width="0.9"/><line x1="283" y1="388.6" x2="283" y2="380" stroke="#2d3382" stroke-width="0.9"/><line x1="284.5" y1="388.6" x2="284.5" y2="378.8" stroke="#2d3382" stroke-width="0.9"/><line x1="286.3" y1="388.6" x2="286.3" y2="369.5" stroke="#2d3382" stroke-width="0.9"/><line x1="290" y1="388.6" x2="290" y2="370" stroke="#2d3382" stroke-width="0.9"/><line x1="296.3" y1="388.6" x2="296.3" y2="368.8" stroke="#2d3382" stroke-width="0.9"/><line x1="298" y1="388.6" x2="298" y2="383" stroke="#2d3382" stroke-width="0.9"/><line x1="441.3" y1="388.6" x2="441.3" y2="376.1" stroke="#2d3382" stroke-width="0.9"/><line x1="444.2" y1="388.6" x2="444.2" y2="369.4" stroke="#2d3382" stroke-width="0.9"/><line x1="451.6" y1="388.6" x2="451.6" y2="380.4" stroke="#2d3382" stroke-width="0.9"/><line x1="459" y1="388.6" x2="459" y2="384" stroke="#2d3382" stroke-width="0.9"/><path d="M74.5,411.2 L74.5,410.71 L75.3,409.71 L76.1,410.44 L76.9,410.73 L77.7,409.77 L78.5,409.86 L79.3,410.44 L80.1,409.79 L80.9,410.88 L81.7,410.89 L82.5,411.12 L83.3,410.04 L84.1,409.76 L84.9,410.06 L85.7,410.09 L86.5,410.49 L87.3,410.84 L88.1,410.06 L88.9,410.91 L89.7,410.14 L90.5,410.60 L91.3,409.78 L92.1,410.83 L92.9,409.72 L93.7,410.76 L94.5,411.06 L95.3,410.50 L96.1,408.85 L96.9,410.74 L97.7,409.91 L98.5,410.74 L99.3,410.81 L100.1,410.32 L100.9,409.76 L101.7,411.15 L102.5,410.00 L103.3,409.71 L104.1,410.91 L104.9,410.17 L105.7,410.15 L106.5,410.37 L107.3,409.85 L108.1,410.37 L108.9,410.92 L109.7,410.94 L110.5,410.82 L111.3,409.96 L112.1,409.93 L112.9,410.42 L113.7,410.27 L114.5,411.14 L115.3,410.06 L116.1,409.80 L116.9,409.72 L117.7,410.50 L118.5,410.78 L119.3,411.08 L120.1,410.29 L120.9,409.93 L121.7,410.97 L122.5,411.13 L123.3,410.21 L124.1,410.78 L124.9,411.06 L125.7,410.93 L126.5,410.94 L127.3,409.87 L128.1,411.10 L128.9,410.62 L129.7,408.42 L130.5,409.98 L131.3,410.97 L132.1,409.41 L132.9,409.78 L133.7,410.57 L134.5,410.52 L135.3,411.15 L136.1,409.98 L136.9,410.83 L137.7,410.32 L138.5,410.46 L139.3,410.62 L140.1,409.63 L140.9,411.14 L141.7,409.30 L142.5,410.09 L143.3,410.25 L144.1,410.46 L144.9,409.85 L145.7,409.95 L146.5,410.64 L147.3,410.32 L148.1,410.87 L148.9,410.45 L149.7,410.48 L150.5,410.11 L151.3,410.87 L152.1,411.08 L152.9,410.62 L153.7,411.17 L154.5,410.78 L155.3,409.72 L156.1,410.77 L156.9,410.95 L157.7,410.62 L158.5,410.04 L159.3,411.17 L160.1,410.58 L160.9,409.79 L161.7,409.97 L162.5,411.11 L163.3,410.44 L164.1,409.47 L164.9,410.52 L165.7,410.98 L166.5,410.78 L167.3,410.13 L168.1,410.87 L168.9,410.06 L169.7,410.58 L170.5,410.84 L171.3,410.65 L172.1,409.56 L172.9,410.29 L173.7,409.64 L174.5,410.13 L175.3,410.85 L176.1,410.13 L176.9,409.81 L177.7,410.19 L178.5,410.52 L179.3,411.10 L180.1,410.67 L180.9,410.75 L181.7,410.56 L182.5,410.93 L183.3,410.82 L184.1,410.65 L184.9,410.96 L185.7,410.08 L186.5,409.10 L187.3,410.62 L188.1,409.31 L188.9,410.26 L189.7,410.68 L190.5,411.16 L191.3,409.77 L192.1,410.78 L192.9,410.90 L193.7,410.22 L194.5,410.62 L195.3,409.69 L196.1,410.20 L196.9,410.54 L197.7,410.76 L198.5,409.79 L199.3,409.40 L200.1,410.39 L200.9,410.62 L201.7,410.96 L202.5,410.83 L203.3,409.47 L204.1,410.57 L204.9,410.41 L205.7,410.32 L206.5,410.30 L207.3,409.65 L208.1,410.65 L208.9,410.70 L209.7,410.09 L210.5,409.66 L211.3,410.94 L212.1,410.41 L212.9,410.61 L213.7,410.00 L214.5,410.82 L215.3,410.68 L216.1,410.38 L216.9,411.10 L217.7,411.04 L218.5,411.02 L219.3,409.96 L220.1,410.94 L220.9,409.17 L221.7,410.39 L222.5,410.57 L223.3,410.80 L224.1,410.68 L224.9,409.99 L225.7,409.87 L226.5,410.53 L227.3,410.20 L228.1,409.92 L228.9,410.60 L229.7,410.83 L230.5,411.18 L231.3,409.69 L232.1,410.99 L232.9,410.53 L233.7,410.57 L234.5,407.83 L235.3,410.30 L236.1,410.03 L236.9,411.01 L237.7,411.16 L238.5,410.43 L239.3,410.71 L240.1,409.86 L240.9,410.57 L241.7,409.98 L242.5,410.58 L243.3,410.33 L244.1,410.96 L244.9,411.03 L245.7,410.80 L246.5,411.01 L247.3,411.17 L248.1,410.97 L248.9,410.76 L249.7,410.43 L250.5,410.62 L251.3,409.77 L252.1,411.07 L252.9,410.43 L253.7,410.88 L254.5,410.43 L255.3,409.91 L256.1,411.11 L256.9,410.15 L257.7,410.76 L258.5,409.82 L259.3,410.49 L260.1,410.04 L260.9,411.16 L261.7,411.01 L262.5,410.63 L263.3,410.70 L264.1,411.18 L264.9,408.35 L265.7,409.90 L266.5,410.02 L267.3,409.92 L268.1,409.97 L268.9,411.04 L269.7,410.56 L270.5,410.80 L271.3,411.16 L272.1,410.84 L272.9,410.61 L273.7,409.90 L274.5,410.18 L275.3,410.75 L276.1,410.69 L276.9,410.66 L277.7,410.86 L278.5,410.33 L279.3,410.92 L280.1,410.97 L280.9,409.25 L281.7,410.55 L282.5,410.34 L283.3,410.87 L284.1,410.69 L284.9,411.03 L285.7,410.51 L286.5,410.85 L287.3,410.07 L288.1,410.76 L288.9,409.68 L289.7,410.91 L290.5,409.62 L291.3,410.18 L292.1,410.17 L292.9,410.21 L293.7,409.83 L294.5,410.39 L295.3,411.02 L296.1,410.10 L296.9,410.14 L297.7,410.58 L298.5,410.24 L299.3,408.81 L300.1,410.49 L300.9,410.25 L301.7,410.96 L302.5,409.61 L303.3,410.70 L304.1,409.62 L304.9,409.81 L305.7,409.62 L306.5,410.83 L307.3,410.16 L308.1,409.87 L308.9,410.38 L309.7,411.10 L310.5,410.06 L311.3,409.91 L312.1,410.34 L312.9,410.89 L313.7,410.17 L314.5,410.31 L315.3,410.41 L316.1,409.92 L316.9,409.97 L317.7,409.75 L318.5,410.96 L319.3,410.17 L320.1,409.82 L320.9,411.01 L321.7,410.58 L322.5,410.21 L323.3,411.08 L324.1,410.87 L324.9,409.80 L325.7,410.88 L326.5,409.66 L327.3,410.70 L328.1,410.75 L328.9,410.09 L329.7,411.00 L330.5,410.45 L331.3,411.01 L332.1,410.22 L332.9,410.89 L333.7,410.09 L334.5,410.62 L335.3,410.55 L336.1,410.19 L336.9,409.89 L337.7,410.47 L338.5,409.69 L339.3,410.07 L340.1,410.27 L340.9,409.80 L341.7,409.83 L342.5,410.47 L343.3,410.58 L344.1,410.24 L344.9,411.10 L345.7,410.75 L346.5,409.67 L347.3,410.09 L348.1,410.81 L348.9,410.99 L349.7,410.80 L350.5,410.65 L351.3,409.84 L352.1,410.33 L352.9,409.77 L353.7,410.62 L354.5,410.04 L355.3,410.65 L356.1,408.10 L356.9,410.45 L357.7,410.46 L358.5,410.13 L359.3,409.65 L360.1,409.61 L360.9,409.87 L361.7,410.08 L362.5,411.09 L363.3,410.56 L364.1,410.85 L364.9,410.86 L365.7,410.97 L366.5,410.01 L367.3,410.93 L368.1,410.20 L368.9,410.79 L369.7,410.03 L370.5,411.01 L371.3,411.17 L372.1,409.69 L372.9,411.16 L373.7,410.34 L374.5,411.02 L375.3,410.72 L376.1,411.00 L376.9,410.99 L377.7,410.38 L378.5,409.96 L379.3,409.99 L380.1,410.48 L380.9,410.46 L381.7,411.03 L382.5,410.95 L383.3,410.36 L384.1,410.22 L384.9,409.66 L385.7,411.18 L386.5,409.89 L387.3,410.06 L388.1,410.07 L388.9,410.72 L389.7,410.17 L390.5,411.13 L391.3,411.07 L392.1,411.02 L392.9,410.67 L393.7,410.15 L394.5,409.69 L395.3,410.40 L396.1,410.57 L396.9,410.02 L397.7,410.61 L398.5,410.44 L399.3,410.51 L400.1,411.12 L400.9,411.10 L401.7,410.32 L402.5,410.84 L403.3,410.60 L404.1,410.43 L404.9,410.00 L405.7,411.19 L406.5,408.17 L407.3,409.66 L408.1,410.24 L408.9,410.72 L409.7,410.26 L410.5,410.40 L411.3,409.76 L412.1,410.80 L412.9,409.93 L413.7,409.82 L414.5,410.74 L415.3,411.06 L416.1,409.87 L416.9,410.69 L417.7,409.94 L418.5,411.11 L419.3,411.12 L420.1,410.32 L420.9,407.84 L421.7,410.00 L422.5,411.19 L423.3,410.53 L424.1,409.63 L424.9,411.08 L425.7,410.50 L426.5,410.60 L427.3,410.50 L428.1,410.69 L428.9,411.09 L429.7,409.87 L430.5,410.32 L431.3,411.01 L432.1,409.67 L432.9,409.72 L433.7,410.54 L434.5,409.86 L435.3,409.80 L436.1,411.15 L436.9,410.60 L437.7,409.71 L438.5,410.10 L439.3,409.95 L440.1,410.01 L440.9,410.26 L441.7,410.65 L442.5,410.64 L443.3,410.37 L444.1,410.28 L444.9,410.63 L445.7,410.43 L446.5,410.68 L447.3,410.83 L448.1,410.03 L448.9,410.79 L449.7,409.88 L450.5,410.05 L451.3,410.21 L452.1,409.64 L452.9,410.47 L453.7,410.83 L454.5,411.04 L455.3,408.10 L456.1,410.29 L456.9,410.67 L457.7,409.68 L458.5,409.91 L459.3,409.95 L460.1,410.88 L460.9,410.22 L461.7,409.98 L462.5,409.76 L463.3,410.10 L464.1,409.68 L464.9,410.73 L465.7,410.04 L466.5,409.46 L467.3,410.79 L468.1,410.80 L468.9,410.42 L469.7,410.74 L470.5,410.39 L471.3,410.94 L472.1,409.83 L472.9,410.33 L473.7,410.34 L474.5,411.2 Z" fill="#cc1a1e" stroke="#cc1a1e" stroke-width="1.6" stroke-linejoin="round"/><line x1="102.5" y1="411.2" x2="102.5" y2="395" stroke="#cc1a1e" stroke-width="0.9"/><line x1="103.5" y1="411.2" x2="103.5" y2="398" stroke="#cc1a1e" stroke-width="0.9"/><line x1="122.5" y1="411.2" x2="122.5" y2="405" stroke="#cc1a1e" stroke-width="0.9"/><line x1="163" y1="411.2" x2="163" y2="405" stroke="#cc1a1e" stroke-width="0.9"/><line x1="165.8" y1="411.2" x2="165.8" y2="399.5" stroke="#cc1a1e" stroke-width="0.9"/><line x1="169.3" y1="411.2" x2="169.3" y2="405" stroke="#cc1a1e" stroke-width="0.9"/><line x1="174.3" y1="411.2" x2="174.3" y2="395.5" stroke="#cc1a1e" stroke-width="0.9"/><line x1="188.3" y1="411.2" x2="188.3" y2="402.5" stroke="#cc1a1e" stroke-width="0.9"/><line x1="191.3" y1="411.2" x2="191.3" y2="397" stroke="#cc1a1e" stroke-width="0.9"/><line x1="194.3" y1="411.2" x2="194.3" y2="405.8" stroke="#cc1a1e" stroke-width="0.9"/><line x1="204.3" y1="411.2" x2="204.3" y2="408" stroke="#cc1a1e" stroke-width="0.9"/><line x1="206.3" y1="411.2" x2="206.3" y2="408" stroke="#cc1a1e" stroke-width="0.9"/><line x1="213" y1="411.2" x2="213" y2="395" stroke="#cc1a1e" stroke-width="0.9"/><line x1="215" y1="411.2" x2="215" y2="405" stroke="#cc1a1e" stroke-width="0.9"/><line x1="217" y1="411.2" x2="217" y2="407" stroke="#cc1a1e" stroke-width="0.9"/><line x1="241.8" y1="411.2" x2="241.8" y2="392.5" stroke="#cc1a1e" stroke-width="0.9"/><line x1="245.5" y1="411.2" x2="245.5" y2="408.3" stroke="#cc1a1e" stroke-width="0.9"/><line x1="272" y1="411.2" x2="272" y2="405" stroke="#cc1a1e" stroke-width="0.9"/><line x1="286.3" y1="411.2" x2="286.3" y2="397" stroke="#cc1a1e" stroke-width="0.9"/><line x1="290.5" y1="411.2" x2="290.5" y2="398.8" stroke="#cc1a1e" stroke-width="0.9"/><line x1="296.8" y1="411.2" x2="296.8" y2="394.3" stroke="#cc1a1e" stroke-width="0.9"/><line x1="363.3" y1="411.2" x2="363.3" y2="407.5" stroke="#cc1a1e" stroke-width="0.9"/><line x1="439.6" y1="411.2" x2="439.6" y2="405" stroke="#cc1a1e" stroke-width="0.9"/><line x1="441.7" y1="411.2" x2="441.7" y2="395.2" stroke="#cc1a1e" stroke-width="0.9"/><line x1="444.5" y1="411.2" x2="444.5" y2="390.5" stroke="#cc1a1e" stroke-width="0.9"/><line x1="451.9" y1="411.2" x2="451.9" y2="390.5" stroke="#cc1a1e" stroke-width="0.9"/><line x1="462.4" y1="411.2" x2="462.4" y2="405.3" stroke="#cc1a1e" stroke-width="0.9"/><path d="M85,435.2 L85.0,434.37 L85.8,432.62 L86.6,434.87 L87.4,434.99 L88.2,434.87 L89.0,434.35 L89.8,434.69 L90.6,434.99 L91.4,435.10 L92.2,434.61 L93.0,434.39 L93.8,434.69 L94.6,434.31 L95.4,434.42 L96.2,434.60 L97.0,435.17 L97.8,434.32 L98.6,434.43 L99.4,434.73 L100.2,434.73 L101.0,434.73 L101.8,434.75 L102.6,434.57 L103.4,434.76 L104.2,434.76 L105.0,434.32 L105.8,435.08 L106.6,434.90 L107.4,434.36 L108.2,434.35 L109.0,434.43 L109.8,435.18 L110.6,434.67 L111.4,434.65 L112.2,434.36 L113.0,434.73 L113.8,435.17 L114.6,434.42 L115.4,433.10 L116.2,434.58 L117.0,434.68 L117.8,434.30 L118.6,434.49 L119.4,434.45 L120.2,434.90 L121.0,435.19 L121.8,434.96 L122.6,434.73 L123.4,434.59 L124.2,434.99 L125.0,435.04 L125.8,434.97 L126.6,434.49 L127.4,434.99 L128.2,434.97 L129.0,434.97 L129.8,435.03 L130.6,434.93 L131.4,434.55 L132.2,434.49 L133.0,435.13 L133.8,434.98 L134.6,434.83 L135.4,434.87 L136.2,434.38 L137.0,434.85 L137.8,434.49 L138.6,434.90 L139.4,434.86 L140.2,434.67 L141.0,434.77 L141.8,435.19 L142.6,434.86 L143.4,434.38 L144.2,435.01 L145.0,434.34 L145.8,434.89 L146.6,435.07 L147.4,434.35 L148.2,435.08 L149.0,434.41 L149.8,434.35 L150.6,434.86 L151.4,434.95 L152.2,435.14 L153.0,434.12 L153.8,435.04 L154.6,434.73 L155.4,434.69 L156.2,434.73 L157.0,435.13 L157.8,435.13 L158.6,434.52 L159.4,434.75 L160.2,434.90 L161.0,434.94 L161.8,434.32 L162.6,434.66 L163.4,434.78 L164.2,434.35 L165.0,435.18 L165.8,434.43 L166.6,435.04 L167.4,434.46 L168.2,434.48 L169.0,434.61 L169.8,434.27 L170.6,435.16 L171.4,434.64 L172.2,434.77 L173.0,434.91 L173.8,434.40 L174.6,434.82 L175.4,434.79 L176.2,434.38 L177.0,434.36 L177.8,434.41 L178.6,434.74 L179.4,434.94 L180.2,434.55 L181.0,434.67 L181.8,434.35 L182.6,435.11 L183.4,434.89 L184.2,434.75 L185.0,434.74 L185.8,435.20 L186.6,434.96 L187.4,434.63 L188.2,435.12 L189.0,434.77 L189.8,434.33 L190.6,434.80 L191.4,434.48 L192.2,434.45 L193.0,434.97 L193.8,434.75 L194.6,434.70 L195.4,434.76 L196.2,434.94 L197.0,434.75 L197.8,435.02 L198.6,434.45 L199.4,434.32 L200.2,434.58 L201.0,434.56 L201.8,434.48 L202.6,434.47 L203.4,434.98 L204.2,435.18 L205.0,434.89 L205.8,434.65 L206.6,434.36 L207.4,435.14 L208.2,435.10 L209.0,434.42 L209.8,435.03 L210.6,434.52 L211.4,434.64 L212.2,432.38 L213.0,434.51 L213.8,434.41 L214.6,434.35 L215.4,434.76 L216.2,434.48 L217.0,434.48 L217.8,434.61 L218.6,434.57 L219.4,434.92 L220.2,435.03 L221.0,434.58 L221.8,434.90 L222.6,434.38 L223.4,434.34 L224.2,434.33 L225.0,434.90 L225.8,434.73 L226.6,435.17 L227.4,434.72 L228.2,434.53 L229.0,435.02 L229.8,434.98 L230.6,434.25 L231.4,434.73 L232.2,434.62 L233.0,434.83 L233.8,434.77 L234.6,435.09 L235.4,434.58 L236.2,434.70 L237.0,434.36 L237.8,434.97 L238.6,434.30 L239.4,435.03 L240.2,435.15 L241.0,434.70 L241.8,434.55 L242.6,434.91 L243.4,434.62 L244.2,434.79 L245.0,435.10 L245.8,434.34 L246.6,435.15 L247.4,434.96 L248.2,434.81 L249.0,434.82 L249.8,434.53 L250.6,434.62 L251.4,432.87 L252.2,433.90 L253.0,435.18 L253.8,434.85 L254.6,435.10 L255.4,434.43 L256.2,434.67 L257.0,434.31 L257.8,434.93 L258.6,434.42 L259.4,434.83 L260.2,434.40 L261.0,434.49 L261.8,434.80 L262.6,434.81 L263.4,434.92 L264.2,434.83 L265.0,434.50 L265.8,434.77 L266.6,434.79 L267.4,434.39 L268.2,434.49 L269.0,434.60 L269.8,434.93 L270.6,434.35 L271.4,434.60 L272.2,434.61 L273.0,434.51 L273.8,434.32 L274.6,433.52 L275.4,434.51 L276.2,434.65 L277.0,434.84 L277.8,435.02 L278.6,435.15 L279.4,434.46 L280.2,434.85 L281.0,434.56 L281.8,434.53 L282.6,434.97 L283.4,434.69 L284.2,434.31 L285.0,434.50 L285.8,434.55 L286.6,434.95 L287.4,434.72 L288.2,435.05 L289.0,434.40 L289.8,434.94 L290.6,434.82 L291.4,434.65 L292.2,434.72 L293.0,434.69 L293.8,434.88 L294.6,435.13 L295.4,434.58 L296.2,434.45 L297.0,434.95 L297.8,433.78 L298.6,434.61 L299.4,434.92 L300.2,434.36 L301.0,435.04 L301.8,435.12 L302.6,434.53 L303.4,434.76 L304.2,435.17 L305.0,434.43 L305.8,434.57 L306.6,434.90 L307.4,435.00 L308.2,434.92 L309.0,434.47 L309.8,434.65 L310.6,435.00 L311.4,434.64 L312.2,434.33 L313.0,434.80 L313.8,434.46 L314.6,434.59 L315.4,434.88 L316.2,435.01 L317.0,434.41 L317.8,434.87 L318.6,432.81 L319.4,435.14 L320.2,434.71 L321.0,434.23 L321.8,434.31 L322.6,434.42 L323.4,433.37 L324.2,435.04 L325.0,434.60 L325.8,434.91 L326.6,434.94 L327.4,434.88 L328.2,434.98 L329.0,434.19 L329.8,434.67 L330.6,435.10 L331.4,434.78 L332.2,434.92 L333.0,434.52 L333.8,434.61 L334.6,434.75 L335.4,434.85 L336.2,434.78 L337.0,434.72 L337.8,434.40 L338.6,435.18 L339.4,435.17 L340.2,434.64 L341.0,435.03 L341.8,434.45 L342.6,434.58 L343.4,434.79 L344.2,434.70 L345.0,434.31 L345.8,434.45 L346.6,434.98 L347.4,434.71 L348.2,434.92 L349.0,434.73 L349.8,435.13 L350.6,435.19 L351.4,434.85 L352.2,435.10 L353.0,434.35 L353.8,434.51 L354.6,434.68 L355.4,434.78 L356.2,434.59 L357.0,434.80 L357.8,434.90 L358.6,434.08 L359.4,434.61 L360.2,435.13 L361.0,434.90 L361.8,434.70 L362.6,434.63 L363.4,434.47 L364.2,434.43 L365.0,434.48 L365.8,434.61 L366.6,434.77 L367.4,434.91 L368.2,434.45 L369.0,434.63 L369.8,432.95 L370.6,434.86 L371.4,434.97 L372.2,435.03 L373.0,434.33 L373.8,434.95 L374.6,434.59 L375.4,435.03 L376.2,434.94 L377.0,434.57 L377.8,434.60 L378.6,434.86 L379.4,433.53 L380.2,434.85 L381.0,432.70 L381.8,434.87 L382.6,435.07 L383.4,434.38 L384.2,434.75 L385.0,434.51 L385.8,434.99 L386.6,434.55 L387.4,433.95 L388.2,434.78 L389.0,434.64 L389.8,434.52 L390.6,435.15 L391.4,435.07 L392.2,432.97 L393.0,434.86 L393.8,435.16 L394.6,434.66 L395.4,435.17 L396.2,434.94 L397.0,435.10 L397.8,434.62 L398.6,435.05 L399.4,434.86 L400.2,434.69 L401.0,434.85 L401.8,435.16 L402.6,435.03 L403.4,435.19 L404.2,434.67 L405.0,434.71 L405.8,435.08 L406.6,434.56 L407.4,434.56 L408.2,435.16 L409.0,434.94 L409.8,434.49 L410.6,434.37 L411.4,434.85 L412.2,434.51 L413.0,434.32 L413.8,434.42 L414.6,434.66 L415.4,434.39 L416.2,434.40 L417.0,434.44 L417.8,434.34 L418.6,434.84 L419.4,435.08 L420.2,435.14 L421.0,434.95 L421.8,434.65 L422.6,434.80 L423.4,434.31 L424.2,434.87 L425.0,435.03 L425.8,435.02 L426.6,434.89 L427.4,435.20 L428.2,434.95 L429.0,434.63 L429.8,434.56 L430.6,434.77 L431.4,434.43 L432.2,434.82 L433.0,434.84 L433.8,434.53 L434.6,434.58 L435.4,434.50 L436.2,435.02 L437.0,434.02 L437.8,435.04 L438.6,434.68 L439.4,434.08 L440.2,435.17 L441.0,434.46 L441.8,434.71 L442.6,434.87 L443.4,434.05 L444.2,435.17 L445.0,435.14 L445.8,435.08 L446.6,434.46 L447.4,435.09 L448.2,434.54 L449.0,434.70 L449.8,434.42 L450.6,434.32 L451.4,434.50 L452.2,433.59 L453.0,434.96 L453.8,434.74 L454.6,435.15 L455.4,434.65 L456.2,434.31 L457.0,434.94 L457.8,434.74 L458.6,434.84 L459.4,434.76 L460.2,434.77 L461.0,433.30 L461.8,435.13 L462.6,435.06 L463.4,434.82 L464.2,434.51 L465.0,434.93 L465.8,434.40 L466.6,435.19 L467.4,434.77 L468.2,435.08 L469.0,434.53 L469.8,434.59 L470.6,434.80 L471.4,435.15 L472.2,434.90 L473.0,434.50 L473.8,435.17 L474.6,434.78 L475.4,434.49 L476.2,435.16 L477.0,434.78 L477.8,434.37 L478.6,434.62 L479.4,434.37 L480.2,434.64 L481.0,434.55 L481.8,433.22 L482.6,435.07 L483.4,434.34 L484.2,434.98 L485.0,434.91 L485.8,434.53 L486.6,434.90 L487.4,434.57 L488.2,434.78 L489.0,435.11 L489.8,434.46 L490.6,434.62 L491.4,434.87 L492.2,434.32 L493.0,435.08 L493.8,434.66 L494.6,434.51 L495.4,434.41 L496.2,434.83 L497.0,434.86 L497.8,434.87 L498.6,434.88 L499.4,434.44 L500,435.2 Z" fill="#4a8a3a" stroke="#4a8a3a" stroke-width="0.8" stroke-linejoin="round"/><line x1="102.5" y1="435.2" x2="102.5" y2="416.3" stroke="#4a8a3a" stroke-width="0.8"/><line x1="122.5" y1="435.2" x2="122.5" y2="430" stroke="#4a8a3a" stroke-width="0.8"/><line x1="127.5" y1="435.2" x2="127.5" y2="431" stroke="#4a8a3a" stroke-width="0.8"/><line x1="163" y1="435.2" x2="163" y2="416.3" stroke="#4a8a3a" stroke-width="0.8"/><line x1="166.3" y1="435.2" x2="166.3" y2="416.3" stroke="#4a8a3a" stroke-width="0.8"/><line x1="169.5" y1="435.2" x2="169.5" y2="418.8" stroke="#4a8a3a" stroke-width="0.8"/><line x1="174.5" y1="435.2" x2="174.5" y2="417.5" stroke="#4a8a3a" stroke-width="0.8"/><line x1="188.8" y1="435.2" x2="188.8" y2="426.3" stroke="#4a8a3a" stroke-width="0.8"/><line x1="191.3" y1="435.2" x2="191.3" y2="416.3" stroke="#4a8a3a" stroke-width="0.8"/><line x1="193.8" y1="435.2" x2="193.8" y2="416.3" stroke="#4a8a3a" stroke-width="0.8"/><line x1="204.3" y1="435.2" x2="204.3" y2="418.8" stroke="#4a8a3a" stroke-width="0.8"/><line x1="206.3" y1="435.2" x2="206.3" y2="420.5" stroke="#4a8a3a" stroke-width="0.8"/><line x1="213" y1="435.2" x2="213" y2="416.3" stroke="#4a8a3a" stroke-width="0.8"/><line x1="215" y1="435.2" x2="215" y2="418.8" stroke="#4a8a3a" stroke-width="0.8"/><line x1="218" y1="435.2" x2="218" y2="428" stroke="#4a8a3a" stroke-width="0.8"/><line x1="219" y1="435.2" x2="219" y2="428" stroke="#4a8a3a" stroke-width="0.8"/><line x1="237.5" y1="435.2" x2="237.5" y2="432" stroke="#4a8a3a" stroke-width="0.8"/><line x1="241.8" y1="435.2" x2="241.8" y2="416.3" stroke="#4a8a3a" stroke-width="0.8"/><line x1="245.5" y1="435.2" x2="245.5" y2="416.3" stroke="#4a8a3a" stroke-width="0.8"/><line x1="255" y1="435.2" x2="255" y2="429" stroke="#4a8a3a" stroke-width="0.8"/><line x1="272" y1="435.2" x2="272" y2="428" stroke="#4a8a3a" stroke-width="0.8"/><line x1="275" y1="435.2" x2="275" y2="431" stroke="#4a8a3a" stroke-width="0.8"/><line x1="284.5" y1="435.2" x2="284.5" y2="417.5" stroke="#4a8a3a" stroke-width="0.8"/><line x1="286.3" y1="435.2" x2="286.3" y2="416.3" stroke="#4a8a3a" stroke-width="0.8"/><line x1="290" y1="435.2" x2="290" y2="416.3" stroke="#4a8a3a" stroke-width="0.8"/><line x1="296.3" y1="435.2" x2="296.3" y2="416.3" stroke="#4a8a3a" stroke-width="0.8"/><line x1="299.3" y1="435.2" x2="299.3" y2="430" stroke="#4a8a3a" stroke-width="0.8"/><line x1="420" y1="435.2" x2="420" y2="417.4" stroke="#4a8a3a" stroke-width="0.8"/><line x1="439.6" y1="435.2" x2="439.6" y2="425.8" stroke="#4a8a3a" stroke-width="0.8"/><line x1="441.3" y1="435.2" x2="441.3" y2="416.3" stroke="#4a8a3a" stroke-width="0.8"/><line x1="443" y1="435.2" x2="443" y2="416.3" stroke="#4a8a3a" stroke-width="0.8"/><line x1="444.5" y1="435.2" x2="444.5" y2="416.3" stroke="#4a8a3a" stroke-width="0.8"/><line x1="451.9" y1="435.2" x2="451.9" y2="416.3" stroke="#4a8a3a" stroke-width="0.8"/><line x1="462.4" y1="435.2" x2="462.4" y2="426.9" stroke="#4a8a3a" stroke-width="0.8"/><rect x="207.9" y="205" width="9.20" height="230.7" fill="#bdbdbd" fill-opacity="0.41"/><rect x="285.5" y="205" width="8.70" height="230.7" fill="#bdbdbd" fill-opacity="0.41"/><text x="213.30" y="443.15" font-size="8.2" text-anchor="middle" fill="#1a1a1a" stroke="#1a1a1a" stroke-width="0.1" textLength="15.4" lengthAdjust="spacingAndGlyphs">TAD</text><text x="212.00" y="453.15" font-size="8.2" text-anchor="middle" fill="#1a1a1a" stroke="#1a1a1a" stroke-width="0.1" textLength="25.1" lengthAdjust="spacingAndGlyphs">Border</text><text x="288.20" y="443.15" font-size="8.2" text-anchor="middle" fill="#1a1a1a" stroke="#1a1a1a" stroke-width="0.1" textLength="15.7" lengthAdjust="spacingAndGlyphs">TAD</text><text x="287.90" y="453.15" font-size="8.2" text-anchor="middle" fill="#1a1a1a" stroke="#1a1a1a" stroke-width="0.1" textLength="24.3" lengthAdjust="spacingAndGlyphs">Border</text><rect x="233.1" y="512.7" width="22.8" height="196" fill="#8f8f8f"/><path d="M343.5 626.2h1v1h-1zM296.8 576.0h1v1h-1zM379.3 556.8h1v1h-1zM167.4 698.7h1v1h-1zM243.1 663.1h1v1h-1zM258.5 664.2h1v1h-1zM283.3 673.1h1v1h-1zM363.8 682.1h1v1h-1zM239.0 645.2h1v1h-1zM347.2 637.7h1v1h-1zM404.2 590.3h1v1h-1zM438.3 700.8h1v1h-1zM406.5 668.4h1v1h-1zM288.9 596.0h1v1h-1zM418.1 629.4h1v1h-1zM234.1 702.8h1v1h-1zM300.4 630.0h1v1h-1zM404.0 526.7h1v1h-1zM285.7 684.7h1v1h-1zM288.4 582.0h1v1h-1zM168.6 653.7h1v1h-1zM235.2 652.2h1v1h-1zM318.3 631.0h1v1h-1zM152.0 700.9h1v1h-1zM429.4 671.7h1v1h-1zM376.2 615.3h1v1h-1zM411.8 624.2h1v1h-1zM167.2 705.9h1v1h-1zM201.6 704.0h1v1h-1zM360.0 608.9h1v1h-1zM170.0 669.3h1v1h-1zM403.1 646.4h1v1h-1zM301.0 568.1h1v1h-1zM326.0 572.0h1v1h-1zM198.0 674.1h1v1h-1zM208.2 676.5h1v1h-1zM435.1 668.7h1v1h-1zM234.1 700.1h1v1h-1zM180.7 649.2h1v1h-1zM288.6 661.7h1v1h-1zM347.6 571.0h1v1h-1zM393.8 547.4h1v1h-1zM219.4 652.4h1v1h-1zM400.4 681.7h1v1h-1zM183.8 696.6h1v1h-1zM394.2 546.7h1v1h-1zM280.7 685.0h1v1h-1zM204.6 706.1h1v1h-1zM363.8 603.5h1v1h-1zM226.9 697.3h1v1h-1zM403.3 651.3h1v1h-1zM335.6 661.0h1v1h-1zM347.7 625.4h1v1h-1zM254.2 660.0h1v1h-1zM445.4 682.9h1v1h-1zM398.3 696.7h1v1h-1zM372.4 622.5h1v1h-1zM237.3 596.3h1v1h-1zM330.8 594.0h1v1h-1zM305.1 621.9h1v1h-1zM332.4 601.4h1v1h-1zM340.7 573.5h1v1h-1zM355.8 655.2h1v1h-1zM193.2 636.4h1v1h-1zM325.0 585.4h1v1h-1zM351.6 534.0h1v1h-1zM326.7 656.0h1v1h-1zM320.6 677.8h1v1h-1zM273.8 663.0h1v1h-1zM278.2 661.4h1v1h-1zM407.2 706.4h1v1h-1zM367.5 597.0h1v1h-1zM310.3 553.6h1v1h-1zM165.6 647.6h1v1h-1zM154.9 697.7h1v1h-1zM334.1 647.8h1v1h-1zM297.7 605.6h1v1h-1zM242.6 596.1h1v1h-1zM152.6 580.5h1v1h-1zM237.2 664.5h1v1h-1zM146.3 670.9h1v1h-1zM332.1 607.9h1v1h-1zM191.2 705.5h1v1h-1zM272.7 624.3h1v1h-1zM313.7 674.4h1v1h-1zM278.9 569.2h1v1h-1zM315.5 612.9h1v1h-1zM385.3 644.0h1v1h-1zM223.0 690.9h1v1h-1zM221.8 686.7h1v1h-1zM169.3 636.7h1v1h-1zM406.1 599.3h1v1h-1zM330.9 593.7h1v1h-1zM268.3 660.4h1v1h-1zM255.5 607.8h1v1h-1zM352.1 663.0h1v1h-1zM317.6 547.0h1v1h-1zM338.8 580.3h1v1h-1zM359.6 528.6h1v1h-1zM264.7 514.1h1v1h-1zM292.3 665.8h1v1h-1zM445.8 653.2h1v1h-1zM387.0 583.9h1v1h-1zM339.4 706.6h1v1h-1zM260.3 662.7h1v1h-1zM187.4 679.4h1v1h-1zM392.0 558.5h1v1h-1zM227.2 676.0h1v1h-1zM215.2 652.7h1v1h-1zM348.2 701.0h1v1h-1zM196.0 700.3h1v1h-1zM425.5 633.4h1v1h-1zM187.9 567.5h1v1h-1zM150.1 664.3h1v1h-1zM390.2 672.0h1v1h-1zM295.9 527.6h1v1h-1zM334.2 683.6h1v1h-1zM408.1 678.7h1v1h-1zM221.6 620.1h1v1h-1zM448.1 692.9h1v1h-1zM167.4 631.4h1v1h-1zM320.9 694.8h1v1h-1zM317.0 673.0h1v1h-1zM228.9 579.1h1v1h-1zM246.8 669.6h1v1h-1zM418.5 675.7h1v1h-1zM223.9 631.5h1v1h-1zM210.5 696.2h1v1h-1zM283.7 688.4h1v1h-1zM216.0 702.9h1v1h-1zM295.3 690.6h1v1h-1zM351.6 699.4h1v1h-1zM150.7 689.3h1v1h-1zM208.3 524.3h1v1h-1zM336.2 605.8h1v1h-1zM219.2 597.1h1v1h-1zM260.2 611.4h1v1h-1zM342.3 650.2h1v1h-1zM298.0 701.4h1v1h-1zM271.1 637.1h1v1h-1zM406.7 707.6h1v1h-1zM321.1 643.6h1v1h-1zM336.3 679.9h1v1h-1zM267.8 692.3h1v1h-1zM280.3 674.0h1v1h-1zM338.4 591.7h1v1h-1zM262.6 692.5h1v1h-1zM167.1 611.3h1v1h-1zM287.4 640.9h1v1h-1zM330.6 690.6h1v1h-1zM156.2 682.7h1v1h-1zM320.7 704.4h1v1h-1zM431.1 623.2h1v1h-1zM271.6 704.1h1v1h-1zM206.9 672.8h1v1h-1zM341.5 619.5h1v1h-1zM208.5 632.9h1v1h-1zM161.4 700.3h1v1h-1zM385.5 618.0h1v1h-1zM245.5 606.8h1v1h-1zM266.8 538.7h1v1h-1zM389.7 624.2h1v1h-1zM353.0 674.1h1v1h-1zM274.5 596.2h1v1h-1zM335.7 641.6h1v1h-1zM447.5 634.4h1v1h-1zM427.0 701.3h1v1h-1zM293.1 673.2h1v1h-1zM319.1 660.1h1v1h-1zM350.6 556.6h1v1h-1zM382.9 580.5h1v1h-1zM298.3 545.6h1v1h-1zM214.2 694.4h1v1h-1zM263.4 677.9h1v1h-1zM338.2 649.9h1v1h-1zM421.4 693.0h1v1h-1zM372.3 697.5h1v1h-1zM178.9 685.0h1v1h-1zM288.3 565.4h1v1h-1zM311.0 585.7h1v1h-1zM311.2 666.8h1v1h-1zM320.2 699.4h1v1h-1zM148.4 650.8h1v1h-1zM148.4 667.9h1v1h-1zM148.3 697.6h1v1h-1zM210.8 686.7h1v1h-1zM230.2 648.0h1v1h-1zM379.5 700.5h1v1h-1zM379.5 664.2h1v1h-1zM389.1 592.3h1v1h-1zM334.1 687.9h1v1h-1zM333.6 551.5h1v1h-1zM333.6 632.3h1v1h-1zM334.0 597.7h1v1h-1zM144.8 692.8h1v1h-1zM412.1 692.9h1v1h-1zM210.5 662.7h1v1h-1zM210.3 679.4h1v1h-1zM445.7 689.1h1v1h-1zM445.8 675.5h1v1h-1zM309.6 610.9h1v1h-1zM352.1 663.9h1v1h-1zM236.3 695.9h1v1h-1zM236.2 629.2h1v1h-1zM236.0 659.5h1v1h-1zM188.9 665.6h1v1h-1zM237.0 674.7h1v1h-1zM145.5 642.8h1v1h-1zM292.2 616.6h1v1h-1zM292.2 672.8h1v1h-1zM292.3 670.6h1v1h-1zM292.2 660.2h1v1h-1zM360.8 706.4h1v1h-1zM360.7 706.2h1v1h-1zM161.8 662.9h1v1h-1zM151.5 702.6h1v1h-1zM374.7 670.3h1v1h-1zM150.0 660.0h1v1h-1zM256.8 682.8h1v1h-1zM256.6 593.9h1v1h-1zM321.9 690.1h1v1h-1zM147.3 693.7h1v1h-1zM147.1 699.4h1v1h-1zM199.9 677.4h1v1h-1z" fill="#a08088" fill-opacity="0.6"/><path d="M269.4 692.9h1v1h-1zM354.6 636.0h1v1h-1zM431.8 651.9h1v1h-1zM339.3 654.2h1v1h-1zM203.8 698.5h1v1h-1zM192.9 609.4h1v1h-1zM264.2 663.5h1v1h-1zM398.9 609.8h1v1h-1zM401.3 629.3h1v1h-1zM291.4 515.9h1v1h-1zM370.7 583.5h1v1h-1zM360.5 542.8h1v1h-1zM229.3 684.1h1v1h-1zM366.7 653.2h1v1h-1zM250.9 637.5h1v1h-1zM222.8 601.4h1v1h-1zM168.6 708.0h1v1h-1zM178.1 678.0h1v1h-1zM358.5 631.4h1v1h-1zM302.1 659.2h1v1h-1zM399.9 651.9h1v1h-1zM305.7 564.9h1v1h-1zM340.6 668.4h1v1h-1zM334.9 656.2h1v1h-1zM445.8 673.0h1v1h-1zM179.1 673.2h1v1h-1zM317.6 626.3h1v1h-1zM183.6 577.6h1v1h-1zM264.1 625.2h1v1h-1zM384.8 667.4h1v1h-1zM403.5 614.3h1v1h-1zM358.8 692.1h1v1h-1zM352.2 655.9h1v1h-1zM388.8 676.7h1v1h-1zM234.5 548.3h1v1h-1zM295.3 678.8h1v1h-1zM315.9 617.2h1v1h-1zM145.8 689.4h1v1h-1zM241.0 679.2h1v1h-1zM451.0 699.6h1v1h-1zM411.6 640.1h1v1h-1zM250.2 526.5h1v1h-1zM408.1 638.7h1v1h-1zM219.0 627.5h1v1h-1zM299.5 702.8h1v1h-1zM387.5 603.0h1v1h-1zM183.2 680.9h1v1h-1zM343.2 589.0h1v1h-1zM301.0 651.4h1v1h-1zM279.5 665.4h1v1h-1zM374.5 612.4h1v1h-1zM186.7 646.5h1v1h-1zM256.7 644.0h1v1h-1zM233.0 599.1h1v1h-1zM243.7 678.0h1v1h-1zM312.9 521.4h1v1h-1zM354.2 568.6h1v1h-1zM149.2 677.3h1v1h-1zM183.2 702.6h1v1h-1zM323.3 561.7h1v1h-1zM388.9 537.4h1v1h-1zM236.0 541.7h1v1h-1zM285.7 670.4h1v1h-1zM192.4 667.0h1v1h-1zM188.8 706.9h1v1h-1zM150.7 663.9h1v1h-1zM319.0 577.8h1v1h-1zM421.4 622.8h1v1h-1zM250.0 661.6h1v1h-1zM244.8 665.3h1v1h-1zM247.3 671.2h1v1h-1zM164.8 704.0h1v1h-1zM368.2 561.8h1v1h-1zM152.9 528.9h1v1h-1zM209.7 685.0h1v1h-1zM198.8 672.3h1v1h-1zM319.4 609.0h1v1h-1zM175.9 679.3h1v1h-1zM145.3 695.2h1v1h-1zM253.8 578.2h1v1h-1zM185.3 702.9h1v1h-1zM421.4 662.4h1v1h-1zM187.8 655.4h1v1h-1zM369.5 597.5h1v1h-1zM189.4 706.8h1v1h-1zM283.8 596.4h1v1h-1zM440.1 677.4h1v1h-1zM348.0 570.5h1v1h-1zM390.9 659.8h1v1h-1zM386.7 682.0h1v1h-1zM367.8 564.1h1v1h-1zM227.6 705.2h1v1h-1zM342.5 701.2h1v1h-1zM339.0 650.6h1v1h-1zM270.0 703.0h1v1h-1zM276.5 701.6h1v1h-1zM230.3 643.1h1v1h-1zM251.9 703.8h1v1h-1zM228.3 529.3h1v1h-1zM277.4 684.2h1v1h-1zM316.8 646.7h1v1h-1zM338.2 652.2h1v1h-1zM347.3 670.2h1v1h-1zM261.2 619.5h1v1h-1zM153.8 702.8h1v1h-1zM238.8 578.1h1v1h-1zM411.7 665.4h1v1h-1zM393.2 690.1h1v1h-1zM229.9 691.8h1v1h-1zM238.9 663.3h1v1h-1zM254.1 533.6h1v1h-1zM316.5 691.1h1v1h-1zM404.2 686.8h1v1h-1zM220.7 531.9h1v1h-1zM215.3 683.6h1v1h-1zM397.7 669.8h1v1h-1zM425.9 640.8h1v1h-1zM390.6 665.7h1v1h-1zM292.4 688.2h1v1h-1zM270.7 630.2h1v1h-1zM193.2 686.6h1v1h-1zM234.8 599.3h1v1h-1zM354.6 574.2h1v1h-1zM332.4 667.9h1v1h-1zM231.1 659.2h1v1h-1zM377.4 705.4h1v1h-1zM394.9 576.1h1v1h-1zM354.6 704.5h1v1h-1zM318.1 591.6h1v1h-1zM328.8 675.1h1v1h-1zM402.0 649.5h1v1h-1zM229.7 690.5h1v1h-1zM220.5 541.4h1v1h-1zM267.7 517.5h1v1h-1zM449.0 692.5h1v1h-1zM238.1 615.6h1v1h-1zM428.2 702.3h1v1h-1zM343.6 616.7h1v1h-1zM253.4 697.4h1v1h-1zM421.4 693.6h1v1h-1zM394.2 673.2h1v1h-1zM355.2 631.5h1v1h-1zM183.8 701.0h1v1h-1zM415.5 700.3h1v1h-1zM405.6 632.3h1v1h-1zM357.4 631.1h1v1h-1zM161.3 703.9h1v1h-1zM301.0 562.3h1v1h-1zM346.7 664.0h1v1h-1zM182.2 648.3h1v1h-1zM355.0 660.4h1v1h-1zM327.8 578.8h1v1h-1zM256.7 602.9h1v1h-1zM166.4 654.2h1v1h-1zM266.6 630.0h1v1h-1zM359.9 610.1h1v1h-1zM189.9 654.2h1v1h-1zM277.7 587.0h1v1h-1zM378.0 629.1h1v1h-1zM295.6 581.1h1v1h-1zM148.4 671.7h1v1h-1zM330.3 690.4h1v1h-1zM369.8 706.1h1v1h-1zM312.4 655.7h1v1h-1zM342.7 652.5h1v1h-1zM348.3 600.0h1v1h-1zM249.7 679.2h1v1h-1zM144.7 665.7h1v1h-1zM266.2 690.6h1v1h-1zM378.0 687.2h1v1h-1zM402.2 698.2h1v1h-1zM206.4 701.7h1v1h-1zM210.8 614.2h1v1h-1zM333.2 699.2h1v1h-1zM325.6 604.4h1v1h-1zM285.8 672.7h1v1h-1zM409.6 659.9h1v1h-1zM319.0 603.0h1v1h-1zM220.1 680.9h1v1h-1zM370.5 675.8h1v1h-1zM425.8 649.0h1v1h-1zM372.8 697.4h1v1h-1zM366.9 649.5h1v1h-1zM353.8 608.5h1v1h-1zM389.6 540.2h1v1h-1zM302.8 628.1h1v1h-1zM335.7 701.2h1v1h-1zM335.5 696.5h1v1h-1zM371.8 704.4h1v1h-1zM433.8 661.9h1v1h-1zM371.3 574.2h1v1h-1zM153.5 689.5h1v1h-1zM434.0 706.5h1v1h-1zM343.6 704.1h1v1h-1zM343.3 660.4h1v1h-1zM179.2 699.8h1v1h-1zM220.2 680.2h1v1h-1zM320.4 635.7h1v1h-1zM148.5 673.4h1v1h-1zM210.9 707.2h1v1h-1zM210.9 699.2h1v1h-1zM230.1 644.6h1v1h-1zM425.7 696.6h1v1h-1zM425.6 665.0h1v1h-1zM379.2 624.4h1v1h-1zM187.1 704.6h1v1h-1zM334.0 627.1h1v1h-1zM333.8 595.3h1v1h-1zM183.2 676.3h1v1h-1zM144.9 708.0h1v1h-1zM144.6 658.1h1v1h-1zM210.7 644.0h1v1h-1zM445.8 673.9h1v1h-1zM412.0 667.1h1v1h-1zM233.3 680.5h1v1h-1zM352.6 651.8h1v1h-1zM352.7 673.3h1v1h-1zM207.5 706.8h1v1h-1zM235.9 675.6h1v1h-1zM164.5 695.1h1v1h-1zM164.6 678.4h1v1h-1zM237.0 653.4h1v1h-1zM329.3 650.3h1v1h-1zM239.3 658.0h1v1h-1zM239.4 684.2h1v1h-1zM374.4 692.2h1v1h-1zM403.7 663.2h1v1h-1zM150.0 647.0h1v1h-1zM321.9 693.1h1v1h-1zM321.9 688.0h1v1h-1zM146.9 695.0h1v1h-1zM158.7 695.2h1v1h-1zM199.6 684.4h1v1h-1z" fill="#8a8a8a" fill-opacity="0.6"/><path d="M194.9 686.9h1v1h-1zM360.7 598.4h1v1h-1zM401.6 604.7h1v1h-1zM376.2 686.9h1v1h-1zM357.4 655.2h1v1h-1zM240.4 622.3h1v1h-1zM219.8 692.9h1v1h-1zM198.1 699.7h1v1h-1zM431.9 696.2h1v1h-1zM403.0 641.7h1v1h-1zM224.8 668.3h1v1h-1zM195.5 707.8h1v1h-1zM321.4 631.8h1v1h-1zM279.0 604.2h1v1h-1zM274.3 658.5h1v1h-1zM239.1 638.8h1v1h-1zM177.0 663.8h1v1h-1zM441.9 674.1h1v1h-1zM203.6 692.7h1v1h-1zM401.0 677.4h1v1h-1zM149.1 660.8h1v1h-1zM384.0 681.0h1v1h-1zM249.2 649.8h1v1h-1zM364.0 594.0h1v1h-1zM351.2 677.2h1v1h-1zM395.1 700.7h1v1h-1zM448.3 619.2h1v1h-1zM389.1 568.5h1v1h-1zM228.7 576.4h1v1h-1zM310.3 577.5h1v1h-1zM308.1 685.5h1v1h-1zM294.6 569.0h1v1h-1zM358.7 579.2h1v1h-1zM324.3 624.2h1v1h-1zM417.4 679.7h1v1h-1zM299.6 579.8h1v1h-1zM235.2 701.8h1v1h-1zM393.8 596.5h1v1h-1zM269.3 626.1h1v1h-1zM231.4 662.8h1v1h-1zM339.1 592.2h1v1h-1zM308.9 659.0h1v1h-1zM274.3 635.0h1v1h-1zM430.9 677.8h1v1h-1zM223.4 543.5h1v1h-1zM331.9 551.7h1v1h-1zM289.3 644.1h1v1h-1zM226.4 652.9h1v1h-1zM188.1 703.7h1v1h-1zM407.9 585.2h1v1h-1zM332.0 576.4h1v1h-1zM192.4 637.1h1v1h-1zM334.6 686.8h1v1h-1zM331.9 637.9h1v1h-1zM232.1 594.2h1v1h-1zM433.4 660.3h1v1h-1zM235.0 629.2h1v1h-1zM146.0 614.9h1v1h-1zM346.7 552.6h1v1h-1zM204.8 678.5h1v1h-1zM210.6 705.4h1v1h-1zM334.0 608.4h1v1h-1zM391.6 705.0h1v1h-1zM184.2 677.5h1v1h-1zM436.0 684.1h1v1h-1zM397.0 684.3h1v1h-1zM437.7 682.1h1v1h-1zM197.0 706.4h1v1h-1zM219.2 654.6h1v1h-1zM267.1 692.0h1v1h-1zM343.6 697.8h1v1h-1zM337.8 601.1h1v1h-1zM178.1 659.4h1v1h-1zM346.0 688.1h1v1h-1zM300.4 692.0h1v1h-1zM198.9 687.7h1v1h-1zM234.3 607.0h1v1h-1zM245.2 525.6h1v1h-1zM336.5 610.3h1v1h-1zM275.9 651.3h1v1h-1zM322.1 633.1h1v1h-1zM232.8 695.9h1v1h-1zM390.0 564.4h1v1h-1zM389.6 672.5h1v1h-1zM293.1 702.9h1v1h-1zM350.3 661.1h1v1h-1zM345.7 654.5h1v1h-1zM379.9 662.9h1v1h-1zM302.1 683.5h1v1h-1zM156.9 682.5h1v1h-1zM341.7 675.1h1v1h-1zM242.0 592.1h1v1h-1zM283.0 598.6h1v1h-1zM169.0 652.7h1v1h-1zM434.1 687.4h1v1h-1zM261.0 637.1h1v1h-1zM338.5 651.3h1v1h-1zM416.9 698.6h1v1h-1zM398.9 687.8h1v1h-1zM222.9 662.1h1v1h-1zM335.5 679.0h1v1h-1zM224.0 651.6h1v1h-1zM323.8 534.5h1v1h-1zM373.4 679.6h1v1h-1zM307.6 601.1h1v1h-1zM386.2 606.7h1v1h-1zM370.7 613.0h1v1h-1zM195.8 678.1h1v1h-1zM332.9 669.9h1v1h-1zM344.2 575.7h1v1h-1zM220.2 677.4h1v1h-1zM211.3 694.7h1v1h-1zM401.7 703.8h1v1h-1zM237.2 676.5h1v1h-1zM448.6 623.4h1v1h-1zM411.2 693.8h1v1h-1zM300.8 614.9h1v1h-1zM401.8 623.8h1v1h-1zM257.7 584.7h1v1h-1zM379.3 604.0h1v1h-1zM146.0 646.8h1v1h-1zM407.6 529.2h1v1h-1zM362.3 590.0h1v1h-1zM370.9 559.5h1v1h-1zM429.9 663.8h1v1h-1zM291.9 662.6h1v1h-1zM342.4 589.7h1v1h-1zM264.5 625.2h1v1h-1zM342.5 547.5h1v1h-1zM322.7 550.6h1v1h-1zM303.8 534.8h1v1h-1zM321.4 665.7h1v1h-1zM372.3 635.9h1v1h-1zM375.4 664.7h1v1h-1zM170.3 700.4h1v1h-1zM197.2 650.6h1v1h-1zM401.8 670.9h1v1h-1zM395.2 604.2h1v1h-1zM369.3 675.3h1v1h-1zM438.7 702.1h1v1h-1zM402.1 571.5h1v1h-1zM418.9 674.3h1v1h-1zM285.9 538.0h1v1h-1zM426.5 682.6h1v1h-1zM245.8 658.3h1v1h-1zM398.5 661.7h1v1h-1zM326.8 570.8h1v1h-1zM163.1 661.8h1v1h-1zM213.5 687.6h1v1h-1zM442.7 693.7h1v1h-1zM177.8 682.8h1v1h-1zM233.6 629.0h1v1h-1zM244.7 674.6h1v1h-1zM276.5 673.8h1v1h-1zM325.8 673.6h1v1h-1zM364.9 695.0h1v1h-1zM356.3 628.3h1v1h-1zM230.0 582.5h1v1h-1zM290.0 555.1h1v1h-1zM266.0 643.6h1v1h-1zM351.2 634.6h1v1h-1zM391.8 525.3h1v1h-1zM367.2 668.6h1v1h-1zM262.6 563.1h1v1h-1zM170.5 707.2h1v1h-1zM173.6 645.1h1v1h-1zM335.2 681.1h1v1h-1zM294.5 681.2h1v1h-1zM310.4 692.0h1v1h-1zM238.5 605.9h1v1h-1zM390.6 653.0h1v1h-1zM422.9 581.5h1v1h-1zM295.5 634.3h1v1h-1zM340.0 701.9h1v1h-1zM313.0 597.1h1v1h-1zM390.4 548.4h1v1h-1zM396.4 631.1h1v1h-1zM390.2 682.6h1v1h-1zM286.5 639.8h1v1h-1zM406.4 545.4h1v1h-1zM193.0 706.6h1v1h-1zM356.8 564.8h1v1h-1zM363.3 687.0h1v1h-1zM395.4 639.7h1v1h-1zM361.2 564.5h1v1h-1zM271.5 703.9h1v1h-1zM357.8 704.4h1v1h-1zM224.9 610.8h1v1h-1zM346.9 573.4h1v1h-1zM285.5 593.6h1v1h-1zM421.6 687.4h1v1h-1zM209.0 609.0h1v1h-1zM333.3 667.3h1v1h-1zM312.3 676.8h1v1h-1zM314.6 535.9h1v1h-1zM378.7 585.2h1v1h-1zM217.2 654.6h1v1h-1zM346.9 682.4h1v1h-1zM314.0 554.3h1v1h-1zM449.2 690.8h1v1h-1zM265.5 533.4h1v1h-1zM398.0 551.7h1v1h-1zM225.5 630.7h1v1h-1zM349.8 616.9h1v1h-1zM289.3 575.7h1v1h-1zM380.2 555.0h1v1h-1zM366.5 700.1h1v1h-1zM343.0 636.4h1v1h-1zM341.1 646.2h1v1h-1zM342.5 704.7h1v1h-1zM238.5 589.5h1v1h-1zM200.7 651.2h1v1h-1zM384.3 701.8h1v1h-1zM186.3 691.3h1v1h-1zM382.5 623.6h1v1h-1zM391.5 623.0h1v1h-1zM427.5 704.9h1v1h-1zM192.8 636.6h1v1h-1zM278.9 635.5h1v1h-1zM298.5 703.8h1v1h-1zM374.5 699.9h1v1h-1zM335.8 590.2h1v1h-1zM372.3 696.4h1v1h-1zM388.1 703.3h1v1h-1zM388.6 679.1h1v1h-1zM388.3 697.8h1v1h-1zM388.4 674.4h1v1h-1zM433.8 689.5h1v1h-1zM433.7 673.2h1v1h-1zM371.6 630.5h1v1h-1zM371.6 597.5h1v1h-1zM427.3 658.4h1v1h-1zM427.6 640.2h1v1h-1zM153.1 670.7h1v1h-1zM153.3 699.9h1v1h-1zM287.5 690.3h1v1h-1zM433.8 688.4h1v1h-1zM343.7 703.3h1v1h-1zM343.7 637.5h1v1h-1zM288.3 652.1h1v1h-1zM219.9 707.3h1v1h-1zM311.1 692.2h1v1h-1zM320.7 617.4h1v1h-1zM320.8 622.5h1v1h-1zM148.4 682.1h1v1h-1zM148.5 675.9h1v1h-1zM211.1 705.4h1v1h-1zM210.6 701.3h1v1h-1zM193.5 692.5h1v1h-1zM186.9 645.8h1v1h-1zM183.3 694.5h1v1h-1zM144.9 668.7h1v1h-1zM411.8 701.4h1v1h-1zM210.4 621.9h1v1h-1zM446.1 692.8h1v1h-1zM446.2 691.6h1v1h-1zM412.3 614.3h1v1h-1zM412.3 664.8h1v1h-1zM412.0 645.9h1v1h-1zM411.8 676.8h1v1h-1zM233.1 657.5h1v1h-1zM439.7 700.2h1v1h-1zM309.7 670.5h1v1h-1zM352.6 701.2h1v1h-1zM206.9 687.7h1v1h-1zM432.9 650.5h1v1h-1zM356.3 595.7h1v1h-1zM235.9 634.6h1v1h-1zM164.4 700.7h1v1h-1zM164.2 693.4h1v1h-1zM164.2 701.6h1v1h-1zM236.6 656.6h1v1h-1zM329.4 694.9h1v1h-1zM145.5 707.3h1v1h-1zM145.5 702.3h1v1h-1zM352.6 635.8h1v1h-1zM352.3 678.2h1v1h-1zM239.6 699.6h1v1h-1zM239.7 682.7h1v1h-1zM395.5 669.5h1v1h-1zM291.9 694.6h1v1h-1zM292.2 702.1h1v1h-1zM292.2 686.8h1v1h-1zM360.7 694.7h1v1h-1zM360.7 667.6h1v1h-1zM360.6 696.3h1v1h-1zM360.7 684.5h1v1h-1zM162.1 670.0h1v1h-1zM374.7 632.8h1v1h-1zM403.7 695.5h1v1h-1zM150.1 685.0h1v1h-1zM150.1 690.4h1v1h-1zM149.7 657.9h1v1h-1zM150.1 693.6h1v1h-1zM256.6 609.4h1v1h-1zM322.1 704.0h1v1h-1zM158.5 683.0h1v1h-1zM158.8 703.5h1v1h-1zM199.8 697.6h1v1h-1z" fill="#7c7c84" fill-opacity="0.4"/><path d="M301.4 698.5h1v1h-1zM337.5 522.3h1v1h-1zM386.0 628.2h1v1h-1zM334.9 639.4h1v1h-1zM407.6 638.2h1v1h-1zM353.4 640.8h1v1h-1zM322.4 630.5h1v1h-1zM390.2 707.2h1v1h-1zM191.5 676.8h1v1h-1zM207.3 683.0h1v1h-1zM381.6 701.2h1v1h-1zM284.4 637.2h1v1h-1zM231.7 589.0h1v1h-1zM207.8 644.8h1v1h-1zM243.9 564.7h1v1h-1zM236.8 600.4h1v1h-1zM238.0 574.5h1v1h-1zM221.7 684.1h1v1h-1zM302.8 591.7h1v1h-1zM286.2 683.0h1v1h-1zM285.0 683.6h1v1h-1zM288.5 522.1h1v1h-1zM274.5 543.7h1v1h-1zM362.2 674.9h1v1h-1zM300.0 527.1h1v1h-1zM254.0 633.6h1v1h-1zM214.6 691.9h1v1h-1zM232.7 521.8h1v1h-1zM368.0 638.1h1v1h-1zM330.9 627.8h1v1h-1zM193.8 697.5h1v1h-1zM373.1 669.1h1v1h-1zM213.9 654.7h1v1h-1zM265.2 548.8h1v1h-1zM405.2 562.9h1v1h-1zM216.2 703.4h1v1h-1zM306.9 571.4h1v1h-1zM349.8 680.4h1v1h-1zM405.8 628.4h1v1h-1zM292.8 676.5h1v1h-1zM334.7 657.4h1v1h-1zM262.1 703.1h1v1h-1zM270.1 628.9h1v1h-1zM189.9 650.9h1v1h-1zM200.3 688.2h1v1h-1zM218.2 685.0h1v1h-1zM166.6 669.0h1v1h-1zM246.2 674.5h1v1h-1zM360.3 619.6h1v1h-1zM220.2 677.4h1v1h-1zM329.2 702.8h1v1h-1zM155.1 666.5h1v1h-1zM282.7 683.9h1v1h-1zM323.7 559.2h1v1h-1zM364.5 585.6h1v1h-1zM192.7 617.1h1v1h-1zM243.8 616.8h1v1h-1zM233.7 693.2h1v1h-1zM241.6 602.2h1v1h-1zM431.3 697.6h1v1h-1zM252.5 687.3h1v1h-1zM407.9 543.6h1v1h-1zM251.5 691.0h1v1h-1zM247.1 617.7h1v1h-1zM258.1 610.6h1v1h-1zM424.6 696.2h1v1h-1zM174.5 704.4h1v1h-1zM350.9 692.7h1v1h-1zM298.8 664.3h1v1h-1zM250.9 672.1h1v1h-1zM222.5 670.7h1v1h-1zM450.9 694.5h1v1h-1zM265.4 589.7h1v1h-1zM388.0 661.6h1v1h-1zM209.1 604.7h1v1h-1zM372.9 660.7h1v1h-1zM354.5 621.7h1v1h-1zM290.8 676.1h1v1h-1zM323.7 639.3h1v1h-1zM181.9 685.6h1v1h-1zM216.6 629.6h1v1h-1zM364.9 701.4h1v1h-1zM339.7 651.3h1v1h-1zM403.0 695.6h1v1h-1zM353.5 633.8h1v1h-1zM306.7 564.9h1v1h-1zM242.3 632.8h1v1h-1zM409.6 696.6h1v1h-1zM207.6 686.4h1v1h-1zM369.0 516.9h1v1h-1zM315.7 605.2h1v1h-1zM350.5 698.8h1v1h-1zM150.2 707.6h1v1h-1zM300.7 606.8h1v1h-1zM345.8 707.5h1v1h-1zM256.3 541.2h1v1h-1zM405.9 649.5h1v1h-1zM194.6 703.6h1v1h-1zM313.7 703.5h1v1h-1zM287.2 625.3h1v1h-1zM152.7 674.0h1v1h-1zM378.8 599.2h1v1h-1zM407.2 670.2h1v1h-1zM399.0 636.5h1v1h-1zM359.2 600.0h1v1h-1zM220.7 670.8h1v1h-1zM356.9 608.2h1v1h-1zM151.5 665.2h1v1h-1zM244.3 694.7h1v1h-1zM403.3 581.2h1v1h-1zM400.1 572.3h1v1h-1zM306.5 690.7h1v1h-1zM237.6 633.7h1v1h-1zM251.2 535.7h1v1h-1zM156.3 703.3h1v1h-1zM337.2 575.2h1v1h-1zM211.4 605.7h1v1h-1zM175.8 700.6h1v1h-1zM163.6 698.7h1v1h-1zM392.2 636.7h1v1h-1zM240.9 549.6h1v1h-1zM329.1 636.3h1v1h-1zM215.2 693.4h1v1h-1zM301.7 656.7h1v1h-1zM281.3 668.2h1v1h-1zM364.2 706.7h1v1h-1zM324.6 539.1h1v1h-1zM320.1 700.6h1v1h-1zM344.4 604.9h1v1h-1zM330.9 677.1h1v1h-1zM447.2 680.3h1v1h-1zM223.6 700.2h1v1h-1zM339.9 578.5h1v1h-1zM372.7 678.1h1v1h-1zM382.0 672.3h1v1h-1zM150.3 659.7h1v1h-1zM252.6 611.4h1v1h-1zM253.4 668.0h1v1h-1zM266.9 668.6h1v1h-1zM281.5 664.2h1v1h-1zM409.6 698.0h1v1h-1zM268.5 700.4h1v1h-1zM283.2 704.3h1v1h-1zM387.6 576.7h1v1h-1zM365.3 579.8h1v1h-1zM444.9 684.9h1v1h-1zM388.2 637.0h1v1h-1zM297.2 522.5h1v1h-1zM391.6 633.1h1v1h-1zM247.7 702.1h1v1h-1zM293.6 653.0h1v1h-1zM376.7 619.6h1v1h-1zM349.3 550.2h1v1h-1zM396.2 578.5h1v1h-1zM204.7 648.3h1v1h-1zM406.9 611.2h1v1h-1zM332.5 684.2h1v1h-1zM150.9 692.2h1v1h-1zM400.0 607.9h1v1h-1zM282.1 690.3h1v1h-1zM195.6 701.1h1v1h-1zM411.8 583.1h1v1h-1zM297.8 592.4h1v1h-1zM312.6 609.1h1v1h-1zM169.1 626.7h1v1h-1zM291.9 616.6h1v1h-1zM317.5 612.5h1v1h-1zM258.3 671.1h1v1h-1zM318.3 555.3h1v1h-1zM160.9 661.1h1v1h-1zM204.3 698.5h1v1h-1zM310.3 566.3h1v1h-1zM287.8 534.3h1v1h-1zM395.0 652.7h1v1h-1zM333.6 645.2h1v1h-1zM144.9 705.6h1v1h-1zM311.7 694.4h1v1h-1zM353.4 596.5h1v1h-1zM383.6 660.2h1v1h-1zM286.1 620.0h1v1h-1zM279.8 594.4h1v1h-1zM163.0 693.9h1v1h-1zM376.3 638.3h1v1h-1zM149.7 642.5h1v1h-1zM374.5 616.6h1v1h-1zM222.9 698.9h1v1h-1zM396.8 700.1h1v1h-1zM366.1 632.5h1v1h-1zM164.5 634.4h1v1h-1zM394.7 608.1h1v1h-1zM370.8 660.0h1v1h-1zM318.9 652.9h1v1h-1zM386.1 622.7h1v1h-1zM436.1 705.4h1v1h-1zM397.4 632.5h1v1h-1zM335.8 625.1h1v1h-1zM372.2 706.0h1v1h-1zM388.3 672.5h1v1h-1zM388.3 692.9h1v1h-1zM371.4 652.8h1v1h-1zM153.5 699.5h1v1h-1zM287.4 699.6h1v1h-1zM434.1 670.7h1v1h-1zM148.1 698.3h1v1h-1zM210.8 695.1h1v1h-1zM210.9 674.2h1v1h-1zM210.8 705.6h1v1h-1zM230.1 700.9h1v1h-1zM333.8 641.2h1v1h-1zM334.1 638.0h1v1h-1zM333.7 636.4h1v1h-1zM333.6 591.8h1v1h-1zM183.1 669.1h1v1h-1zM145.1 698.8h1v1h-1zM210.3 608.3h1v1h-1zM210.2 615.2h1v1h-1zM232.8 630.1h1v1h-1zM232.9 658.4h1v1h-1zM439.7 693.3h1v1h-1zM352.5 707.0h1v1h-1zM352.2 699.2h1v1h-1zM433.5 703.6h1v1h-1zM356.5 536.6h1v1h-1zM418.6 678.3h1v1h-1zM236.2 635.7h1v1h-1zM255.2 695.8h1v1h-1zM164.6 689.4h1v1h-1zM145.4 700.4h1v1h-1zM352.1 707.8h1v1h-1zM352.2 620.2h1v1h-1zM247.8 666.2h1v1h-1zM248.0 654.7h1v1h-1zM239.2 659.5h1v1h-1zM395.4 575.4h1v1h-1zM395.5 659.9h1v1h-1zM241.5 705.9h1v1h-1zM241.5 694.3h1v1h-1zM291.9 702.4h1v1h-1zM292.3 655.9h1v1h-1zM360.5 701.4h1v1h-1zM161.8 669.3h1v1h-1zM161.6 668.9h1v1h-1zM161.8 683.1h1v1h-1zM374.7 624.3h1v1h-1zM374.4 668.6h1v1h-1zM386.3 684.7h1v1h-1zM256.9 685.4h1v1h-1zM146.8 690.1h1v1h-1zM199.6 683.1h1v1h-1zM199.8 688.6h1v1h-1z" fill="#7a7f98" fill-opacity="0.6"/><path d="M264.3 679.1h1v1h-1zM415.0 685.7h1v1h-1zM262.6 695.1h1v1h-1zM363.1 599.5h1v1h-1zM287.0 619.3h1v1h-1zM202.6 707.9h1v1h-1zM334.0 686.0h1v1h-1zM439.4 669.3h1v1h-1zM300.2 592.4h1v1h-1zM387.5 599.6h1v1h-1zM304.0 565.9h1v1h-1zM331.1 599.5h1v1h-1zM307.6 627.3h1v1h-1zM219.4 704.9h1v1h-1zM312.8 705.8h1v1h-1zM291.0 591.8h1v1h-1zM263.2 544.6h1v1h-1zM177.8 685.5h1v1h-1zM285.1 548.0h1v1h-1zM225.1 594.5h1v1h-1zM190.9 674.9h1v1h-1zM159.5 682.2h1v1h-1zM287.3 682.6h1v1h-1zM402.1 700.4h1v1h-1zM329.1 626.3h1v1h-1zM302.5 654.1h1v1h-1zM179.5 540.7h1v1h-1zM228.7 539.3h1v1h-1zM224.5 655.9h1v1h-1zM269.9 680.7h1v1h-1zM329.1 612.2h1v1h-1zM322.6 569.3h1v1h-1zM252.2 630.8h1v1h-1zM286.8 702.0h1v1h-1zM438.1 674.8h1v1h-1zM402.7 695.9h1v1h-1zM324.4 695.5h1v1h-1zM416.8 698.5h1v1h-1zM285.0 570.5h1v1h-1zM404.0 690.6h1v1h-1zM199.2 597.3h1v1h-1zM324.4 553.1h1v1h-1zM285.0 673.4h1v1h-1zM251.6 692.9h1v1h-1zM401.6 705.3h1v1h-1zM331.3 694.6h1v1h-1zM294.0 551.0h1v1h-1zM360.6 693.5h1v1h-1zM232.9 624.3h1v1h-1zM242.6 694.9h1v1h-1zM344.7 652.2h1v1h-1zM242.1 689.0h1v1h-1zM261.1 637.7h1v1h-1zM347.6 647.9h1v1h-1zM261.8 623.2h1v1h-1zM215.4 691.3h1v1h-1zM209.5 701.7h1v1h-1zM171.2 664.4h1v1h-1zM150.6 675.8h1v1h-1zM234.5 704.2h1v1h-1zM261.5 702.9h1v1h-1zM375.0 599.2h1v1h-1zM262.0 616.5h1v1h-1zM228.1 671.5h1v1h-1zM318.7 518.1h1v1h-1zM282.3 669.8h1v1h-1zM419.7 694.4h1v1h-1zM320.1 570.6h1v1h-1zM178.8 705.6h1v1h-1zM428.9 648.3h1v1h-1zM408.4 594.3h1v1h-1zM151.5 664.6h1v1h-1zM347.1 592.5h1v1h-1zM299.3 650.2h1v1h-1zM352.8 676.6h1v1h-1zM434.3 619.3h1v1h-1zM242.4 532.0h1v1h-1zM340.6 600.8h1v1h-1zM314.6 657.6h1v1h-1zM288.9 666.7h1v1h-1zM239.5 607.6h1v1h-1zM421.5 707.3h1v1h-1zM313.9 619.3h1v1h-1zM275.4 591.3h1v1h-1zM255.8 606.7h1v1h-1zM365.4 691.8h1v1h-1zM149.6 564.9h1v1h-1zM384.0 698.7h1v1h-1zM313.7 593.8h1v1h-1zM264.8 650.5h1v1h-1zM324.1 634.8h1v1h-1zM224.9 620.5h1v1h-1zM150.9 627.7h1v1h-1zM371.7 615.7h1v1h-1zM387.4 620.5h1v1h-1zM233.6 699.5h1v1h-1zM359.2 692.7h1v1h-1zM174.8 685.6h1v1h-1zM380.5 541.4h1v1h-1zM403.2 663.8h1v1h-1zM296.4 670.2h1v1h-1zM342.9 696.0h1v1h-1zM255.2 625.3h1v1h-1zM391.9 677.6h1v1h-1zM215.6 662.9h1v1h-1zM217.5 584.5h1v1h-1zM383.4 651.5h1v1h-1zM393.1 677.0h1v1h-1zM396.5 633.0h1v1h-1zM216.3 691.1h1v1h-1zM374.8 625.2h1v1h-1zM380.5 703.8h1v1h-1zM396.0 635.9h1v1h-1zM277.7 688.2h1v1h-1zM390.7 660.7h1v1h-1zM149.3 596.2h1v1h-1zM334.3 684.5h1v1h-1zM371.6 684.7h1v1h-1zM283.8 609.1h1v1h-1zM389.7 695.8h1v1h-1zM396.3 666.2h1v1h-1zM444.5 685.8h1v1h-1zM422.8 609.8h1v1h-1zM370.5 597.6h1v1h-1zM300.2 697.2h1v1h-1zM328.6 587.1h1v1h-1zM193.0 706.6h1v1h-1zM213.8 672.7h1v1h-1zM178.4 653.0h1v1h-1zM357.0 534.5h1v1h-1zM151.1 699.0h1v1h-1zM242.9 686.3h1v1h-1zM166.1 603.7h1v1h-1zM234.3 650.2h1v1h-1zM288.3 626.3h1v1h-1zM275.1 696.1h1v1h-1zM338.1 668.1h1v1h-1zM320.2 572.2h1v1h-1zM411.1 660.8h1v1h-1zM373.6 655.6h1v1h-1zM242.8 684.2h1v1h-1zM301.2 605.0h1v1h-1zM175.0 698.6h1v1h-1zM333.5 674.0h1v1h-1zM306.6 603.7h1v1h-1zM267.9 537.7h1v1h-1zM348.2 656.0h1v1h-1zM233.1 669.6h1v1h-1zM187.3 689.1h1v1h-1zM236.6 703.6h1v1h-1zM232.3 635.6h1v1h-1zM320.5 696.2h1v1h-1zM287.6 558.6h1v1h-1zM316.3 595.9h1v1h-1zM175.4 625.9h1v1h-1zM224.9 601.5h1v1h-1zM301.0 597.2h1v1h-1zM372.9 668.3h1v1h-1zM358.4 694.0h1v1h-1zM337.0 571.2h1v1h-1zM277.9 588.5h1v1h-1zM389.2 605.6h1v1h-1zM284.3 672.6h1v1h-1zM313.6 555.8h1v1h-1zM165.9 697.4h1v1h-1zM377.2 699.1h1v1h-1zM351.2 668.0h1v1h-1zM158.7 691.9h1v1h-1zM232.0 704.0h1v1h-1zM337.3 681.2h1v1h-1zM294.1 587.0h1v1h-1zM282.6 617.4h1v1h-1zM298.2 638.0h1v1h-1zM341.2 641.6h1v1h-1zM359.4 628.4h1v1h-1zM342.3 668.4h1v1h-1zM317.8 689.0h1v1h-1zM297.2 576.6h1v1h-1zM347.0 534.7h1v1h-1zM246.9 660.9h1v1h-1zM326.3 656.6h1v1h-1zM349.3 610.8h1v1h-1zM171.6 692.8h1v1h-1zM323.1 532.3h1v1h-1zM398.8 661.5h1v1h-1zM226.3 689.1h1v1h-1zM345.3 663.1h1v1h-1zM299.6 649.6h1v1h-1zM380.5 682.1h1v1h-1zM277.1 677.0h1v1h-1zM398.4 668.4h1v1h-1zM381.4 687.4h1v1h-1zM305.7 688.1h1v1h-1zM326.9 696.2h1v1h-1zM214.3 704.4h1v1h-1zM301.7 672.8h1v1h-1zM386.3 569.2h1v1h-1zM347.4 625.5h1v1h-1zM340.8 620.6h1v1h-1zM230.8 535.4h1v1h-1zM402.7 685.8h1v1h-1zM325.4 668.5h1v1h-1zM396.2 644.0h1v1h-1zM152.0 631.4h1v1h-1zM383.8 698.1h1v1h-1zM411.9 692.9h1v1h-1zM210.9 685.8h1v1h-1zM328.2 692.8h1v1h-1zM252.8 587.8h1v1h-1zM332.8 575.6h1v1h-1zM352.8 653.8h1v1h-1zM174.0 666.8h1v1h-1zM280.1 611.3h1v1h-1zM228.8 588.7h1v1h-1zM282.9 573.8h1v1h-1zM280.1 576.4h1v1h-1zM356.2 658.1h1v1h-1zM431.3 654.1h1v1h-1zM199.0 572.0h1v1h-1zM311.5 633.5h1v1h-1zM186.2 673.8h1v1h-1zM258.5 661.4h1v1h-1zM340.8 701.3h1v1h-1zM359.7 579.8h1v1h-1zM380.9 627.8h1v1h-1zM402.0 683.4h1v1h-1zM353.2 578.9h1v1h-1zM146.8 656.2h1v1h-1zM324.1 615.9h1v1h-1zM247.9 645.6h1v1h-1zM144.6 704.1h1v1h-1zM172.3 614.3h1v1h-1zM288.8 636.4h1v1h-1zM168.7 609.7h1v1h-1zM342.8 681.5h1v1h-1zM440.5 692.7h1v1h-1zM338.5 586.4h1v1h-1zM158.7 686.6h1v1h-1zM284.4 542.9h1v1h-1zM403.8 704.7h1v1h-1zM259.8 585.4h1v1h-1zM388.4 695.9h1v1h-1zM226.3 648.5h1v1h-1zM190.1 700.8h1v1h-1zM292.5 608.8h1v1h-1zM313.8 631.6h1v1h-1zM415.6 673.8h1v1h-1zM247.4 551.3h1v1h-1zM336.1 707.9h1v1h-1zM309.0 667.8h1v1h-1zM362.8 695.3h1v1h-1zM354.6 669.9h1v1h-1zM388.9 674.1h1v1h-1zM272.4 641.1h1v1h-1zM301.5 640.3h1v1h-1zM332.4 656.4h1v1h-1zM354.1 683.4h1v1h-1zM317.2 691.3h1v1h-1zM315.7 547.1h1v1h-1zM408.4 706.8h1v1h-1zM362.2 632.3h1v1h-1zM358.1 633.4h1v1h-1zM323.5 681.4h1v1h-1zM261.1 678.4h1v1h-1zM230.5 684.0h1v1h-1zM388.4 707.5h1v1h-1zM388.6 663.2h1v1h-1zM433.4 664.3h1v1h-1zM371.7 619.6h1v1h-1zM427.2 704.9h1v1h-1zM421.0 679.2h1v1h-1zM179.0 674.3h1v1h-1zM288.5 689.3h1v1h-1zM288.0 553.9h1v1h-1zM288.0 539.2h1v1h-1zM219.9 680.2h1v1h-1zM220.1 700.1h1v1h-1zM219.8 698.6h1v1h-1zM311.5 663.9h1v1h-1zM311.3 645.9h1v1h-1zM320.4 594.4h1v1h-1zM320.6 659.9h1v1h-1zM148.2 667.6h1v1h-1zM210.8 684.3h1v1h-1zM211.0 679.1h1v1h-1zM379.3 654.7h1v1h-1zM389.0 594.4h1v1h-1zM183.4 633.8h1v1h-1zM145.1 667.2h1v1h-1zM210.7 695.1h1v1h-1zM445.6 676.8h1v1h-1zM445.6 699.4h1v1h-1zM412.4 657.8h1v1h-1zM232.9 625.2h1v1h-1zM310.1 699.8h1v1h-1zM352.5 647.0h1v1h-1zM352.6 673.8h1v1h-1zM352.2 685.0h1v1h-1zM352.4 682.3h1v1h-1zM352.2 677.2h1v1h-1zM207.1 641.7h1v1h-1zM356.1 548.6h1v1h-1zM441.1 689.4h1v1h-1zM441.0 681.1h1v1h-1zM235.9 692.7h1v1h-1zM254.9 652.1h1v1h-1zM255.0 663.8h1v1h-1zM195.5 662.2h1v1h-1zM195.5 665.3h1v1h-1zM195.1 702.4h1v1h-1zM188.8 680.1h1v1h-1zM189.3 687.3h1v1h-1zM164.4 703.8h1v1h-1zM164.0 706.6h1v1h-1zM236.8 701.9h1v1h-1zM236.5 657.4h1v1h-1zM237.0 655.8h1v1h-1zM236.7 674.5h1v1h-1zM329.3 686.7h1v1h-1zM145.2 671.8h1v1h-1zM145.1 664.9h1v1h-1zM145.6 614.7h1v1h-1zM145.2 654.3h1v1h-1zM352.7 690.2h1v1h-1zM248.1 667.2h1v1h-1zM239.2 690.6h1v1h-1zM239.6 692.6h1v1h-1zM395.7 703.3h1v1h-1zM292.1 683.9h1v1h-1zM443.5 674.7h1v1h-1zM151.1 707.2h1v1h-1zM151.2 666.7h1v1h-1zM374.4 636.5h1v1h-1zM374.8 704.1h1v1h-1zM374.5 660.8h1v1h-1zM374.3 616.3h1v1h-1zM149.8 707.8h1v1h-1zM150.1 693.6h1v1h-1zM386.1 589.9h1v1h-1zM386.1 695.6h1v1h-1zM386.3 660.4h1v1h-1zM256.5 612.6h1v1h-1zM256.8 703.5h1v1h-1zM147.0 688.3h1v1h-1zM158.8 691.0h1v1h-1zM158.6 694.3h1v1h-1z" fill="#7a7f98" fill-opacity="0.4"/><path d="M376.8 572.2h1v1h-1zM311.0 589.7h1v1h-1zM442.4 706.9h1v1h-1zM246.5 684.0h1v1h-1zM315.5 703.7h1v1h-1zM268.5 596.1h1v1h-1zM199.6 704.9h1v1h-1zM446.8 696.1h1v1h-1zM390.5 674.5h1v1h-1zM278.1 700.9h1v1h-1zM331.3 651.4h1v1h-1zM350.3 613.5h1v1h-1zM337.7 686.2h1v1h-1zM288.7 569.5h1v1h-1zM353.4 633.2h1v1h-1zM280.7 550.5h1v1h-1zM419.1 650.0h1v1h-1zM369.1 671.3h1v1h-1zM400.3 613.0h1v1h-1zM365.8 568.1h1v1h-1zM272.2 553.2h1v1h-1zM433.2 681.5h1v1h-1zM298.8 577.4h1v1h-1zM321.7 533.6h1v1h-1zM170.5 638.9h1v1h-1zM278.7 620.2h1v1h-1zM322.6 639.2h1v1h-1zM382.8 588.1h1v1h-1zM366.9 612.2h1v1h-1zM326.2 678.2h1v1h-1zM334.3 587.4h1v1h-1zM290.3 637.6h1v1h-1zM196.1 672.5h1v1h-1zM296.2 665.0h1v1h-1zM283.5 652.7h1v1h-1zM305.6 616.0h1v1h-1zM436.1 696.7h1v1h-1zM252.7 684.0h1v1h-1zM210.3 671.4h1v1h-1zM337.0 692.6h1v1h-1zM300.8 563.2h1v1h-1zM409.7 593.7h1v1h-1zM348.9 676.8h1v1h-1zM354.4 630.6h1v1h-1zM224.3 698.4h1v1h-1zM262.6 632.8h1v1h-1zM366.9 635.8h1v1h-1zM230.7 534.5h1v1h-1zM426.6 663.7h1v1h-1zM155.0 694.9h1v1h-1zM376.4 670.1h1v1h-1zM202.1 699.9h1v1h-1zM286.4 647.5h1v1h-1zM390.2 551.5h1v1h-1zM404.8 678.0h1v1h-1zM322.5 630.6h1v1h-1zM363.9 581.7h1v1h-1zM339.7 681.7h1v1h-1zM406.0 545.4h1v1h-1zM354.0 703.6h1v1h-1zM332.9 657.9h1v1h-1zM203.9 684.6h1v1h-1zM348.5 605.0h1v1h-1zM404.6 684.0h1v1h-1zM203.5 659.1h1v1h-1zM215.3 697.2h1v1h-1zM282.2 686.6h1v1h-1zM255.5 679.2h1v1h-1zM311.4 565.6h1v1h-1zM344.8 540.2h1v1h-1zM285.2 601.0h1v1h-1zM302.8 631.3h1v1h-1zM406.0 614.5h1v1h-1zM149.9 645.1h1v1h-1zM342.4 681.7h1v1h-1zM400.1 687.3h1v1h-1zM216.7 706.4h1v1h-1zM418.4 682.6h1v1h-1zM330.0 569.5h1v1h-1zM237.7 591.5h1v1h-1zM266.1 674.9h1v1h-1zM401.9 554.8h1v1h-1zM355.3 555.7h1v1h-1zM241.7 591.4h1v1h-1zM345.8 603.4h1v1h-1zM280.4 619.6h1v1h-1zM351.8 634.3h1v1h-1zM225.4 696.6h1v1h-1zM157.3 591.8h1v1h-1zM336.3 660.3h1v1h-1zM306.0 692.8h1v1h-1zM426.9 643.0h1v1h-1zM291.0 703.3h1v1h-1zM315.6 585.1h1v1h-1zM371.5 695.7h1v1h-1zM352.2 698.6h1v1h-1zM342.3 589.5h1v1h-1zM351.8 673.3h1v1h-1zM335.1 702.9h1v1h-1zM332.6 690.6h1v1h-1zM227.3 700.6h1v1h-1zM403.5 558.7h1v1h-1zM244.2 686.2h1v1h-1zM351.5 659.7h1v1h-1zM329.1 667.6h1v1h-1zM298.8 584.0h1v1h-1zM396.7 649.8h1v1h-1zM297.5 705.3h1v1h-1zM337.9 575.0h1v1h-1zM431.4 681.6h1v1h-1zM374.4 616.2h1v1h-1zM180.4 706.6h1v1h-1zM354.1 641.8h1v1h-1zM428.8 665.8h1v1h-1zM153.9 602.7h1v1h-1zM205.2 674.1h1v1h-1zM221.2 625.6h1v1h-1zM372.8 579.8h1v1h-1zM360.5 689.9h1v1h-1zM373.1 585.1h1v1h-1zM368.7 700.9h1v1h-1zM294.5 609.7h1v1h-1zM185.7 672.8h1v1h-1zM197.7 693.0h1v1h-1zM385.7 562.0h1v1h-1zM278.1 588.2h1v1h-1zM320.7 620.4h1v1h-1zM279.2 673.0h1v1h-1zM357.9 597.7h1v1h-1zM337.3 632.6h1v1h-1zM260.7 701.5h1v1h-1zM437.5 705.4h1v1h-1zM317.7 655.0h1v1h-1zM380.9 690.7h1v1h-1zM282.8 680.8h1v1h-1zM293.4 656.5h1v1h-1zM239.3 574.4h1v1h-1zM224.2 580.1h1v1h-1zM295.5 625.0h1v1h-1zM206.2 673.7h1v1h-1zM185.2 699.9h1v1h-1zM386.0 679.3h1v1h-1zM348.5 597.7h1v1h-1zM283.5 671.3h1v1h-1zM246.3 619.2h1v1h-1zM163.3 694.9h1v1h-1zM381.0 658.3h1v1h-1zM341.4 641.1h1v1h-1zM358.9 641.6h1v1h-1zM183.9 644.5h1v1h-1zM313.3 675.1h1v1h-1zM234.5 706.3h1v1h-1zM231.6 688.4h1v1h-1zM296.6 632.7h1v1h-1zM146.4 704.3h1v1h-1zM363.8 631.5h1v1h-1zM315.5 557.5h1v1h-1zM253.1 640.4h1v1h-1zM316.2 683.6h1v1h-1zM319.1 660.9h1v1h-1zM407.6 702.6h1v1h-1zM222.9 621.3h1v1h-1zM170.0 624.0h1v1h-1zM218.0 597.4h1v1h-1zM254.4 517.9h1v1h-1zM332.4 699.3h1v1h-1zM387.5 617.8h1v1h-1zM317.0 599.8h1v1h-1zM371.9 639.9h1v1h-1zM166.8 691.6h1v1h-1zM355.3 532.6h1v1h-1zM150.9 566.2h1v1h-1zM156.0 705.5h1v1h-1zM302.0 637.3h1v1h-1zM422.8 636.2h1v1h-1zM385.6 674.3h1v1h-1zM246.9 641.3h1v1h-1zM268.0 683.3h1v1h-1zM389.4 667.5h1v1h-1zM278.9 665.3h1v1h-1zM275.7 585.8h1v1h-1zM181.1 700.3h1v1h-1zM324.6 648.4h1v1h-1zM356.1 641.1h1v1h-1zM372.7 625.1h1v1h-1zM266.2 652.0h1v1h-1zM341.8 545.0h1v1h-1zM204.1 695.5h1v1h-1zM343.2 630.3h1v1h-1zM419.5 674.2h1v1h-1zM226.0 673.2h1v1h-1zM185.4 704.0h1v1h-1zM266.1 619.8h1v1h-1zM234.2 619.7h1v1h-1zM355.7 593.7h1v1h-1zM331.1 624.7h1v1h-1zM373.9 698.3h1v1h-1zM310.7 691.8h1v1h-1zM229.8 704.4h1v1h-1zM269.9 543.0h1v1h-1zM421.6 663.2h1v1h-1zM312.9 601.9h1v1h-1zM396.0 626.5h1v1h-1zM250.4 680.3h1v1h-1zM242.1 670.1h1v1h-1zM402.1 615.0h1v1h-1zM208.3 693.7h1v1h-1zM311.6 610.6h1v1h-1zM414.1 702.5h1v1h-1zM222.3 706.3h1v1h-1zM357.4 648.4h1v1h-1zM335.7 539.7h1v1h-1zM382.4 520.4h1v1h-1zM402.7 675.8h1v1h-1zM376.3 697.6h1v1h-1zM213.4 657.8h1v1h-1zM391.0 563.3h1v1h-1zM317.6 671.5h1v1h-1zM343.3 621.3h1v1h-1zM358.2 566.1h1v1h-1zM260.6 706.3h1v1h-1zM295.8 575.5h1v1h-1zM340.4 696.6h1v1h-1zM249.5 552.6h1v1h-1zM298.4 698.9h1v1h-1zM344.8 666.5h1v1h-1zM336.9 674.0h1v1h-1zM446.2 644.0h1v1h-1zM186.1 658.8h1v1h-1zM323.5 648.5h1v1h-1zM357.6 550.1h1v1h-1zM411.6 589.4h1v1h-1zM302.6 649.3h1v1h-1zM166.9 626.7h1v1h-1zM363.2 579.9h1v1h-1zM278.8 605.8h1v1h-1zM238.1 647.4h1v1h-1zM448.5 707.8h1v1h-1zM386.1 697.1h1v1h-1zM410.8 701.0h1v1h-1zM389.6 688.3h1v1h-1zM331.8 608.5h1v1h-1zM229.3 612.2h1v1h-1zM349.0 673.9h1v1h-1zM335.7 632.8h1v1h-1zM388.7 689.4h1v1h-1zM153.4 696.0h1v1h-1zM343.6 704.4h1v1h-1zM343.5 668.0h1v1h-1zM420.8 669.3h1v1h-1zM421.1 698.6h1v1h-1zM178.8 682.2h1v1h-1zM311.1 582.5h1v1h-1zM311.1 648.7h1v1h-1zM320.3 603.1h1v1h-1zM148.3 705.1h1v1h-1zM148.4 696.1h1v1h-1zM211.1 689.7h1v1h-1zM210.7 707.1h1v1h-1zM425.8 705.5h1v1h-1zM379.2 603.7h1v1h-1zM379.1 664.1h1v1h-1zM193.3 703.9h1v1h-1zM186.7 666.8h1v1h-1zM334.1 672.1h1v1h-1zM334.1 601.4h1v1h-1zM333.6 662.0h1v1h-1zM183.1 650.7h1v1h-1zM208.8 682.0h1v1h-1zM208.6 649.5h1v1h-1zM208.9 706.3h1v1h-1zM445.9 687.4h1v1h-1zM445.8 693.3h1v1h-1zM412.0 640.4h1v1h-1zM232.9 595.2h1v1h-1zM233.1 628.4h1v1h-1zM439.7 665.4h1v1h-1zM310.0 645.9h1v1h-1zM352.2 704.6h1v1h-1zM352.5 693.5h1v1h-1zM207.1 699.1h1v1h-1zM207.2 648.3h1v1h-1zM433.0 647.3h1v1h-1zM236.1 689.4h1v1h-1zM235.8 642.9h1v1h-1zM255.0 646.0h1v1h-1zM255.4 672.8h1v1h-1zM195.0 672.7h1v1h-1zM195.1 643.9h1v1h-1zM188.9 660.4h1v1h-1zM237.0 625.4h1v1h-1zM236.6 672.8h1v1h-1zM329.4 704.7h1v1h-1zM329.7 661.0h1v1h-1zM329.6 703.9h1v1h-1zM329.3 685.5h1v1h-1zM145.1 673.0h1v1h-1zM352.3 696.7h1v1h-1zM352.3 608.1h1v1h-1zM248.0 560.2h1v1h-1zM247.8 657.2h1v1h-1zM239.3 706.7h1v1h-1zM241.2 697.6h1v1h-1zM241.5 693.2h1v1h-1zM292.1 682.6h1v1h-1zM292.1 662.9h1v1h-1zM292.3 664.8h1v1h-1zM162.0 668.9h1v1h-1zM162.0 692.7h1v1h-1zM443.6 599.4h1v1h-1zM443.7 678.5h1v1h-1zM443.8 659.1h1v1h-1zM374.5 639.0h1v1h-1zM403.8 707.0h1v1h-1zM149.8 707.4h1v1h-1zM256.8 643.6h1v1h-1zM322.2 685.5h1v1h-1zM147.2 693.3h1v1h-1zM199.7 686.8h1v1h-1zM200.1 659.9h1v1h-1zM199.8 700.5h1v1h-1z" fill="#8a8a8a" fill-opacity="0.4"/><path d="M226.0 529.6h1v1h-1zM371.2 590.1h1v1h-1zM334.6 671.6h1v1h-1zM355.3 704.8h1v1h-1zM411.3 701.2h1v1h-1zM269.5 602.0h1v1h-1zM384.8 676.0h1v1h-1zM160.1 653.5h1v1h-1zM402.1 541.8h1v1h-1zM325.0 649.5h1v1h-1zM434.1 706.4h1v1h-1zM380.3 627.6h1v1h-1zM326.5 558.7h1v1h-1zM409.0 636.0h1v1h-1zM275.7 642.3h1v1h-1zM310.6 688.7h1v1h-1zM408.7 655.4h1v1h-1zM338.8 674.0h1v1h-1zM324.9 532.9h1v1h-1zM319.2 628.5h1v1h-1zM189.3 704.8h1v1h-1zM343.3 571.8h1v1h-1zM255.2 609.7h1v1h-1zM288.4 613.9h1v1h-1zM185.2 658.1h1v1h-1zM199.1 625.4h1v1h-1zM427.3 654.9h1v1h-1zM351.2 695.9h1v1h-1zM359.5 645.8h1v1h-1zM202.3 579.1h1v1h-1zM193.0 701.0h1v1h-1zM290.6 666.9h1v1h-1zM318.4 557.0h1v1h-1zM268.7 617.1h1v1h-1zM252.6 606.9h1v1h-1zM343.5 689.3h1v1h-1zM259.2 668.2h1v1h-1zM306.4 664.3h1v1h-1zM370.9 704.6h1v1h-1zM323.2 695.5h1v1h-1zM282.7 621.5h1v1h-1zM384.7 660.4h1v1h-1zM368.2 634.4h1v1h-1zM336.4 677.4h1v1h-1zM343.6 631.9h1v1h-1zM296.3 670.0h1v1h-1zM250.9 660.9h1v1h-1zM399.5 632.8h1v1h-1zM318.2 625.1h1v1h-1zM319.4 548.8h1v1h-1zM334.8 648.4h1v1h-1zM335.5 678.3h1v1h-1zM370.0 692.8h1v1h-1zM293.7 529.1h1v1h-1zM386.1 700.4h1v1h-1zM288.2 578.7h1v1h-1zM251.2 681.7h1v1h-1zM325.1 706.4h1v1h-1zM379.2 670.4h1v1h-1zM408.4 585.6h1v1h-1zM251.7 668.8h1v1h-1zM365.5 639.5h1v1h-1zM301.4 632.7h1v1h-1zM337.4 678.1h1v1h-1zM225.3 702.9h1v1h-1zM324.7 659.2h1v1h-1zM368.8 617.7h1v1h-1zM429.3 702.2h1v1h-1zM337.3 627.9h1v1h-1zM285.3 643.5h1v1h-1zM400.5 557.1h1v1h-1zM450.8 648.7h1v1h-1zM399.9 668.2h1v1h-1zM400.1 621.6h1v1h-1zM386.5 648.3h1v1h-1zM267.2 698.4h1v1h-1zM351.2 591.8h1v1h-1zM300.9 673.8h1v1h-1zM207.5 610.4h1v1h-1zM257.3 592.5h1v1h-1zM222.5 639.0h1v1h-1zM308.1 585.0h1v1h-1zM344.3 698.8h1v1h-1zM433.5 671.5h1v1h-1zM273.6 558.1h1v1h-1zM252.4 595.3h1v1h-1zM403.3 698.1h1v1h-1zM281.4 623.9h1v1h-1zM231.3 696.1h1v1h-1zM336.7 663.4h1v1h-1zM338.3 693.3h1v1h-1zM188.7 671.7h1v1h-1zM374.9 706.8h1v1h-1zM390.7 584.7h1v1h-1zM428.6 663.0h1v1h-1zM386.6 660.8h1v1h-1zM316.5 688.5h1v1h-1zM293.6 551.5h1v1h-1zM278.6 576.1h1v1h-1zM149.4 614.2h1v1h-1zM157.6 624.5h1v1h-1zM379.7 679.1h1v1h-1zM334.3 598.9h1v1h-1zM174.8 629.2h1v1h-1zM242.0 617.6h1v1h-1zM434.1 705.9h1v1h-1zM425.2 696.0h1v1h-1zM295.8 608.3h1v1h-1zM321.6 539.6h1v1h-1zM308.2 671.9h1v1h-1zM264.1 667.3h1v1h-1zM177.2 691.4h1v1h-1zM316.1 602.8h1v1h-1zM434.6 661.4h1v1h-1zM366.1 688.8h1v1h-1zM408.0 687.6h1v1h-1zM149.6 656.8h1v1h-1zM231.5 556.3h1v1h-1zM313.7 589.6h1v1h-1zM381.7 705.2h1v1h-1zM307.9 534.0h1v1h-1zM413.3 665.5h1v1h-1zM176.1 602.3h1v1h-1zM225.0 555.7h1v1h-1zM343.4 698.1h1v1h-1zM410.2 706.4h1v1h-1zM287.4 606.0h1v1h-1zM201.8 609.2h1v1h-1zM393.6 667.9h1v1h-1zM434.6 650.6h1v1h-1zM362.7 660.6h1v1h-1zM339.2 586.5h1v1h-1zM274.9 567.4h1v1h-1zM427.9 684.2h1v1h-1zM195.2 651.2h1v1h-1zM258.0 583.9h1v1h-1zM383.0 545.3h1v1h-1zM260.2 569.8h1v1h-1zM442.9 676.1h1v1h-1zM216.2 636.5h1v1h-1zM366.8 665.8h1v1h-1zM404.6 584.0h1v1h-1zM360.1 677.1h1v1h-1zM169.0 689.0h1v1h-1zM351.9 595.6h1v1h-1zM320.8 636.1h1v1h-1zM400.3 698.3h1v1h-1zM259.9 561.7h1v1h-1zM347.6 676.6h1v1h-1zM338.9 689.0h1v1h-1zM398.2 577.2h1v1h-1zM377.9 593.0h1v1h-1zM258.2 550.8h1v1h-1zM176.5 659.9h1v1h-1zM353.5 614.9h1v1h-1zM370.7 569.6h1v1h-1zM352.4 687.3h1v1h-1zM365.2 697.0h1v1h-1zM298.1 693.3h1v1h-1zM249.9 614.1h1v1h-1zM376.4 525.0h1v1h-1zM317.1 577.5h1v1h-1zM250.8 645.3h1v1h-1zM260.8 514.8h1v1h-1zM400.8 584.1h1v1h-1zM290.7 657.2h1v1h-1zM238.0 651.1h1v1h-1zM350.2 564.4h1v1h-1zM383.6 697.9h1v1h-1zM244.2 518.1h1v1h-1zM272.3 635.5h1v1h-1zM234.9 691.4h1v1h-1zM233.5 674.9h1v1h-1zM221.6 669.1h1v1h-1zM299.1 687.4h1v1h-1zM324.1 630.4h1v1h-1zM162.5 682.0h1v1h-1zM360.7 665.2h1v1h-1zM293.2 607.8h1v1h-1zM263.7 585.6h1v1h-1zM342.4 601.8h1v1h-1zM249.8 682.4h1v1h-1zM249.3 637.0h1v1h-1zM344.7 702.5h1v1h-1zM307.0 672.3h1v1h-1zM359.7 591.4h1v1h-1zM169.3 656.4h1v1h-1zM162.4 664.5h1v1h-1zM259.1 667.7h1v1h-1zM333.1 642.7h1v1h-1zM243.4 592.7h1v1h-1zM179.8 671.2h1v1h-1zM373.1 700.1h1v1h-1zM326.7 612.5h1v1h-1zM429.3 704.9h1v1h-1zM226.9 638.2h1v1h-1zM276.4 535.1h1v1h-1zM175.4 703.8h1v1h-1zM324.6 671.2h1v1h-1zM147.6 677.9h1v1h-1zM167.1 670.6h1v1h-1zM408.7 648.5h1v1h-1zM185.8 704.5h1v1h-1zM255.4 587.2h1v1h-1zM381.3 542.9h1v1h-1zM310.1 549.0h1v1h-1zM441.2 673.7h1v1h-1zM167.5 688.5h1v1h-1zM380.8 658.3h1v1h-1zM173.5 616.6h1v1h-1zM264.2 521.0h1v1h-1zM435.1 603.9h1v1h-1zM368.1 693.0h1v1h-1zM145.6 697.2h1v1h-1zM331.0 685.6h1v1h-1zM304.9 558.5h1v1h-1zM323.5 622.8h1v1h-1zM225.3 663.6h1v1h-1zM294.1 625.2h1v1h-1zM406.3 527.9h1v1h-1zM383.4 688.0h1v1h-1zM437.5 626.9h1v1h-1zM362.8 706.9h1v1h-1zM361.0 677.5h1v1h-1zM245.4 692.4h1v1h-1zM265.7 707.7h1v1h-1zM194.1 676.8h1v1h-1zM408.7 603.7h1v1h-1zM403.8 516.6h1v1h-1zM187.5 571.8h1v1h-1zM389.4 617.0h1v1h-1zM210.4 702.4h1v1h-1zM196.3 658.3h1v1h-1zM313.2 554.3h1v1h-1zM228.9 637.2h1v1h-1zM424.1 692.5h1v1h-1zM381.5 561.4h1v1h-1zM211.1 631.6h1v1h-1zM331.8 555.7h1v1h-1zM348.0 686.7h1v1h-1zM404.7 662.9h1v1h-1zM335.8 705.3h1v1h-1zM371.8 650.7h1v1h-1zM371.9 694.3h1v1h-1zM371.8 662.7h1v1h-1zM388.2 673.9h1v1h-1zM388.6 668.8h1v1h-1zM433.5 667.4h1v1h-1zM433.7 693.3h1v1h-1zM371.3 676.1h1v1h-1zM427.5 679.0h1v1h-1zM427.6 679.3h1v1h-1zM153.3 679.3h1v1h-1zM153.1 705.9h1v1h-1zM434.2 650.5h1v1h-1zM343.7 640.5h1v1h-1zM343.7 683.6h1v1h-1zM343.6 653.1h1v1h-1zM343.3 681.7h1v1h-1zM311.4 545.9h1v1h-1zM320.7 601.2h1v1h-1zM320.4 680.5h1v1h-1zM148.0 685.2h1v1h-1zM210.9 697.4h1v1h-1zM210.6 698.2h1v1h-1zM425.3 680.7h1v1h-1zM379.2 625.0h1v1h-1zM388.8 699.3h1v1h-1zM333.9 658.1h1v1h-1zM183.0 707.4h1v1h-1zM411.7 670.5h1v1h-1zM208.7 639.0h1v1h-1zM208.9 697.9h1v1h-1zM208.7 664.8h1v1h-1zM445.7 673.0h1v1h-1zM412.4 651.6h1v1h-1zM412.4 704.4h1v1h-1zM233.0 683.3h1v1h-1zM233.4 587.2h1v1h-1zM233.2 649.4h1v1h-1zM439.7 661.8h1v1h-1zM309.8 636.6h1v1h-1zM309.5 687.6h1v1h-1zM352.6 662.2h1v1h-1zM207.4 652.6h1v1h-1zM207.0 661.3h1v1h-1zM433.1 636.5h1v1h-1zM418.9 670.3h1v1h-1zM195.2 676.7h1v1h-1zM189.1 690.8h1v1h-1zM164.4 695.3h1v1h-1zM236.7 691.9h1v1h-1zM329.6 655.1h1v1h-1zM352.7 648.6h1v1h-1zM352.3 681.0h1v1h-1zM352.4 678.5h1v1h-1zM352.2 660.9h1v1h-1zM352.3 622.6h1v1h-1zM247.8 706.2h1v1h-1zM292.1 649.7h1v1h-1zM292.0 666.7h1v1h-1zM360.9 693.9h1v1h-1zM360.7 679.0h1v1h-1zM360.7 687.5h1v1h-1zM360.9 666.5h1v1h-1zM360.5 697.8h1v1h-1zM161.8 696.9h1v1h-1zM161.8 687.7h1v1h-1zM162.0 675.9h1v1h-1zM151.6 663.8h1v1h-1zM151.3 702.1h1v1h-1zM151.2 677.4h1v1h-1zM374.5 696.7h1v1h-1zM374.8 678.8h1v1h-1zM150.0 679.8h1v1h-1zM386.0 690.8h1v1h-1zM322.1 700.8h1v1h-1zM146.9 677.1h1v1h-1z" fill="#888888" fill-opacity="0.4"/><path d="M332.7 673.7h1v1h-1zM315.1 518.4h1v1h-1zM289.3 608.8h1v1h-1zM402.1 606.0h1v1h-1zM148.4 671.4h1v1h-1zM188.7 673.4h1v1h-1zM286.4 581.3h1v1h-1zM252.9 629.9h1v1h-1zM271.2 651.0h1v1h-1zM226.4 695.3h1v1h-1zM405.5 608.3h1v1h-1zM253.5 525.9h1v1h-1zM282.0 683.3h1v1h-1zM300.2 603.4h1v1h-1zM415.9 687.5h1v1h-1zM426.5 685.6h1v1h-1zM433.4 690.7h1v1h-1zM260.8 631.1h1v1h-1zM264.0 679.2h1v1h-1zM267.8 614.4h1v1h-1zM278.9 690.4h1v1h-1zM286.2 670.2h1v1h-1zM205.6 633.9h1v1h-1zM406.6 667.4h1v1h-1zM246.4 691.9h1v1h-1zM424.5 705.8h1v1h-1zM161.5 661.5h1v1h-1zM271.2 516.1h1v1h-1zM151.7 681.0h1v1h-1zM397.9 703.9h1v1h-1zM264.9 677.2h1v1h-1zM399.6 620.9h1v1h-1zM380.4 656.0h1v1h-1zM232.2 650.5h1v1h-1zM293.8 613.2h1v1h-1zM313.3 676.7h1v1h-1zM189.9 705.0h1v1h-1zM386.3 693.1h1v1h-1zM399.9 621.9h1v1h-1zM223.3 642.9h1v1h-1zM260.6 691.9h1v1h-1zM225.2 587.1h1v1h-1zM360.1 574.8h1v1h-1zM411.1 631.4h1v1h-1zM234.2 612.0h1v1h-1zM418.4 645.8h1v1h-1zM372.4 665.7h1v1h-1zM360.2 694.8h1v1h-1zM355.0 685.7h1v1h-1zM303.2 634.1h1v1h-1zM449.1 668.4h1v1h-1zM218.2 694.5h1v1h-1zM406.0 638.9h1v1h-1zM323.4 594.5h1v1h-1zM288.6 641.5h1v1h-1zM312.3 634.4h1v1h-1zM374.6 704.1h1v1h-1zM321.7 684.3h1v1h-1zM380.5 539.1h1v1h-1zM273.4 526.1h1v1h-1zM299.9 681.4h1v1h-1zM375.9 684.9h1v1h-1zM301.4 647.0h1v1h-1zM348.4 533.7h1v1h-1zM199.8 705.0h1v1h-1zM148.5 579.4h1v1h-1zM260.2 601.3h1v1h-1zM372.1 577.7h1v1h-1zM329.0 612.4h1v1h-1zM328.3 703.6h1v1h-1zM299.7 645.8h1v1h-1zM293.1 652.4h1v1h-1zM365.0 534.5h1v1h-1zM390.0 568.3h1v1h-1zM303.1 665.0h1v1h-1zM259.5 665.9h1v1h-1zM440.0 704.2h1v1h-1zM238.0 690.4h1v1h-1zM400.3 646.6h1v1h-1zM266.3 630.9h1v1h-1zM432.5 613.3h1v1h-1zM257.4 703.9h1v1h-1zM313.7 615.3h1v1h-1zM436.9 685.7h1v1h-1zM241.5 626.7h1v1h-1zM330.2 620.8h1v1h-1zM398.3 577.6h1v1h-1zM234.0 582.6h1v1h-1zM197.1 667.4h1v1h-1zM293.6 645.4h1v1h-1zM226.7 636.4h1v1h-1zM198.5 707.5h1v1h-1zM370.1 589.9h1v1h-1zM202.6 561.4h1v1h-1zM280.0 647.2h1v1h-1zM278.1 605.6h1v1h-1zM381.2 688.5h1v1h-1zM300.7 620.1h1v1h-1zM389.1 699.4h1v1h-1zM280.0 657.5h1v1h-1zM389.7 682.3h1v1h-1zM236.2 627.9h1v1h-1zM397.4 691.9h1v1h-1zM222.1 688.4h1v1h-1zM152.8 692.7h1v1h-1zM204.6 624.7h1v1h-1zM370.4 593.6h1v1h-1zM268.2 667.0h1v1h-1zM399.9 595.2h1v1h-1zM390.3 526.8h1v1h-1zM387.2 687.9h1v1h-1zM192.0 615.5h1v1h-1zM328.8 667.7h1v1h-1zM184.7 573.1h1v1h-1zM168.4 659.1h1v1h-1zM272.8 538.4h1v1h-1zM427.1 615.7h1v1h-1zM254.4 699.1h1v1h-1zM303.3 571.2h1v1h-1zM180.2 606.5h1v1h-1zM305.3 686.2h1v1h-1zM273.9 669.4h1v1h-1zM185.4 660.8h1v1h-1zM176.1 620.8h1v1h-1zM374.0 685.0h1v1h-1zM314.5 590.3h1v1h-1zM232.7 542.0h1v1h-1zM228.4 551.2h1v1h-1zM271.8 692.0h1v1h-1zM381.0 589.7h1v1h-1zM445.7 650.5h1v1h-1zM248.1 565.2h1v1h-1zM233.7 692.4h1v1h-1zM329.5 677.9h1v1h-1zM261.7 630.4h1v1h-1zM236.0 604.1h1v1h-1zM252.7 667.2h1v1h-1zM256.8 659.0h1v1h-1zM373.8 607.1h1v1h-1zM261.3 648.3h1v1h-1zM213.1 690.9h1v1h-1zM331.1 651.5h1v1h-1zM410.5 600.6h1v1h-1zM440.4 653.2h1v1h-1zM319.7 676.6h1v1h-1zM255.4 646.4h1v1h-1zM226.2 677.6h1v1h-1zM372.6 597.2h1v1h-1zM303.1 680.4h1v1h-1zM363.2 627.3h1v1h-1zM281.8 629.0h1v1h-1zM354.4 580.0h1v1h-1zM375.5 574.1h1v1h-1zM250.3 607.3h1v1h-1zM378.4 690.5h1v1h-1zM306.5 526.7h1v1h-1zM354.6 691.4h1v1h-1zM316.9 612.5h1v1h-1zM406.8 649.3h1v1h-1zM403.9 665.2h1v1h-1zM287.3 623.5h1v1h-1zM410.9 588.5h1v1h-1zM382.7 549.7h1v1h-1zM219.1 692.8h1v1h-1zM144.7 651.1h1v1h-1zM322.0 615.3h1v1h-1zM288.2 679.2h1v1h-1zM272.3 635.7h1v1h-1zM340.4 587.2h1v1h-1zM230.3 653.5h1v1h-1zM199.8 513.4h1v1h-1zM356.2 587.7h1v1h-1zM262.2 683.2h1v1h-1zM358.1 650.2h1v1h-1zM445.2 699.7h1v1h-1zM265.5 593.7h1v1h-1zM363.6 605.1h1v1h-1zM270.9 564.3h1v1h-1zM183.1 652.8h1v1h-1zM355.8 618.3h1v1h-1zM345.8 619.3h1v1h-1zM234.2 616.9h1v1h-1zM233.7 623.3h1v1h-1zM259.8 621.0h1v1h-1zM282.5 539.7h1v1h-1zM292.6 699.3h1v1h-1zM356.1 576.7h1v1h-1zM334.0 632.9h1v1h-1zM363.0 624.0h1v1h-1zM346.8 704.4h1v1h-1zM412.3 674.6h1v1h-1zM270.6 696.7h1v1h-1zM329.9 564.3h1v1h-1zM192.3 687.7h1v1h-1zM430.3 704.6h1v1h-1zM164.9 695.9h1v1h-1zM409.2 685.8h1v1h-1zM335.5 618.5h1v1h-1zM388.4 666.1h1v1h-1zM433.5 689.1h1v1h-1zM287.2 693.9h1v1h-1zM434.1 640.1h1v1h-1zM220.1 706.6h1v1h-1zM220.2 701.6h1v1h-1zM320.6 698.5h1v1h-1zM320.3 707.5h1v1h-1zM148.4 665.0h1v1h-1zM148.1 678.2h1v1h-1zM210.6 678.1h1v1h-1zM210.9 705.9h1v1h-1zM425.4 674.6h1v1h-1zM379.2 663.1h1v1h-1zM193.2 664.7h1v1h-1zM193.2 679.6h1v1h-1zM187.1 640.9h1v1h-1zM187.0 666.9h1v1h-1zM183.0 706.6h1v1h-1zM411.7 693.9h1v1h-1zM210.5 693.7h1v1h-1zM210.4 698.7h1v1h-1zM233.3 635.0h1v1h-1zM233.3 699.9h1v1h-1zM352.5 673.4h1v1h-1zM352.1 656.7h1v1h-1zM356.3 640.9h1v1h-1zM255.0 683.7h1v1h-1zM195.0 667.7h1v1h-1zM188.9 697.6h1v1h-1zM164.6 700.8h1v1h-1zM329.5 664.7h1v1h-1zM329.5 664.2h1v1h-1zM248.1 650.7h1v1h-1zM291.8 668.5h1v1h-1zM241.1 705.9h1v1h-1zM292.1 672.2h1v1h-1zM291.8 659.3h1v1h-1zM360.9 678.1h1v1h-1zM150.1 694.9h1v1h-1zM386.3 702.4h1v1h-1zM256.8 603.5h1v1h-1zM321.8 684.8h1v1h-1zM322.1 679.1h1v1h-1zM322.0 680.2h1v1h-1zM147.3 699.9h1v1h-1zM147.1 699.7h1v1h-1zM147.3 698.4h1v1h-1zM437.6 707.2h1v1h-1z" fill="#7c7c84" fill-opacity="0.6"/><path d="M193.5 634.4h1v1h-1zM148.4 694.2h1v1h-1zM335.9 701.2h1v1h-1zM186.8 583.9h1v1h-1zM384.6 657.5h1v1h-1zM293.4 651.3h1v1h-1zM240.5 584.8h1v1h-1zM177.4 648.2h1v1h-1zM316.0 551.0h1v1h-1zM334.3 634.4h1v1h-1zM358.5 606.0h1v1h-1zM388.5 564.2h1v1h-1zM192.2 707.6h1v1h-1zM226.9 598.8h1v1h-1zM166.5 668.4h1v1h-1zM333.7 668.2h1v1h-1zM407.4 654.5h1v1h-1zM243.6 635.6h1v1h-1zM176.8 695.0h1v1h-1zM176.7 637.2h1v1h-1zM443.6 698.4h1v1h-1zM408.8 575.1h1v1h-1zM293.1 615.9h1v1h-1zM195.5 628.6h1v1h-1zM315.5 659.9h1v1h-1zM383.2 548.4h1v1h-1zM227.3 598.0h1v1h-1zM270.0 657.1h1v1h-1zM316.1 540.7h1v1h-1zM270.3 635.0h1v1h-1zM315.0 600.9h1v1h-1zM241.4 699.3h1v1h-1zM313.3 603.5h1v1h-1zM310.6 553.7h1v1h-1zM277.3 662.0h1v1h-1zM295.2 654.9h1v1h-1zM366.6 551.3h1v1h-1zM277.5 658.1h1v1h-1zM370.8 632.2h1v1h-1zM323.8 670.8h1v1h-1zM234.6 689.9h1v1h-1zM255.5 706.5h1v1h-1zM297.8 556.1h1v1h-1zM276.5 584.9h1v1h-1zM162.0 660.3h1v1h-1zM309.3 673.8h1v1h-1zM332.6 678.8h1v1h-1zM144.9 570.3h1v1h-1zM293.6 674.8h1v1h-1zM326.5 600.9h1v1h-1zM440.0 628.0h1v1h-1zM338.6 560.2h1v1h-1zM333.9 513.2h1v1h-1zM376.9 668.9h1v1h-1zM353.4 675.3h1v1h-1zM179.8 612.1h1v1h-1zM350.1 597.6h1v1h-1zM224.3 638.1h1v1h-1zM199.8 706.8h1v1h-1zM378.8 623.5h1v1h-1zM291.8 705.9h1v1h-1zM183.8 519.7h1v1h-1zM232.9 632.9h1v1h-1zM280.4 518.5h1v1h-1zM162.9 689.6h1v1h-1zM344.2 651.7h1v1h-1zM244.3 675.6h1v1h-1zM235.0 620.4h1v1h-1zM313.8 693.7h1v1h-1zM160.0 673.4h1v1h-1zM335.7 650.0h1v1h-1zM370.8 619.4h1v1h-1zM296.5 643.0h1v1h-1zM398.7 617.4h1v1h-1zM239.8 582.0h1v1h-1zM257.9 663.1h1v1h-1zM406.9 632.2h1v1h-1zM383.3 667.1h1v1h-1zM259.7 603.7h1v1h-1zM311.4 663.3h1v1h-1zM284.9 518.8h1v1h-1zM394.9 527.7h1v1h-1zM257.1 618.8h1v1h-1zM251.2 600.6h1v1h-1zM254.7 676.0h1v1h-1zM332.2 619.4h1v1h-1zM221.0 632.7h1v1h-1zM424.0 658.1h1v1h-1zM408.6 686.6h1v1h-1zM220.7 689.4h1v1h-1zM258.9 598.6h1v1h-1zM253.2 646.2h1v1h-1zM254.4 670.3h1v1h-1zM436.1 538.0h1v1h-1zM323.9 617.1h1v1h-1zM156.3 691.7h1v1h-1zM222.7 603.4h1v1h-1zM423.7 645.3h1v1h-1zM360.5 624.7h1v1h-1zM399.3 577.5h1v1h-1zM251.0 642.6h1v1h-1zM307.7 706.8h1v1h-1zM360.4 668.0h1v1h-1zM167.6 687.0h1v1h-1zM233.5 644.8h1v1h-1zM243.1 527.0h1v1h-1zM273.3 700.1h1v1h-1zM395.3 695.5h1v1h-1zM342.2 679.2h1v1h-1zM417.3 664.0h1v1h-1zM397.9 654.9h1v1h-1zM232.4 707.1h1v1h-1zM303.6 599.3h1v1h-1zM359.4 676.6h1v1h-1zM157.6 517.0h1v1h-1zM400.0 638.1h1v1h-1zM295.9 674.9h1v1h-1zM253.9 652.6h1v1h-1zM368.1 614.7h1v1h-1zM323.1 623.2h1v1h-1zM357.7 642.9h1v1h-1zM450.3 687.9h1v1h-1zM360.4 599.4h1v1h-1zM449.8 647.4h1v1h-1zM201.5 670.4h1v1h-1zM248.6 563.6h1v1h-1zM165.6 704.4h1v1h-1zM317.3 648.4h1v1h-1zM288.8 684.1h1v1h-1zM327.8 622.5h1v1h-1zM170.8 662.1h1v1h-1zM174.6 560.3h1v1h-1zM329.1 574.6h1v1h-1zM321.6 641.2h1v1h-1zM353.1 585.6h1v1h-1zM255.8 625.0h1v1h-1zM313.4 668.7h1v1h-1zM263.5 584.6h1v1h-1zM279.6 637.2h1v1h-1zM201.0 701.0h1v1h-1zM408.7 602.1h1v1h-1zM296.2 596.0h1v1h-1zM183.2 699.0h1v1h-1zM392.7 664.8h1v1h-1zM280.8 659.1h1v1h-1zM291.6 700.7h1v1h-1zM196.8 702.6h1v1h-1zM410.3 707.5h1v1h-1zM308.2 524.3h1v1h-1zM276.9 686.5h1v1h-1zM244.4 690.5h1v1h-1zM407.1 626.3h1v1h-1zM197.5 706.2h1v1h-1zM281.4 545.1h1v1h-1zM333.7 706.7h1v1h-1zM268.5 623.1h1v1h-1zM339.0 620.3h1v1h-1zM414.8 691.3h1v1h-1zM349.6 694.8h1v1h-1zM174.4 647.9h1v1h-1zM231.0 610.7h1v1h-1zM354.4 697.9h1v1h-1zM370.7 619.9h1v1h-1zM403.5 623.5h1v1h-1zM285.0 640.4h1v1h-1zM291.3 611.0h1v1h-1zM232.5 692.8h1v1h-1zM378.0 613.1h1v1h-1zM309.0 593.7h1v1h-1zM349.5 640.1h1v1h-1zM343.6 667.1h1v1h-1zM371.9 684.2h1v1h-1zM388.6 689.7h1v1h-1zM433.9 670.8h1v1h-1zM433.7 691.1h1v1h-1zM371.2 613.6h1v1h-1zM179.2 675.6h1v1h-1zM288.3 647.0h1v1h-1zM320.5 591.9h1v1h-1zM320.2 669.5h1v1h-1zM211.1 706.6h1v1h-1zM230.0 690.0h1v1h-1zM230.4 595.2h1v1h-1zM379.6 706.6h1v1h-1zM388.9 587.3h1v1h-1zM411.6 675.9h1v1h-1zM411.6 686.9h1v1h-1zM208.6 669.6h1v1h-1zM210.4 692.3h1v1h-1zM210.5 644.2h1v1h-1zM232.9 615.5h1v1h-1zM309.6 647.8h1v1h-1zM352.4 670.9h1v1h-1zM356.0 624.4h1v1h-1zM418.5 614.9h1v1h-1zM236.1 640.2h1v1h-1zM164.4 707.6h1v1h-1zM164.4 690.6h1v1h-1zM329.3 703.8h1v1h-1zM145.2 696.9h1v1h-1zM352.5 630.4h1v1h-1zM248.1 697.0h1v1h-1zM395.5 695.8h1v1h-1zM360.4 702.5h1v1h-1zM360.5 679.7h1v1h-1zM360.4 690.2h1v1h-1zM360.8 678.4h1v1h-1zM161.9 678.2h1v1h-1zM443.5 692.3h1v1h-1zM403.4 650.8h1v1h-1zM403.4 635.2h1v1h-1zM149.7 640.2h1v1h-1zM147.2 678.7h1v1h-1zM147.0 700.0h1v1h-1zM147.3 689.3h1v1h-1zM158.4 652.1h1v1h-1z" fill="#888888" fill-opacity="0.6"/><path d="M286.0 700.8h1v1h-1zM376.1 697.0h1v1h-1zM168.0 682.7h1v1h-1zM346.7 605.6h1v1h-1zM384.1 667.9h1v1h-1zM156.9 688.4h1v1h-1zM288.3 616.1h1v1h-1zM194.9 676.0h1v1h-1zM252.3 629.6h1v1h-1zM322.0 595.0h1v1h-1zM229.8 662.0h1v1h-1zM205.6 696.7h1v1h-1zM407.2 612.5h1v1h-1zM339.7 657.0h1v1h-1zM350.5 640.5h1v1h-1zM159.3 706.3h1v1h-1zM397.3 631.9h1v1h-1zM293.7 651.0h1v1h-1zM186.5 678.0h1v1h-1zM341.1 694.8h1v1h-1zM256.0 702.0h1v1h-1zM188.4 637.0h1v1h-1zM151.6 693.2h1v1h-1zM399.8 606.6h1v1h-1zM188.4 603.6h1v1h-1zM379.4 638.9h1v1h-1zM444.6 705.9h1v1h-1zM370.2 633.1h1v1h-1zM277.9 631.5h1v1h-1zM260.6 650.4h1v1h-1zM384.2 698.7h1v1h-1zM181.9 656.6h1v1h-1zM382.5 674.1h1v1h-1zM251.3 654.2h1v1h-1zM359.3 684.9h1v1h-1zM231.9 671.9h1v1h-1zM223.8 616.2h1v1h-1zM292.6 603.5h1v1h-1zM223.4 628.6h1v1h-1zM382.1 677.9h1v1h-1zM367.1 703.8h1v1h-1zM272.6 517.1h1v1h-1zM312.8 615.1h1v1h-1zM257.0 640.5h1v1h-1zM231.1 556.1h1v1h-1zM370.2 677.5h1v1h-1zM229.7 694.2h1v1h-1zM405.0 620.7h1v1h-1zM374.8 646.7h1v1h-1zM367.3 583.0h1v1h-1zM255.3 562.5h1v1h-1zM276.0 595.0h1v1h-1zM396.5 654.1h1v1h-1zM335.3 609.6h1v1h-1zM388.2 684.3h1v1h-1zM427.4 612.4h1v1h-1zM153.5 678.6h1v1h-1zM148.2 692.7h1v1h-1zM210.8 693.2h1v1h-1zM211.0 688.5h1v1h-1zM388.8 688.8h1v1h-1zM186.7 684.7h1v1h-1zM333.6 549.0h1v1h-1zM412.0 679.8h1v1h-1zM412.1 636.7h1v1h-1zM310.1 644.7h1v1h-1zM309.7 695.6h1v1h-1zM352.4 676.0h1v1h-1zM356.0 695.2h1v1h-1zM356.4 700.5h1v1h-1zM254.9 705.6h1v1h-1zM236.6 698.2h1v1h-1zM236.9 678.9h1v1h-1zM236.8 630.9h1v1h-1zM291.9 654.0h1v1h-1zM161.6 707.2h1v1h-1zM150.0 673.6h1v1h-1zM147.1 687.2h1v1h-1zM437.8 695.1h1v1h-1z" fill="#a08088" fill-opacity="0.2"/><path d="M389.7 586.4h1v1h-1zM374.5 616.0h1v1h-1zM295.8 682.9h1v1h-1zM345.4 697.0h1v1h-1zM231.4 660.4h1v1h-1zM317.4 569.5h1v1h-1zM268.0 651.5h1v1h-1zM305.5 613.1h1v1h-1zM207.4 692.6h1v1h-1zM292.3 526.4h1v1h-1zM354.9 686.6h1v1h-1zM357.8 566.3h1v1h-1zM407.5 684.4h1v1h-1zM416.9 696.4h1v1h-1zM350.9 705.2h1v1h-1zM292.4 685.5h1v1h-1zM257.0 689.2h1v1h-1zM224.4 707.6h1v1h-1zM201.8 622.0h1v1h-1zM307.9 671.6h1v1h-1zM188.9 677.9h1v1h-1zM157.2 649.2h1v1h-1zM250.1 631.9h1v1h-1zM410.0 534.3h1v1h-1zM330.9 695.4h1v1h-1zM205.2 699.3h1v1h-1zM387.8 647.1h1v1h-1zM267.1 704.6h1v1h-1zM342.9 696.7h1v1h-1zM406.4 591.1h1v1h-1zM238.0 529.0h1v1h-1zM264.8 565.9h1v1h-1zM188.7 688.8h1v1h-1zM404.6 633.5h1v1h-1zM295.0 649.6h1v1h-1zM243.7 689.7h1v1h-1zM328.5 608.9h1v1h-1zM346.2 699.4h1v1h-1zM371.2 603.6h1v1h-1zM249.1 702.8h1v1h-1zM261.8 623.6h1v1h-1zM396.6 564.1h1v1h-1zM356.2 623.4h1v1h-1zM387.1 622.0h1v1h-1zM356.2 617.4h1v1h-1zM348.6 684.9h1v1h-1zM427.9 680.4h1v1h-1zM269.8 550.4h1v1h-1zM325.9 664.4h1v1h-1zM416.9 630.7h1v1h-1zM375.3 644.1h1v1h-1zM401.6 590.3h1v1h-1zM227.3 703.2h1v1h-1zM158.5 663.3h1v1h-1zM214.0 688.9h1v1h-1zM249.2 542.5h1v1h-1zM261.8 608.7h1v1h-1zM151.0 668.4h1v1h-1zM178.3 629.8h1v1h-1zM265.3 630.7h1v1h-1zM261.3 623.3h1v1h-1zM436.8 657.4h1v1h-1zM240.9 701.8h1v1h-1zM242.4 566.6h1v1h-1zM385.7 689.6h1v1h-1zM179.3 699.9h1v1h-1zM401.7 704.8h1v1h-1zM246.6 605.1h1v1h-1zM422.2 698.8h1v1h-1zM421.8 665.8h1v1h-1zM241.0 609.1h1v1h-1zM379.3 526.5h1v1h-1zM151.6 692.3h1v1h-1zM338.2 652.9h1v1h-1zM303.0 603.9h1v1h-1zM392.7 665.9h1v1h-1zM395.8 686.0h1v1h-1zM163.9 690.1h1v1h-1zM327.6 697.9h1v1h-1zM164.9 668.4h1v1h-1zM313.7 635.4h1v1h-1zM221.5 654.9h1v1h-1zM433.8 685.8h1v1h-1zM307.2 593.0h1v1h-1zM385.7 546.2h1v1h-1zM154.8 704.9h1v1h-1zM238.5 582.4h1v1h-1zM388.4 581.5h1v1h-1zM318.7 653.0h1v1h-1zM217.2 701.2h1v1h-1zM278.1 639.5h1v1h-1zM317.3 553.8h1v1h-1zM225.0 665.6h1v1h-1zM355.9 555.0h1v1h-1zM272.5 619.7h1v1h-1zM316.9 696.8h1v1h-1zM341.9 696.8h1v1h-1zM191.0 708.0h1v1h-1zM370.7 590.0h1v1h-1zM348.8 703.3h1v1h-1zM385.5 631.1h1v1h-1zM307.9 568.1h1v1h-1zM296.5 572.7h1v1h-1zM192.2 563.0h1v1h-1zM375.7 667.0h1v1h-1zM179.7 678.1h1v1h-1zM362.7 635.7h1v1h-1zM400.1 689.9h1v1h-1zM406.8 700.8h1v1h-1zM305.6 544.1h1v1h-1zM294.6 690.6h1v1h-1zM225.9 676.5h1v1h-1zM271.0 518.5h1v1h-1zM382.4 690.8h1v1h-1zM319.3 656.3h1v1h-1zM230.1 659.3h1v1h-1zM355.7 559.3h1v1h-1zM351.6 670.3h1v1h-1zM310.9 681.0h1v1h-1zM372.5 585.1h1v1h-1zM270.2 674.1h1v1h-1zM277.0 627.7h1v1h-1zM239.2 530.6h1v1h-1zM154.4 660.6h1v1h-1zM394.1 689.3h1v1h-1zM292.4 685.8h1v1h-1zM242.4 658.1h1v1h-1zM359.9 679.9h1v1h-1zM259.2 633.5h1v1h-1zM274.7 688.9h1v1h-1zM425.7 628.4h1v1h-1zM335.1 679.9h1v1h-1zM161.2 585.4h1v1h-1zM299.4 590.3h1v1h-1zM245.8 649.3h1v1h-1zM156.7 676.7h1v1h-1zM335.3 562.7h1v1h-1zM156.7 691.4h1v1h-1zM243.6 681.0h1v1h-1zM358.8 641.0h1v1h-1zM309.1 624.4h1v1h-1zM320.4 700.4h1v1h-1zM167.1 684.7h1v1h-1zM349.3 604.7h1v1h-1zM251.8 628.8h1v1h-1zM149.5 668.1h1v1h-1zM405.4 675.2h1v1h-1zM278.2 705.1h1v1h-1zM349.5 553.9h1v1h-1zM193.1 582.8h1v1h-1zM414.1 534.8h1v1h-1zM193.9 706.9h1v1h-1zM336.9 690.4h1v1h-1zM276.7 605.3h1v1h-1zM335.2 631.3h1v1h-1zM387.9 607.4h1v1h-1zM172.5 659.9h1v1h-1zM324.6 569.8h1v1h-1zM384.8 645.0h1v1h-1zM308.1 642.5h1v1h-1zM371.4 628.7h1v1h-1zM425.0 648.6h1v1h-1zM356.4 611.4h1v1h-1zM385.3 687.3h1v1h-1zM273.6 680.1h1v1h-1zM391.0 706.3h1v1h-1zM182.4 707.6h1v1h-1zM387.5 702.3h1v1h-1zM390.3 563.5h1v1h-1zM417.9 634.9h1v1h-1zM409.4 687.2h1v1h-1zM404.0 671.5h1v1h-1zM157.9 689.1h1v1h-1zM427.1 631.0h1v1h-1zM216.7 692.4h1v1h-1zM295.3 706.9h1v1h-1zM285.6 671.2h1v1h-1zM273.5 619.6h1v1h-1zM220.6 645.7h1v1h-1zM401.9 699.1h1v1h-1zM319.1 587.5h1v1h-1zM321.9 632.4h1v1h-1zM332.2 577.4h1v1h-1zM445.6 663.2h1v1h-1zM234.1 675.7h1v1h-1zM383.5 598.3h1v1h-1zM372.3 697.2h1v1h-1zM257.8 641.1h1v1h-1zM175.6 663.9h1v1h-1zM300.2 643.3h1v1h-1zM286.7 650.2h1v1h-1zM169.6 674.2h1v1h-1zM247.5 678.9h1v1h-1zM326.9 664.6h1v1h-1zM338.6 692.9h1v1h-1zM186.2 629.8h1v1h-1zM257.1 631.1h1v1h-1zM358.3 639.6h1v1h-1zM331.5 599.1h1v1h-1zM329.9 549.0h1v1h-1zM265.7 693.4h1v1h-1zM410.1 594.7h1v1h-1zM256.8 585.5h1v1h-1zM333.5 640.4h1v1h-1zM432.3 674.8h1v1h-1zM284.2 680.8h1v1h-1zM341.5 607.5h1v1h-1zM243.8 545.5h1v1h-1zM244.5 612.3h1v1h-1zM347.9 629.4h1v1h-1zM387.0 542.2h1v1h-1zM244.6 644.2h1v1h-1zM238.0 640.7h1v1h-1zM199.5 600.8h1v1h-1zM295.6 611.3h1v1h-1zM148.2 698.1h1v1h-1zM275.5 610.4h1v1h-1zM163.5 682.3h1v1h-1zM285.6 625.9h1v1h-1zM347.9 648.8h1v1h-1zM394.5 592.9h1v1h-1zM311.0 525.4h1v1h-1zM372.2 660.1h1v1h-1zM312.3 675.6h1v1h-1zM430.9 679.7h1v1h-1zM162.4 682.7h1v1h-1zM385.0 651.4h1v1h-1zM190.9 583.4h1v1h-1zM321.9 571.4h1v1h-1zM285.1 586.0h1v1h-1zM315.2 637.4h1v1h-1zM153.7 657.5h1v1h-1zM218.2 699.9h1v1h-1zM208.7 705.0h1v1h-1zM260.8 656.4h1v1h-1zM294.5 624.5h1v1h-1zM348.0 522.8h1v1h-1zM395.2 660.2h1v1h-1zM364.2 670.8h1v1h-1zM337.3 606.5h1v1h-1zM258.8 638.8h1v1h-1zM325.9 646.1h1v1h-1zM211.0 701.9h1v1h-1zM371.7 546.2h1v1h-1zM322.5 679.6h1v1h-1zM289.2 612.1h1v1h-1zM243.8 597.6h1v1h-1zM306.1 596.2h1v1h-1zM265.8 576.6h1v1h-1zM385.7 681.1h1v1h-1zM294.3 603.4h1v1h-1zM251.5 702.6h1v1h-1zM438.2 670.4h1v1h-1zM397.3 540.5h1v1h-1zM303.4 605.3h1v1h-1zM409.3 617.4h1v1h-1zM394.8 663.1h1v1h-1zM358.1 561.6h1v1h-1zM367.6 658.6h1v1h-1zM383.8 685.6h1v1h-1zM345.6 685.9h1v1h-1zM331.6 657.9h1v1h-1zM324.1 615.5h1v1h-1zM272.3 578.7h1v1h-1zM170.9 533.8h1v1h-1zM286.3 645.4h1v1h-1zM224.7 594.5h1v1h-1zM275.2 688.1h1v1h-1zM262.3 699.9h1v1h-1zM248.7 537.6h1v1h-1zM334.4 589.0h1v1h-1zM349.8 655.1h1v1h-1zM334.9 562.2h1v1h-1zM409.0 668.5h1v1h-1zM382.0 571.4h1v1h-1zM335.7 680.9h1v1h-1zM372.3 635.8h1v1h-1zM372.0 669.7h1v1h-1zM371.8 685.9h1v1h-1zM388.7 689.0h1v1h-1zM388.6 666.8h1v1h-1zM388.5 669.5h1v1h-1zM371.7 682.8h1v1h-1zM427.7 679.7h1v1h-1zM153.3 704.0h1v1h-1zM153.4 699.1h1v1h-1zM153.5 704.9h1v1h-1zM179.2 697.9h1v1h-1zM288.3 650.3h1v1h-1zM288.3 627.8h1v1h-1zM311.1 700.5h1v1h-1zM311.3 705.9h1v1h-1zM148.2 685.3h1v1h-1zM148.3 676.0h1v1h-1zM148.5 695.9h1v1h-1zM211.0 697.8h1v1h-1zM230.4 652.0h1v1h-1zM379.3 703.1h1v1h-1zM193.6 688.8h1v1h-1zM388.9 669.9h1v1h-1zM334.1 664.1h1v1h-1zM333.9 619.7h1v1h-1zM333.8 695.1h1v1h-1zM334.0 638.0h1v1h-1zM183.3 684.3h1v1h-1zM144.7 689.6h1v1h-1zM144.6 700.0h1v1h-1zM145.1 684.0h1v1h-1zM208.7 705.9h1v1h-1zM210.4 609.4h1v1h-1zM210.7 700.8h1v1h-1zM446.1 678.0h1v1h-1zM446.0 695.4h1v1h-1zM445.6 707.1h1v1h-1zM446.1 699.4h1v1h-1zM446.0 670.8h1v1h-1zM233.2 668.1h1v1h-1zM309.6 641.3h1v1h-1zM309.6 662.6h1v1h-1zM352.3 698.5h1v1h-1zM207.0 693.7h1v1h-1zM235.8 686.9h1v1h-1zM255.0 701.3h1v1h-1zM195.1 646.4h1v1h-1zM189.3 700.9h1v1h-1zM164.0 683.3h1v1h-1zM237.1 693.9h1v1h-1zM237.0 682.5h1v1h-1zM236.8 638.1h1v1h-1zM236.7 647.1h1v1h-1zM329.7 672.4h1v1h-1zM329.2 700.0h1v1h-1zM239.2 691.3h1v1h-1zM239.7 687.3h1v1h-1zM291.7 619.0h1v1h-1zM291.9 643.8h1v1h-1zM292.0 670.8h1v1h-1zM291.9 653.4h1v1h-1zM360.6 700.0h1v1h-1zM360.7 695.6h1v1h-1zM161.8 677.1h1v1h-1zM443.5 627.4h1v1h-1zM443.8 676.6h1v1h-1zM151.4 685.1h1v1h-1zM374.5 657.0h1v1h-1zM374.7 678.3h1v1h-1zM374.8 695.8h1v1h-1zM374.5 660.8h1v1h-1zM374.5 636.8h1v1h-1zM403.7 669.9h1v1h-1zM150.0 656.7h1v1h-1zM256.7 699.0h1v1h-1zM256.5 659.3h1v1h-1zM256.8 697.3h1v1h-1zM147.3 694.6h1v1h-1zM199.5 654.9h1v1h-1zM199.9 662.9h1v1h-1zM199.6 704.1h1v1h-1z" fill="#a08088" fill-opacity="0.4"/><path d="M269.3 696.9h1v1h-1zM168.1 702.4h1v1h-1zM195.2 694.7h1v1h-1zM268.8 603.0h1v1h-1zM334.2 680.2h1v1h-1zM366.9 655.5h1v1h-1zM319.4 695.3h1v1h-1zM226.5 596.9h1v1h-1zM434.4 697.5h1v1h-1zM326.7 577.8h1v1h-1zM271.7 612.4h1v1h-1zM340.8 686.5h1v1h-1zM370.4 644.2h1v1h-1zM401.6 563.5h1v1h-1zM279.5 611.6h1v1h-1zM205.8 686.9h1v1h-1zM175.0 687.9h1v1h-1zM438.3 668.4h1v1h-1zM316.5 644.1h1v1h-1zM346.2 629.6h1v1h-1zM327.0 662.6h1v1h-1zM176.0 626.4h1v1h-1zM302.0 647.9h1v1h-1zM419.6 687.7h1v1h-1zM350.4 635.3h1v1h-1zM300.2 633.9h1v1h-1zM357.2 539.1h1v1h-1zM397.2 594.5h1v1h-1zM279.5 583.3h1v1h-1zM321.1 607.0h1v1h-1zM417.7 688.0h1v1h-1zM150.4 677.4h1v1h-1zM288.3 700.0h1v1h-1zM247.7 538.1h1v1h-1zM271.9 648.3h1v1h-1zM225.0 573.2h1v1h-1zM285.9 654.1h1v1h-1zM340.4 638.4h1v1h-1zM200.6 670.5h1v1h-1zM359.2 550.8h1v1h-1zM230.2 646.9h1v1h-1zM400.1 624.1h1v1h-1zM278.8 610.3h1v1h-1zM320.9 706.4h1v1h-1zM221.5 544.5h1v1h-1zM402.9 704.2h1v1h-1zM251.5 607.7h1v1h-1zM383.3 693.8h1v1h-1zM408.0 664.5h1v1h-1zM276.1 529.1h1v1h-1zM313.7 559.7h1v1h-1zM305.9 679.8h1v1h-1zM313.0 704.5h1v1h-1zM326.6 674.0h1v1h-1zM149.7 684.3h1v1h-1zM259.8 552.3h1v1h-1zM187.7 679.4h1v1h-1zM344.9 702.7h1v1h-1zM400.7 619.9h1v1h-1zM252.1 701.3h1v1h-1zM352.0 617.6h1v1h-1zM319.6 702.5h1v1h-1zM387.4 707.6h1v1h-1zM388.6 699.9h1v1h-1zM245.4 591.2h1v1h-1zM210.4 704.0h1v1h-1zM223.9 544.3h1v1h-1zM404.0 597.3h1v1h-1zM206.0 664.0h1v1h-1zM439.2 663.5h1v1h-1zM312.4 601.9h1v1h-1zM239.8 697.6h1v1h-1zM398.0 695.0h1v1h-1zM155.9 681.5h1v1h-1zM318.1 675.4h1v1h-1zM152.6 701.5h1v1h-1zM370.6 661.2h1v1h-1zM427.6 702.6h1v1h-1zM401.5 684.5h1v1h-1zM156.2 687.4h1v1h-1zM355.7 628.9h1v1h-1zM388.6 670.0h1v1h-1zM153.2 703.0h1v1h-1zM343.3 687.7h1v1h-1zM179.0 676.8h1v1h-1zM187.2 691.4h1v1h-1zM183.1 679.9h1v1h-1zM411.7 671.9h1v1h-1zM210.7 644.0h1v1h-1zM445.8 670.4h1v1h-1zM412.0 619.5h1v1h-1zM195.2 680.3h1v1h-1zM164.2 704.1h1v1h-1zM329.7 660.5h1v1h-1zM145.4 704.5h1v1h-1zM248.2 605.1h1v1h-1zM239.6 678.6h1v1h-1zM151.4 693.8h1v1h-1zM151.4 683.3h1v1h-1zM386.3 640.5h1v1h-1zM147.3 688.6h1v1h-1zM158.9 690.9h1v1h-1zM437.6 662.6h1v1h-1z" fill="#8a8a8a" fill-opacity="0.2"/><path d="M169.7 672.5h1v1h-1zM307.2 635.9h1v1h-1zM345.3 564.1h1v1h-1zM279.2 682.8h1v1h-1zM351.2 540.3h1v1h-1zM380.0 629.5h1v1h-1zM387.7 685.2h1v1h-1zM248.5 641.4h1v1h-1zM279.8 653.9h1v1h-1zM291.6 613.2h1v1h-1zM145.8 688.1h1v1h-1zM238.4 705.8h1v1h-1zM310.0 600.3h1v1h-1zM218.3 694.8h1v1h-1zM219.6 707.1h1v1h-1zM262.7 643.3h1v1h-1zM193.0 699.9h1v1h-1zM175.5 647.0h1v1h-1zM328.9 560.2h1v1h-1zM402.8 517.1h1v1h-1zM154.2 629.5h1v1h-1zM336.0 627.1h1v1h-1zM278.2 703.7h1v1h-1zM345.9 578.8h1v1h-1zM318.9 610.3h1v1h-1zM241.5 561.1h1v1h-1zM166.6 681.5h1v1h-1zM233.4 683.6h1v1h-1zM150.5 665.2h1v1h-1zM409.4 523.6h1v1h-1zM373.2 680.0h1v1h-1zM433.4 707.8h1v1h-1zM157.3 702.0h1v1h-1zM306.8 657.4h1v1h-1zM356.6 608.1h1v1h-1zM450.3 612.4h1v1h-1zM293.3 529.2h1v1h-1zM158.5 633.4h1v1h-1zM406.7 623.1h1v1h-1zM203.7 680.7h1v1h-1zM336.8 561.0h1v1h-1zM226.5 542.2h1v1h-1zM389.4 601.2h1v1h-1zM354.0 629.1h1v1h-1zM258.8 602.7h1v1h-1zM160.1 678.6h1v1h-1zM305.4 690.6h1v1h-1zM337.2 635.0h1v1h-1zM156.7 689.0h1v1h-1zM390.5 609.0h1v1h-1zM324.7 638.7h1v1h-1zM422.7 675.7h1v1h-1zM371.3 670.5h1v1h-1zM287.4 659.2h1v1h-1zM425.7 678.7h1v1h-1zM379.3 649.4h1v1h-1zM352.4 681.5h1v1h-1zM352.4 689.3h1v1h-1zM145.6 665.5h1v1h-1zM241.3 675.7h1v1h-1zM292.1 706.7h1v1h-1zM374.3 634.8h1v1h-1zM256.7 648.8h1v1h-1zM322.1 670.1h1v1h-1zM199.7 643.9h1v1h-1zM437.3 703.6h1v1h-1z" fill="#888888" fill-opacity="0.2"/><path d="M292.7 647.1h1v1h-1zM160.5 703.0h1v1h-1zM407.3 583.6h1v1h-1zM236.5 698.1h1v1h-1zM311.0 675.3h1v1h-1zM410.9 677.6h1v1h-1zM291.3 682.5h1v1h-1zM229.2 627.0h1v1h-1zM157.3 702.1h1v1h-1zM252.9 635.5h1v1h-1zM303.1 662.6h1v1h-1zM195.6 694.0h1v1h-1zM172.0 643.1h1v1h-1zM374.2 654.7h1v1h-1zM241.8 657.5h1v1h-1zM330.2 594.8h1v1h-1zM314.0 630.1h1v1h-1zM297.3 609.2h1v1h-1zM284.8 664.4h1v1h-1zM420.3 692.3h1v1h-1zM341.0 660.5h1v1h-1zM368.6 603.4h1v1h-1zM271.6 668.8h1v1h-1zM334.8 676.1h1v1h-1zM261.7 686.0h1v1h-1zM215.0 687.7h1v1h-1zM156.4 612.6h1v1h-1zM323.0 680.8h1v1h-1zM302.3 610.0h1v1h-1zM367.8 646.1h1v1h-1zM155.0 703.5h1v1h-1zM193.9 663.0h1v1h-1zM290.3 538.0h1v1h-1zM248.4 602.1h1v1h-1zM398.8 527.8h1v1h-1zM363.5 687.6h1v1h-1zM262.9 554.1h1v1h-1zM419.0 706.9h1v1h-1zM268.9 654.3h1v1h-1zM201.1 694.7h1v1h-1zM398.9 680.4h1v1h-1zM447.0 691.5h1v1h-1zM326.0 629.8h1v1h-1zM411.3 667.0h1v1h-1zM396.7 670.8h1v1h-1zM328.7 583.0h1v1h-1zM286.4 660.3h1v1h-1zM430.0 706.4h1v1h-1zM410.7 556.5h1v1h-1zM323.6 609.8h1v1h-1zM311.2 692.0h1v1h-1zM427.4 695.5h1v1h-1zM308.8 701.0h1v1h-1zM428.6 692.1h1v1h-1zM240.9 576.5h1v1h-1zM372.7 624.1h1v1h-1zM220.4 684.6h1v1h-1zM403.7 626.7h1v1h-1zM210.2 617.7h1v1h-1zM443.6 704.1h1v1h-1zM246.5 707.0h1v1h-1zM178.9 672.5h1v1h-1zM220.0 694.2h1v1h-1zM425.8 685.3h1v1h-1zM183.5 685.1h1v1h-1zM433.2 700.3h1v1h-1zM433.3 689.0h1v1h-1zM418.9 694.1h1v1h-1zM195.1 704.5h1v1h-1zM164.5 699.4h1v1h-1zM352.5 666.5h1v1h-1zM151.1 689.4h1v1h-1zM151.4 699.7h1v1h-1zM374.3 679.5h1v1h-1zM374.3 697.9h1v1h-1zM200.1 681.5h1v1h-1z" fill="#7c7c84" fill-opacity="0.2"/><path d="M285.1 612.2h1v1h-1zM408.2 563.7h1v1h-1zM330.6 553.7h1v1h-1zM388.2 705.4h1v1h-1zM332.5 607.6h1v1h-1zM422.3 675.9h1v1h-1zM382.9 584.1h1v1h-1zM444.7 630.5h1v1h-1zM244.4 619.3h1v1h-1zM307.4 620.6h1v1h-1zM356.5 697.9h1v1h-1zM388.5 645.7h1v1h-1zM323.8 599.4h1v1h-1zM218.8 670.6h1v1h-1zM379.4 547.5h1v1h-1zM349.8 595.6h1v1h-1zM328.4 638.6h1v1h-1zM257.3 639.7h1v1h-1zM405.5 686.3h1v1h-1zM253.2 682.9h1v1h-1zM289.1 678.9h1v1h-1zM252.6 687.3h1v1h-1zM370.1 556.0h1v1h-1zM254.4 621.8h1v1h-1zM271.1 671.2h1v1h-1zM153.4 604.0h1v1h-1zM277.0 516.7h1v1h-1zM318.0 602.6h1v1h-1zM398.9 700.0h1v1h-1zM337.1 690.3h1v1h-1zM268.9 704.7h1v1h-1zM395.3 700.4h1v1h-1zM220.4 599.8h1v1h-1zM169.1 702.9h1v1h-1zM363.4 641.8h1v1h-1zM314.0 675.0h1v1h-1zM356.9 604.5h1v1h-1zM280.2 635.7h1v1h-1zM303.5 567.0h1v1h-1zM236.1 625.6h1v1h-1zM206.8 665.8h1v1h-1zM393.7 664.3h1v1h-1zM215.0 683.3h1v1h-1zM309.7 693.4h1v1h-1zM151.3 692.8h1v1h-1zM299.1 704.0h1v1h-1zM371.8 593.4h1v1h-1zM230.5 695.7h1v1h-1zM206.7 676.3h1v1h-1zM153.3 620.8h1v1h-1zM234.8 665.3h1v1h-1zM275.3 644.4h1v1h-1zM299.4 554.3h1v1h-1zM260.6 547.5h1v1h-1zM403.8 692.7h1v1h-1zM164.5 702.9h1v1h-1zM293.9 654.0h1v1h-1zM329.1 704.1h1v1h-1zM256.0 688.4h1v1h-1zM218.7 679.0h1v1h-1zM216.3 626.9h1v1h-1zM300.3 569.9h1v1h-1zM191.2 610.5h1v1h-1zM243.1 617.6h1v1h-1zM294.6 653.4h1v1h-1zM252.2 622.7h1v1h-1zM231.0 575.8h1v1h-1zM348.5 701.8h1v1h-1zM354.8 563.6h1v1h-1zM330.8 662.4h1v1h-1zM261.8 597.4h1v1h-1zM253.6 655.5h1v1h-1zM319.4 650.4h1v1h-1zM153.0 667.1h1v1h-1zM343.7 698.7h1v1h-1zM288.3 571.7h1v1h-1zM148.5 668.3h1v1h-1zM148.1 691.4h1v1h-1zM211.1 700.7h1v1h-1zM379.5 664.9h1v1h-1zM333.8 543.7h1v1h-1zM145.0 705.9h1v1h-1zM411.7 685.8h1v1h-1zM309.8 681.7h1v1h-1zM255.3 648.3h1v1h-1zM195.0 693.7h1v1h-1zM329.2 681.5h1v1h-1zM329.4 668.8h1v1h-1zM239.3 665.4h1v1h-1zM241.4 679.8h1v1h-1zM360.6 668.5h1v1h-1zM321.9 696.1h1v1h-1zM147.3 702.3h1v1h-1z" fill="#7a7f98" fill-opacity="0.2"/><line x1="293.8" y1="512.5" x2="293.8" y2="708.5" stroke="#444" stroke-width="0.9" stroke-dasharray="1.2,0.8"/><line x1="218" y1="512.6" x2="318" y2="512.6" stroke="#999" stroke-width="0.6" stroke-dasharray="0.8,2"/><line x1="88" y1="506.9" x2="88" y2="709.3" stroke="#1a1a1a" stroke-width="1.05"/><line x1="87.4" y1="708.8" x2="508.1" y2="708.8" stroke="#1a1a1a" stroke-width="1.05"/><line x1="82.8" y1="708.70" x2="88" y2="708.70" stroke="#1a1a1a" stroke-width="1"/><text x="80.20" y="711.94" font-size="9" text-anchor="end" fill="#222" stroke="#222" stroke-width="0.06" textLength="5.0" lengthAdjust="spacingAndGlyphs">0</text><line x1="82.8" y1="675.83" x2="88" y2="675.83" stroke="#1a1a1a" stroke-width="1"/><text x="80.20" y="679.07" font-size="9" text-anchor="end" fill="#222" stroke="#222" stroke-width="0.06" textLength="15.0" lengthAdjust="spacingAndGlyphs">500</text><line x1="82.8" y1="642.97" x2="88" y2="642.97" stroke="#1a1a1a" stroke-width="1"/><text x="80.20" y="646.21" font-size="9" text-anchor="end" fill="#222" stroke="#222" stroke-width="0.06" textLength="20.0" lengthAdjust="spacingAndGlyphs">1000</text><line x1="82.8" y1="610.10" x2="88" y2="610.10" stroke="#1a1a1a" stroke-width="1"/><text x="80.20" y="613.34" font-size="9" text-anchor="end" fill="#222" stroke="#222" stroke-width="0.06" textLength="20.0" lengthAdjust="spacingAndGlyphs">1500</text><line x1="82.8" y1="577.23" x2="88" y2="577.23" stroke="#1a1a1a" stroke-width="1"/><text x="80.20" y="580.47" font-size="9" text-anchor="end" fill="#222" stroke="#222" stroke-width="0.06" textLength="20.0" lengthAdjust="spacingAndGlyphs">2000</text><line x1="82.8" y1="544.37" x2="88" y2="544.37" stroke="#1a1a1a" stroke-width="1"/><text x="80.20" y="547.61" font-size="9" text-anchor="end" fill="#222" stroke="#222" stroke-width="0.06" textLength="20.0" lengthAdjust="spacingAndGlyphs">2500</text><line x1="82.8" y1="511.50" x2="88" y2="511.50" stroke="#1a1a1a" stroke-width="1"/><text x="80.20" y="514.74" font-size="9" text-anchor="end" fill="#222" stroke="#222" stroke-width="0.06" textLength="20.0" lengthAdjust="spacingAndGlyphs">3000</text><line x1="87.6" y1="708.8" x2="87.6" y2="712.4" stroke="#1a1a1a" stroke-width="1"/><text x="87.60" y="724.22" font-size="8.4" text-anchor="middle" fill="#222" stroke="#222" stroke-width="0.1" textLength="16.2" lengthAdjust="spacingAndGlyphs">33.6</text><line x1="191.25" y1="708.8" x2="191.25" y2="712.4" stroke="#1a1a1a" stroke-width="1"/><text x="191.25" y="724.22" font-size="8.4" text-anchor="middle" fill="#222" stroke="#222" stroke-width="0.1" textLength="16.2" lengthAdjust="spacingAndGlyphs">33.7</text><line x1="295.6" y1="708.8" x2="295.6" y2="712.4" stroke="#1a1a1a" stroke-width="1"/><text x="295.60" y="724.22" font-size="8.4" text-anchor="middle" fill="#222" stroke="#222" stroke-width="0.1" textLength="16.2" lengthAdjust="spacingAndGlyphs">33.8</text><line x1="400.3" y1="708.8" x2="400.3" y2="712.4" stroke="#1a1a1a" stroke-width="1"/><text x="400.30" y="724.22" font-size="8.4" text-anchor="middle" fill="#222" stroke="#222" stroke-width="0.1" textLength="16.2" lengthAdjust="spacingAndGlyphs">33.9</text><line x1="504" y1="708.8" x2="504" y2="712.4" stroke="#1a1a1a" stroke-width="1"/><text x="504.00" y="724.22" font-size="8.4" text-anchor="middle" fill="#222" stroke="#222" stroke-width="0.1" textLength="16.2" lengthAdjust="spacingAndGlyphs">34.0</text><text x="298.10" y="740.35" font-size="9.3" text-anchor="middle" fill="#1a1a1a" stroke="#1a1a1a" stroke-width="0.25" textLength="97.8" lengthAdjust="spacingAndGlyphs">Genomic distance (MB)</text><text x="47.60" y="610.85" font-size="9.3" text-anchor="middle" fill="#1a1a1a" stroke="#1a1a1a" stroke-width="0.25" textLength="71.5" lengthAdjust="spacingAndGlyphs" transform="rotate(-90 47.60 607.50)">Reads per million</text><rect x="93.7" y="522.5" width="6.3" height="6.2" fill="#22397a"/><rect x="93.7" y="536" width="6.3" height="6" fill="#b8303c"/><text x="103.70" y="528.88" font-size="8" text-anchor="start" fill="#222" stroke="#222" stroke-width="0.1" textLength="59.2" lengthAdjust="spacingAndGlyphs">CEBPA– (N = 3)</text><text x="103.70" y="541.68" font-size="8" text-anchor="start" fill="#222" stroke="#222" stroke-width="0.1" textLength="59.2" lengthAdjust="spacingAndGlyphs">CEBPA+ (N = 3)</text><rect x="200" y="487.8" width="14.6" height="3.7" fill="#b4b4b4"/><rect x="283.8" y="487.8" width="7.4" height="3.7" fill="#7c7c7c"/><rect x="370" y="487.8" width="10.8" height="3.7" fill="#b2b2ba"/><text x="205.80" y="483.69" font-size="8.3" text-anchor="middle" fill="#1a1a1a" stroke="#1a1a1a" stroke-width="0.1" textLength="34.4" lengthAdjust="spacingAndGlyphs">SLC7A10</text><text x="290.00" y="483.69" font-size="8.3" text-anchor="middle" fill="#1a1a1a" stroke="#1a1a1a" stroke-width="0.1" textLength="27" lengthAdjust="spacingAndGlyphs">CEBPA</text><text x="376.00" y="483.69" font-size="8.3" text-anchor="middle" fill="#1a1a1a" stroke="#1a1a1a" stroke-width="0.1" textLength="29" lengthAdjust="spacingAndGlyphs">CEBPG</text><text x="243.40" y="498.49" font-size="8.3" text-anchor="middle" fill="#1a1a1a" stroke="#1a1a1a" stroke-width="0.2" textLength="18.9" lengthAdjust="spacingAndGlyphs">21Kb</text><text x="242.70" y="508.99" font-size="8.3" text-anchor="middle" fill="#1a1a1a" stroke="#1a1a1a" stroke-width="0.2" textLength="52.6" lengthAdjust="spacingAndGlyphs">Contact region</text><text x="301.30" y="510.79" font-size="8.3" text-anchor="middle" fill="#1a1a1a" stroke="#1a1a1a" stroke-width="0.25" textLength="35" lengthAdjust="spacingAndGlyphs">Viewpoint</text><clipPath id="dclip"><rect x="88" y="511.5" width="420" height="197.5"/></clipPath><path d="M144.2,695.05 L145.0,698.29 L145.8,699.43 L146.9,699.21 L148.0,698.05 L149.0,695.34 L150.0,694.86 L151.25,699.48 L152.5,697.94 L153.75,697.83 L155.0,701.18 L156.25,699.62 L157.5,701.98 L158.75,700.65 L160.0,701.61 L161.25,700.46 L162.5,703.59 L163.75,705.52 L165.0,704.9 L166.0,706.19 L167.0,706.22 L168.0,703.88 L169.0,705.04 L170.0,702.4 L171.0,699.63 L172.0,696.94 L173.0,699.11 L174.0,695.88 L175.0,696.16 L175.75,698.02 L176.5,698.44 L177.25,699.6 L178.0,697.54 L179.0,699.07 L180.0,697.26 L181.0,699.17 L182.0,698.67 L183.0,695.98 L184.0,696.9 L185.0,698.0 L186.0,702.05 L187.0,699.22 L188.0,699.56 L189.0,697.62 L190.0,698.03 L191.0,696.0 L192.0,694.34 L193.0,694.02 L194.0,692.67 L194.75,693.68 L195.5,692.3 L196.6,693.64 L197.7,693.57 L198.6,695.66 L199.5,695.75 L200.5,694.52 L201.5,698.59 L202.5,698.54 L203.5,697.78 L204.45,696.8 L205.4,697.94 L206.2,696.73 L207.0,700.46 L208.3,700.32 L209.15,700.55 L210.0,701.08 L211.2,706.0 L212.1,707.5 L213.0,702.56 L214.0,694.16 L214.75,685.69 L215.5,684.32 L216.9,675.61 L218.3,679.46 L219.05,687.19 L219.8,696.38 L220.55,689.24 L221.3,677.99 L222.7,665.5 L223.5,645.0 L224.6,623.96 L225.5,611.26 L226.5,609.68 L227.65,611.61 L228.8,611.02 L230.0,624.19 L231.3,639.16 L232.3,653.14 L233.3,661.94 L234.5,660.94 L235.35,662.37 L236.2,663.99 L236.5,666.69 L237.43,663.72 L238.37,662.25 L239.3,664.92 L240.27,666.31 L241.23,672.98 L242.2,676.55 L243.13,673.3 L244.07,672.69 L245.0,671.99 L246.15,669.68 L247.3,666.62 L248.35,676.46 L249.4,686.73 L250.4,678.14 L251.4,666.23 L252.2,662.3 L253.0,659.97 L254.05,662.85 L255.1,668.12 L256.07,670.17 L257.03,667.23 L258.0,666.41 L258.93,662.15 L259.87,662.03 L260.8,660.85 L261.77,660.29 L262.73,664.81 L263.7,666.78 L264.63,668.1 L265.57,674.43 L266.5,677.55 L267.47,680.39 L268.43,680.85 L269.4,684.31 L270.37,676.81 L271.33,666.03 L272.3,658.57 L273.23,653.61 L274.17,647.21 L275.1,636.4 L276.07,639.81 L277.03,642.91 L278.0,644.21 L278.97,645.4 L279.93,646.18 L280.9,647.42 L281.83,649.09 L282.77,648.46 L283.7,649.46 L284.7,648.7 L285.7,642.92 L286.6,664.5 L287.5,684.43 L288.5,653.86 L289.5,624.78 L290.9,566.34 L292.3,511.5 L293.0,480.0 L293.96,480.0 L294.92,480.0 L295.88,480.0 L296.83,480.0 L297.79,480.0 L298.75,480.0 L299.71,480.0 L300.67,480.0 L301.62,480.0 L302.58,480.0 L303.54,480.0 L304.5,480.0 L305.2,511.5 L306.5,538.85 L307.55,536.52 L308.6,535.52 L309.5,555.87 L310.9,566.25 L312.0,566.22 L312.9,589.27 L314.3,626.47 L315.2,664.53 L316.6,644.16 L317.6,636.84 L318.6,633.28 L320.0,646.16 L321.15,644.29 L322.3,639.48 L323.35,642.79 L324.4,646.63 L325.8,639.83 L327.2,652.74 L328.2,656.85 L329.2,658.39 L330.35,656.96 L331.5,658.83 L332.65,649.7 L333.8,637.52 L334.8,639.65 L335.8,639.02 L337.2,626.57 L337.95,631.63 L338.7,638.19 L340.1,658.79 L341.5,673.52 L342.4,688.03 L343.4,686.65 L344.4,685.2 L345.37,682.65 L346.33,674.49 L347.3,669.02 L348.23,670.32 L349.17,667.21 L350.1,664.84 L351.07,660.98 L352.03,661.81 L353.0,660.28 L354.15,666.48 L355.3,678.08 L356.3,672.73 L357.3,666.22 L358.3,659.13 L359.3,651.67 L360.15,662.65 L361.0,672.9 L362.0,673.65 L363.0,677.39 L364.15,668.91 L365.3,664.06 L366.3,653.5 L367.3,650.08 L368.45,639.1 L369.6,630.06 L370.6,617.79 L371.6,605.66 L373.0,620.04 L374.05,623.26 L375.1,632.18 L376.5,652.66 L377.65,656.07 L378.8,660.52 L379.8,657.06 L380.8,653.72 L381.95,664.58 L383.1,671.69 L384.07,672.44 L385.03,673.98 L386.0,678.59 L386.93,676.9 L387.87,678.24 L388.8,676.35 L389.95,682.17 L391.1,690.15 L392.3,699.09 L393.15,687.4 L394.0,681.28 L395.0,669.36 L396.0,656.35 L397.0,644.82 L398.0,629.63 L399.15,634.67 L400.3,638.0 L401.4,636.72 L402.8,658.99 L404.1,678.98 L405.5,692.62 L406.5,693.31 L407.5,694.68 L408.75,698.22 L410.0,697.01 L411.0,698.17 L412.0,699.42 L413.0,700.35 L414.0,700.75 L415.0,705.39 L416.0,705.39 L417.0,702.55 L418.0,704.91 L419.0,704.64 L420.0,706.0 L421.0,706.2 L422.0,706.4 L423.0,706.6 L424.0,706.8 L425.0,707.0 L426.0,707.06 L427.0,707.12 L428.0,707.18 L429.0,707.24 L430.0,707.3 L431.0,707.24 L432.0,707.18 L433.0,707.12 L434.0,707.06 L435.0,707.0 L436.0,706.92 L437.0,706.84 L438.0,706.76 L439.0,706.68 L440.0,706.6 L441.0,706.54 L442.0,706.48 L443.0,706.42 L444.0,706.36 L445.0,706.3 L446.0,706.24 L447.0,706.18 L448.0,706.12 L449.0,706.06 L450.0,706.0 L451.2,706" fill="none" stroke="#1f3a72" stroke-width="1.6" stroke-linejoin="round" clip-path="url(#dclip)"/><path d="M144.2,686.68 L145.0,690.2 L145.8,694.85 L146.65,693.48 L147.5,691.39 L148.55,689.84 L149.6,689.65 L150.55,689.54 L151.5,692.24 L152.5,693.6 L153.5,692.77 L154.45,690.45 L155.4,689.89 L156.2,692.09 L157.0,694.46 L158.1,697.24 L159.2,697.47 L160.5,698.33 L161.3,698.54 L162.1,698.7 L163.05,699.19 L164.0,700.48 L164.97,702.19 L165.93,701.75 L166.9,703.75 L167.85,698.88 L168.8,694.08 L169.65,694.26 L170.5,693.86 L171.6,689.81 L172.7,690.07 L174.0,683.67 L175.0,679.57 L175.75,684.12 L176.5,685.95 L177.5,687.3 L178.5,685.88 L179.25,684.25 L180.0,685.84 L181.3,685.84 L182.05,689.88 L182.8,690.21 L184.2,692.1 L185.5,688.29 L186.3,686.54 L187.1,685.63 L188.5,685.28 L189.25,683.55 L190.0,685.99 L191.0,684.62 L192.0,686.43 L192.9,690.41 L193.8,688.39 L194.65,688.9 L195.5,689.24 L196.6,692.82 L197.7,689.89 L198.6,690.55 L199.5,695.5 L200.5,693.43 L201.5,697.71 L202.5,696.36 L203.5,696.48 L204.45,697.59 L205.4,696.55 L206.2,698.41 L207.0,695.96 L208.3,700.18 L209.15,700.55 L210.0,702.95 L211.2,703.27 L212.1,706.7 L213.0,701.1 L214.0,692.31 L214.75,683.27 L215.5,679.23 L216.9,673.28 L218.3,679.44 L219.05,678.27 L219.8,679.39 L220.55,675.3 L221.3,672.51 L222.7,664.62 L223.5,644.53 L224.6,620.62 L225.5,609.55 L226.5,606.04 L227.65,607.34 L228.8,606.87 L230.0,618.0 L231.3,633.78 L232.3,644.62 L233.3,656.89 L234.5,646.51 L235.35,646.94 L236.2,645.33 L236.5,641.16 L237.43,641.44 L238.37,642.26 L239.3,643.93 L240.27,643.12 L241.23,637.89 L242.2,635.72 L243.13,642.43 L244.07,647.0 L245.0,649.08 L246.15,644.45 L247.3,641.36 L248.35,649.07 L249.4,659.48 L250.4,650.58 L251.4,643.68 L252.2,637.44 L253.0,632.02 L254.05,643.39 L255.1,653.9 L256.07,653.87 L257.03,658.54 L258.0,660.12 L258.93,659.19 L259.87,655.14 L260.8,650.88 L261.77,653.52 L262.73,655.54 L263.7,660.41 L264.63,662.82 L265.57,664.72 L266.5,668.39 L267.47,669.22 L268.43,672.21 L269.4,670.43 L270.37,666.49 L271.33,656.58 L272.3,649.44 L273.23,642.66 L274.17,638.07 L275.1,631.82 L276.07,633.02 L277.03,635.05 L278.0,638.47 L278.97,641.0 L279.93,640.93 L280.9,644.33 L281.83,646.26 L282.77,645.02 L283.7,644.91 L284.7,639.23 L285.7,635.66 L286.6,644.07 L287.5,653.92 L288.5,631.96 L289.5,607.77 L290.9,555.93 L292.3,511.5 L293.0,480.0 L293.96,480.0 L294.92,480.0 L295.88,480.0 L296.83,480.0 L297.79,480.0 L298.75,480.0 L299.71,480.0 L300.67,480.0 L301.62,480.0 L302.58,480.0 L303.54,480.0 L304.5,480.0 L305.2,511.5 L306.3,550.54 L307.15,563.12 L308.0,578.3 L309.2,558.88 L310.0,547.56 L310.9,567.72 L312.0,567.51 L312.9,585.18 L314.3,614.26 L315.2,635.71 L316.6,638.58 L317.6,634.31 L318.6,633.27 L320.0,642.38 L321.15,639.77 L322.3,637.85 L323.35,642.57 L324.4,643.93 L325.8,636.77 L327.2,651.62 L328.2,653.24 L329.2,653.42 L330.35,656.52 L331.5,659.6 L332.65,645.67 L333.8,634.9 L334.8,634.42 L335.8,636.51 L337.2,626.73 L337.95,628.65 L338.7,636.4 L340.1,659.4 L341.5,670.23 L342.4,688.14 L343.4,684.25 L344.4,684.6 L345.37,679.73 L346.33,672.9 L347.3,669.77 L348.23,666.84 L349.17,664.68 L350.1,659.47 L351.07,660.19 L352.03,659.66 L353.0,656.96 L354.15,665.66 L355.3,673.1 L356.3,669.02 L357.3,662.65 L358.3,657.81 L359.3,651.19 L360.15,661.44 L361.0,670.5 L362.0,673.99 L363.0,675.38 L364.15,666.24 L365.3,662.22 L366.3,653.98 L367.3,644.44 L368.45,637.95 L369.6,624.42 L370.6,613.11 L371.6,602.67 L373.0,617.93 L374.05,623.44 L375.1,629.55 L376.5,651.71 L377.65,653.92 L378.8,656.18 L379.8,652.85 L380.8,652.85 L381.95,661.57 L383.1,669.19 L384.07,671.99 L385.03,672.25 L386.0,673.77 L386.93,674.29 L387.87,676.44 L388.8,672.79 L389.95,679.12 L391.1,682.29 L392.3,695.98 L393.15,684.16 L394.0,674.06 L395.0,665.77 L396.0,657.78 L397.0,651.65 L398.0,642.65 L399.15,643.38 L400.3,638.69 L401.4,641.69 L402.8,658.44 L404.1,674.6 L405.5,689.73 L406.5,689.8 L407.5,687.71 L408.4,688.63 L409.3,690.53 L410.2,692.87 L411.2,694.89 L412.2,696.29 L413.2,696.25 L414.2,694.94 L415.1,696.95 L416.0,696.95 L416.9,699.32 L417.8,699.97 L418.7,698.82 L419.6,699.5 L420.6,702.16 L421.6,699.18 L422.6,702.91 L423.6,703.62 L424.62,704.55 L425.65,702.74 L426.68,704.16 L427.7,704.97 L428.78,705.47 L429.86,707.26 L430.94,706.26 L432.02,704.84 L433.1,706.0 L434.2,706.68 L435.3,704.13 L436.4,703.75 L437.34,704.02 L438.28,700.55 L439.22,703.65 L440.16,702.89 L441.1,701.86 L442.18,701.6 L443.26,700.93 L444.34,699.35 L445.42,700.43 L446.5,697.86 L447.4,699.9 L448.3,700.54 L449.2,699.65 L450.2,701.19 L451.2,701.9" fill="none" stroke="#b81a38" stroke-width="1.6" stroke-linejoin="round" clip-path="url(#dclip)"/></svg>
<div class="frame"></div>
</body></html>
